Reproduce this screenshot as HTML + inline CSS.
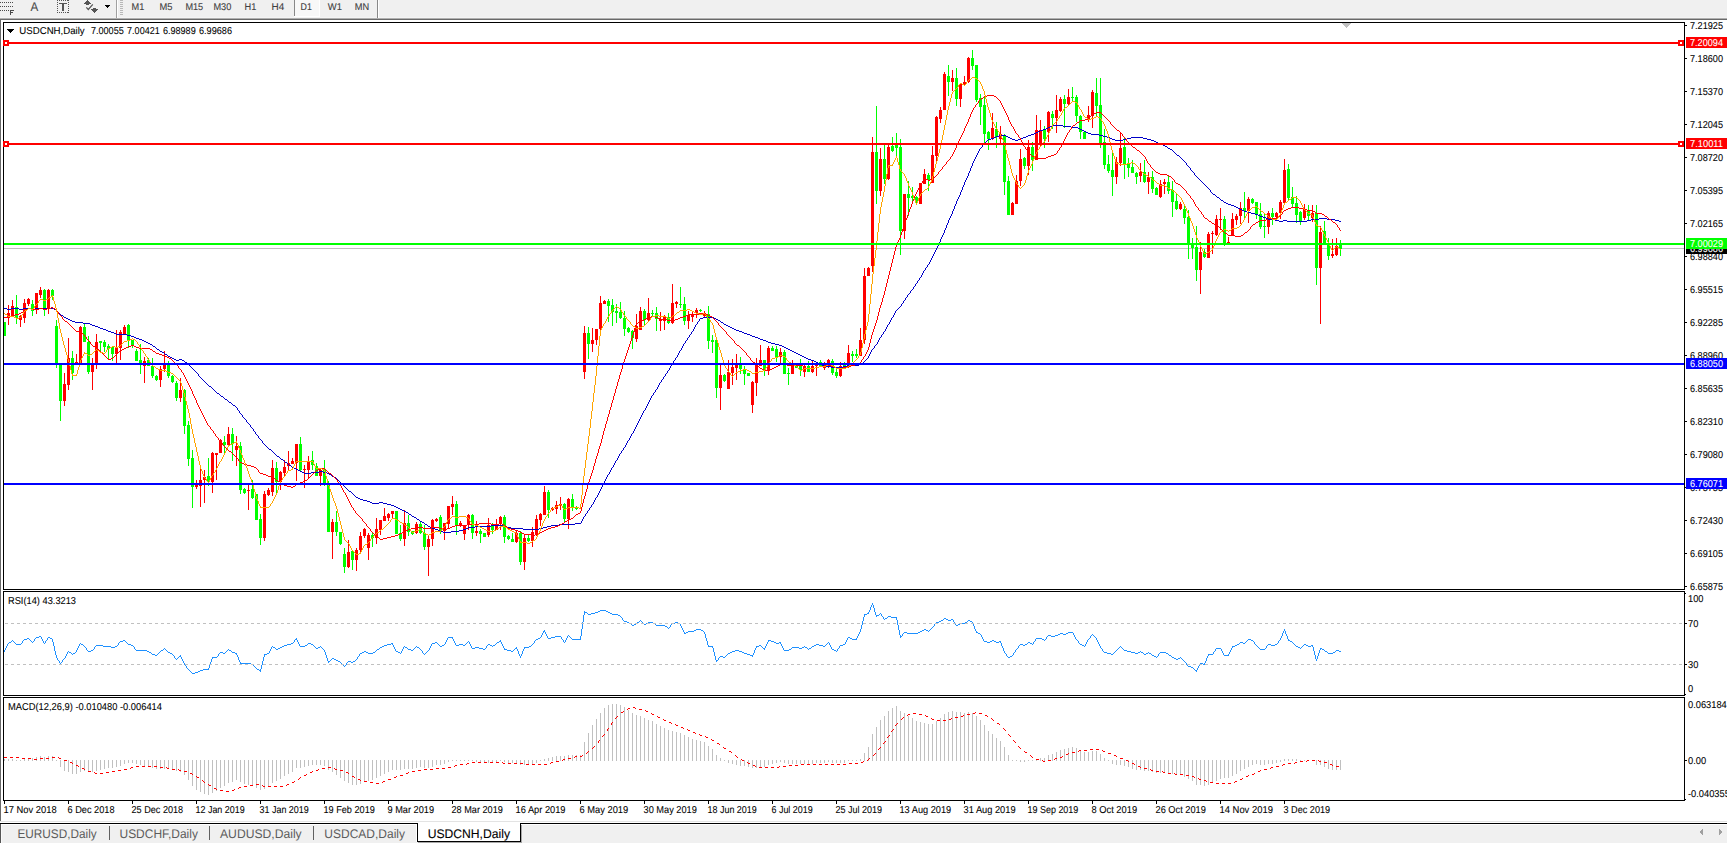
<!DOCTYPE html>
<html><head><meta charset="utf-8"><title>USDCNH,Daily</title>
<style>
html,body{margin:0;padding:0;background:#fff;overflow:hidden}
svg{display:block;font-family:"Liberation Sans",sans-serif}
</style></head><body>
<svg width="1727" height="843" viewBox="0 0 1727 843" shape-rendering="crispEdges" text-rendering="geometricPrecision">
<rect x="0" y="0" width="1727" height="843" fill="#ffffff"/>
<rect x="0" y="0" width="1727" height="18" fill="#f0f0f0"/>
<rect x="0" y="17" width="1727" height="1" fill="#f4f4f4"/>
<rect x="0" y="18" width="1727" height="1" fill="#b0b0b0"/>
<rect x="0" y="19" width="1727" height="1" fill="#696969"/>
<rect x="0" y="20" width="1" height="801" fill="#696969"/>
<rect x="3" y="22" width="1682" height="1" fill="#000"/>
<rect x="3" y="22" width="1" height="568" fill="#000"/>
<rect x="3" y="589" width="1682" height="1" fill="#000"/>
<rect x="1684" y="22" width="1" height="568" fill="#000"/>
<rect x="1684" y="591" width="1" height="105" fill="#000"/>
<rect x="1684" y="697" width="1" height="104" fill="#000"/>
<rect x="3" y="591" width="1682" height="1" fill="#000"/>
<rect x="3" y="591" width="1" height="105" fill="#000"/>
<rect x="3" y="695" width="1682" height="1" fill="#000"/>
<rect x="3" y="697" width="1682" height="1" fill="#000"/>
<rect x="3" y="697" width="1" height="104" fill="#000"/>
<rect x="3" y="800" width="1682" height="1" fill="#000"/>
<polygon points="1341,23 1351,23 1346,28" fill="#c0c0c0"/>
<rect x="4" y="248" width="1680" height="1" fill="#c0c0c0"/>
<g id="candles"><rect x="4" y="322" width="1" height="14" fill="#00ff00"/><rect x="4" y="322" width="2" height="14" fill="#00ff00"/><rect x="8" y="305" width="1" height="20" fill="#ff0000"/><rect x="7" y="313" width="3" height="5" fill="#ff0000"/><rect x="12" y="300" width="1" height="17" fill="#ff0000"/><rect x="11" y="306" width="3" height="10" fill="#ff0000"/><rect x="16" y="295" width="1" height="29" fill="#00ff00"/><rect x="15" y="307" width="3" height="11" fill="#00ff00"/><rect x="20" y="315" width="1" height="12" fill="#ff0000"/><rect x="19" y="316" width="3" height="4" fill="#ff0000"/><rect x="24" y="299" width="1" height="24" fill="#ff0000"/><rect x="23" y="303" width="3" height="15" fill="#ff0000"/><rect x="28" y="298" width="1" height="8" fill="#ff0000"/><rect x="27" y="299" width="3" height="5" fill="#ff0000"/><rect x="32" y="300" width="1" height="16" fill="#00ff00"/><rect x="31" y="304" width="3" height="7" fill="#00ff00"/><rect x="36" y="293" width="1" height="21" fill="#ff0000"/><rect x="35" y="293" width="3" height="15" fill="#ff0000"/><rect x="40" y="287" width="1" height="11" fill="#ff0000"/><rect x="39" y="290" width="3" height="5" fill="#ff0000"/><rect x="44" y="289" width="1" height="27" fill="#00ff00"/><rect x="43" y="290" width="3" height="19" fill="#00ff00"/><rect x="48" y="289" width="1" height="25" fill="#ff0000"/><rect x="47" y="290" width="3" height="18" fill="#ff0000"/><rect x="52" y="289" width="1" height="11" fill="#00ff00"/><rect x="51" y="290" width="3" height="6" fill="#00ff00"/><rect x="56" y="320" width="1" height="48" fill="#00ff00"/><rect x="55" y="326" width="3" height="38" fill="#00ff00"/><rect x="60" y="364" width="1" height="57" fill="#00ff00"/><rect x="59" y="364" width="3" height="37" fill="#00ff00"/><rect x="64" y="373" width="1" height="33" fill="#ff0000"/><rect x="63" y="384" width="3" height="17" fill="#ff0000"/><rect x="68" y="338" width="1" height="52" fill="#ff0000"/><rect x="67" y="358" width="3" height="27" fill="#ff0000"/><rect x="72" y="351" width="1" height="29" fill="#00ff00"/><rect x="71" y="358" width="3" height="15" fill="#00ff00"/><rect x="76" y="354" width="1" height="11" fill="#ff0000"/><rect x="75" y="362" width="3" height="3" fill="#ff0000"/><rect x="80" y="326" width="1" height="39" fill="#ff0000"/><rect x="79" y="327" width="3" height="37" fill="#ff0000"/><rect x="84" y="323" width="1" height="19" fill="#00ff00"/><rect x="83" y="327" width="3" height="15" fill="#00ff00"/><rect x="88" y="336" width="1" height="38" fill="#00ff00"/><rect x="87" y="342" width="3" height="30" fill="#00ff00"/><rect x="92" y="358" width="1" height="32" fill="#ff0000"/><rect x="91" y="363" width="3" height="9" fill="#ff0000"/><rect x="96" y="334" width="1" height="35" fill="#ff0000"/><rect x="95" y="342" width="3" height="21" fill="#ff0000"/><rect x="100" y="341" width="1" height="11" fill="#00ff00"/><rect x="99" y="341" width="3" height="2" fill="#00ff00"/><rect x="104" y="340" width="1" height="12" fill="#00ff00"/><rect x="103" y="342" width="3" height="5" fill="#00ff00"/><rect x="108" y="344" width="1" height="15" fill="#00ff00"/><rect x="107" y="346" width="3" height="3" fill="#00ff00"/><rect x="112" y="346" width="1" height="15" fill="#00ff00"/><rect x="111" y="347" width="3" height="7" fill="#00ff00"/><rect x="116" y="330" width="1" height="33" fill="#ff0000"/><rect x="115" y="347" width="3" height="7" fill="#ff0000"/><rect x="120" y="330" width="1" height="30" fill="#ff0000"/><rect x="119" y="332" width="3" height="16" fill="#ff0000"/><rect x="124" y="325" width="1" height="9" fill="#ff0000"/><rect x="123" y="327" width="3" height="7" fill="#ff0000"/><rect x="128" y="324" width="1" height="24" fill="#00ff00"/><rect x="127" y="325" width="3" height="15" fill="#00ff00"/><rect x="132" y="340" width="1" height="8" fill="#00ff00"/><rect x="131" y="340" width="3" height="6" fill="#00ff00"/><rect x="136" y="349" width="1" height="12" fill="#00ff00"/><rect x="135" y="351" width="3" height="10" fill="#00ff00"/><rect x="140" y="344" width="1" height="30" fill="#00ff00"/><rect x="139" y="360" width="3" height="3" fill="#00ff00"/><rect x="144" y="357" width="1" height="26" fill="#ff0000"/><rect x="143" y="361" width="3" height="5" fill="#ff0000"/><rect x="148" y="358" width="1" height="8" fill="#00ff00"/><rect x="147" y="360" width="3" height="6" fill="#00ff00"/><rect x="152" y="358" width="1" height="20" fill="#00ff00"/><rect x="151" y="366" width="3" height="10" fill="#00ff00"/><rect x="156" y="375" width="1" height="6" fill="#00ff00"/><rect x="155" y="376" width="3" height="4" fill="#00ff00"/><rect x="160" y="366" width="1" height="21" fill="#ff0000"/><rect x="159" y="369" width="3" height="11" fill="#ff0000"/><rect x="164" y="351" width="1" height="21" fill="#ff0000"/><rect x="163" y="363" width="3" height="6" fill="#ff0000"/><rect x="168" y="361" width="1" height="17" fill="#00ff00"/><rect x="167" y="364" width="3" height="12" fill="#00ff00"/><rect x="172" y="375" width="1" height="8" fill="#00ff00"/><rect x="171" y="376" width="3" height="6" fill="#00ff00"/><rect x="176" y="381" width="1" height="20" fill="#00ff00"/><rect x="175" y="383" width="3" height="15" fill="#00ff00"/><rect x="180" y="378" width="1" height="24" fill="#ff0000"/><rect x="179" y="390" width="3" height="8" fill="#ff0000"/><rect x="184" y="389" width="1" height="45" fill="#00ff00"/><rect x="183" y="390" width="3" height="36" fill="#00ff00"/><rect x="188" y="421" width="1" height="45" fill="#00ff00"/><rect x="187" y="425" width="3" height="34" fill="#00ff00"/><rect x="192" y="450" width="1" height="58" fill="#00ff00"/><rect x="191" y="458" width="3" height="29" fill="#00ff00"/><rect x="196" y="480" width="1" height="9" fill="#ff0000"/><rect x="195" y="484" width="3" height="3" fill="#ff0000"/><rect x="200" y="469" width="1" height="38" fill="#ff0000"/><rect x="199" y="480" width="3" height="6" fill="#ff0000"/><rect x="204" y="470" width="1" height="33" fill="#ff0000"/><rect x="203" y="477" width="3" height="3" fill="#ff0000"/><rect x="208" y="458" width="1" height="28" fill="#00ff00"/><rect x="207" y="476" width="3" height="6" fill="#00ff00"/><rect x="212" y="452" width="1" height="41" fill="#ff0000"/><rect x="211" y="453" width="3" height="29" fill="#ff0000"/><rect x="216" y="453" width="1" height="27" fill="#ff0000"/><rect x="215" y="453" width="3" height="2" fill="#ff0000"/><rect x="220" y="439" width="1" height="14" fill="#ff0000"/><rect x="219" y="440" width="3" height="13" fill="#ff0000"/><rect x="224" y="436" width="1" height="17" fill="#00ff00"/><rect x="223" y="442" width="3" height="3" fill="#00ff00"/><rect x="228" y="427" width="1" height="18" fill="#ff0000"/><rect x="227" y="434" width="3" height="11" fill="#ff0000"/><rect x="232" y="428" width="1" height="33" fill="#00ff00"/><rect x="231" y="434" width="3" height="10" fill="#00ff00"/><rect x="236" y="436" width="1" height="30" fill="#ff0000"/><rect x="235" y="446" width="3" height="4" fill="#ff0000"/><rect x="240" y="442" width="1" height="52" fill="#00ff00"/><rect x="239" y="446" width="3" height="44" fill="#00ff00"/><rect x="244" y="488" width="1" height="6" fill="#00ff00"/><rect x="243" y="489" width="3" height="4" fill="#00ff00"/><rect x="248" y="484" width="1" height="26" fill="#ff0000"/><rect x="247" y="490" width="3" height="1" fill="#ff0000"/><rect x="252" y="480" width="1" height="19" fill="#00ff00"/><rect x="251" y="489" width="3" height="9" fill="#00ff00"/><rect x="256" y="494" width="1" height="26" fill="#00ff00"/><rect x="255" y="494" width="3" height="26" fill="#00ff00"/><rect x="260" y="514" width="1" height="31" fill="#00ff00"/><rect x="259" y="519" width="3" height="19" fill="#00ff00"/><rect x="264" y="491" width="1" height="50" fill="#ff0000"/><rect x="263" y="494" width="3" height="44" fill="#ff0000"/><rect x="268" y="488" width="1" height="8" fill="#ff0000"/><rect x="267" y="490" width="3" height="5" fill="#ff0000"/><rect x="272" y="460" width="1" height="36" fill="#ff0000"/><rect x="271" y="468" width="3" height="24" fill="#ff0000"/><rect x="276" y="462" width="1" height="31" fill="#00ff00"/><rect x="275" y="468" width="3" height="14" fill="#00ff00"/><rect x="280" y="471" width="1" height="19" fill="#ff0000"/><rect x="279" y="472" width="3" height="10" fill="#ff0000"/><rect x="284" y="460" width="1" height="16" fill="#ff0000"/><rect x="283" y="467" width="3" height="6" fill="#ff0000"/><rect x="288" y="451" width="1" height="19" fill="#ff0000"/><rect x="287" y="463" width="3" height="3" fill="#ff0000"/><rect x="292" y="458" width="1" height="6" fill="#ff0000"/><rect x="291" y="461" width="3" height="3" fill="#ff0000"/><rect x="296" y="444" width="1" height="37" fill="#ff0000"/><rect x="295" y="444" width="3" height="19" fill="#ff0000"/><rect x="300" y="437" width="1" height="34" fill="#00ff00"/><rect x="299" y="444" width="3" height="26" fill="#00ff00"/><rect x="304" y="465" width="1" height="23" fill="#ff0000"/><rect x="303" y="469" width="3" height="1" fill="#ff0000"/><rect x="308" y="456" width="1" height="23" fill="#ff0000"/><rect x="307" y="461" width="3" height="9" fill="#ff0000"/><rect x="312" y="451" width="1" height="19" fill="#00ff00"/><rect x="311" y="460" width="3" height="5" fill="#00ff00"/><rect x="316" y="463" width="1" height="13" fill="#00ff00"/><rect x="315" y="466" width="3" height="10" fill="#00ff00"/><rect x="320" y="469" width="1" height="17" fill="#ff0000"/><rect x="319" y="470" width="3" height="6" fill="#ff0000"/><rect x="324" y="460" width="1" height="26" fill="#00ff00"/><rect x="323" y="470" width="3" height="13" fill="#00ff00"/><rect x="328" y="481" width="1" height="51" fill="#00ff00"/><rect x="327" y="483" width="3" height="49" fill="#00ff00"/><rect x="332" y="519" width="1" height="40" fill="#ff0000"/><rect x="331" y="522" width="3" height="10" fill="#ff0000"/><rect x="336" y="511" width="1" height="25" fill="#00ff00"/><rect x="335" y="522" width="3" height="10" fill="#00ff00"/><rect x="340" y="532" width="1" height="13" fill="#00ff00"/><rect x="339" y="532" width="3" height="12" fill="#00ff00"/><rect x="344" y="548" width="1" height="25" fill="#00ff00"/><rect x="343" y="554" width="3" height="13" fill="#00ff00"/><rect x="348" y="540" width="1" height="28" fill="#ff0000"/><rect x="347" y="552" width="3" height="15" fill="#ff0000"/><rect x="352" y="550" width="1" height="20" fill="#00ff00"/><rect x="351" y="551" width="3" height="9" fill="#00ff00"/><rect x="356" y="548" width="1" height="23" fill="#ff0000"/><rect x="355" y="550" width="3" height="10" fill="#ff0000"/><rect x="360" y="532" width="1" height="22" fill="#ff0000"/><rect x="359" y="536" width="3" height="14" fill="#ff0000"/><rect x="364" y="528" width="1" height="10" fill="#ff0000"/><rect x="363" y="529" width="3" height="7" fill="#ff0000"/><rect x="368" y="533" width="1" height="27" fill="#ff0000"/><rect x="367" y="535" width="3" height="13" fill="#ff0000"/><rect x="372" y="533" width="1" height="14" fill="#00ff00"/><rect x="371" y="535" width="3" height="3" fill="#00ff00"/><rect x="376" y="518" width="1" height="26" fill="#ff0000"/><rect x="375" y="529" width="3" height="9" fill="#ff0000"/><rect x="380" y="520" width="1" height="15" fill="#ff0000"/><rect x="379" y="520" width="3" height="10" fill="#ff0000"/><rect x="384" y="508" width="1" height="13" fill="#ff0000"/><rect x="383" y="516" width="3" height="5" fill="#ff0000"/><rect x="388" y="513" width="1" height="8" fill="#ff0000"/><rect x="387" y="514" width="3" height="4" fill="#ff0000"/><rect x="392" y="511" width="1" height="7" fill="#ff0000"/><rect x="391" y="511" width="3" height="3" fill="#ff0000"/><rect x="396" y="511" width="1" height="23" fill="#00ff00"/><rect x="395" y="511" width="3" height="23" fill="#00ff00"/><rect x="400" y="525" width="1" height="16" fill="#00ff00"/><rect x="399" y="533" width="3" height="6" fill="#00ff00"/><rect x="404" y="510" width="1" height="36" fill="#ff0000"/><rect x="403" y="523" width="3" height="16" fill="#ff0000"/><rect x="408" y="515" width="1" height="21" fill="#00ff00"/><rect x="407" y="523" width="3" height="9" fill="#00ff00"/><rect x="412" y="531" width="1" height="4" fill="#00ff00"/><rect x="411" y="531" width="3" height="3" fill="#00ff00"/><rect x="416" y="522" width="1" height="12" fill="#ff0000"/><rect x="415" y="524" width="3" height="9" fill="#ff0000"/><rect x="420" y="522" width="1" height="12" fill="#00ff00"/><rect x="419" y="524" width="3" height="9" fill="#00ff00"/><rect x="424" y="525" width="1" height="25" fill="#00ff00"/><rect x="423" y="533" width="3" height="14" fill="#00ff00"/><rect x="428" y="536" width="1" height="40" fill="#ff0000"/><rect x="427" y="539" width="3" height="8" fill="#ff0000"/><rect x="432" y="519" width="1" height="27" fill="#ff0000"/><rect x="431" y="520" width="3" height="19" fill="#ff0000"/><rect x="436" y="518" width="1" height="4" fill="#ff0000"/><rect x="435" y="519" width="3" height="2" fill="#ff0000"/><rect x="440" y="515" width="1" height="19" fill="#00ff00"/><rect x="439" y="517" width="3" height="13" fill="#00ff00"/><rect x="444" y="523" width="1" height="17" fill="#ff0000"/><rect x="443" y="523" width="3" height="8" fill="#ff0000"/><rect x="448" y="506" width="1" height="22" fill="#ff0000"/><rect x="447" y="506" width="3" height="18" fill="#ff0000"/><rect x="452" y="496" width="1" height="19" fill="#ff0000"/><rect x="451" y="504" width="3" height="3" fill="#ff0000"/><rect x="456" y="501" width="1" height="34" fill="#00ff00"/><rect x="455" y="504" width="3" height="21" fill="#00ff00"/><rect x="460" y="521" width="1" height="6" fill="#ff0000"/><rect x="459" y="523" width="3" height="3" fill="#ff0000"/><rect x="464" y="525" width="1" height="15" fill="#ff0000"/><rect x="463" y="525" width="3" height="9" fill="#ff0000"/><rect x="468" y="514" width="1" height="16" fill="#ff0000"/><rect x="467" y="515" width="3" height="10" fill="#ff0000"/><rect x="472" y="514" width="1" height="25" fill="#00ff00"/><rect x="471" y="515" width="3" height="18" fill="#00ff00"/><rect x="476" y="521" width="1" height="15" fill="#ff0000"/><rect x="475" y="531" width="3" height="2" fill="#ff0000"/><rect x="480" y="529" width="1" height="14" fill="#00ff00"/><rect x="479" y="531" width="3" height="3" fill="#00ff00"/><rect x="484" y="533" width="1" height="4" fill="#00ff00"/><rect x="483" y="533" width="3" height="4" fill="#00ff00"/><rect x="488" y="518" width="1" height="19" fill="#ff0000"/><rect x="487" y="525" width="3" height="10" fill="#ff0000"/><rect x="492" y="523" width="1" height="11" fill="#00ff00"/><rect x="491" y="526" width="3" height="4" fill="#00ff00"/><rect x="496" y="519" width="1" height="11" fill="#ff0000"/><rect x="495" y="524" width="3" height="6" fill="#ff0000"/><rect x="500" y="516" width="1" height="14" fill="#ff0000"/><rect x="499" y="517" width="3" height="7" fill="#ff0000"/><rect x="504" y="515" width="1" height="28" fill="#00ff00"/><rect x="503" y="517" width="3" height="20" fill="#00ff00"/><rect x="508" y="535" width="1" height="5" fill="#00ff00"/><rect x="507" y="536" width="3" height="3" fill="#00ff00"/><rect x="512" y="533" width="1" height="9" fill="#00ff00"/><rect x="511" y="539" width="3" height="3" fill="#00ff00"/><rect x="516" y="531" width="1" height="12" fill="#ff0000"/><rect x="515" y="533" width="3" height="9" fill="#ff0000"/><rect x="520" y="531" width="1" height="34" fill="#00ff00"/><rect x="519" y="533" width="3" height="29" fill="#00ff00"/><rect x="524" y="534" width="1" height="36" fill="#ff0000"/><rect x="523" y="538" width="3" height="24" fill="#ff0000"/><rect x="528" y="534" width="1" height="8" fill="#00ff00"/><rect x="527" y="538" width="3" height="3" fill="#00ff00"/><rect x="532" y="527" width="1" height="20" fill="#ff0000"/><rect x="531" y="532" width="3" height="9" fill="#ff0000"/><rect x="536" y="515" width="1" height="21" fill="#ff0000"/><rect x="535" y="519" width="3" height="15" fill="#ff0000"/><rect x="540" y="513" width="1" height="13" fill="#ff0000"/><rect x="539" y="514" width="3" height="6" fill="#ff0000"/><rect x="544" y="486" width="1" height="29" fill="#ff0000"/><rect x="543" y="492" width="3" height="23" fill="#ff0000"/><rect x="548" y="490" width="1" height="28" fill="#00ff00"/><rect x="547" y="492" width="3" height="18" fill="#00ff00"/><rect x="552" y="507" width="1" height="4" fill="#ff0000"/><rect x="551" y="508" width="3" height="2" fill="#ff0000"/><rect x="556" y="501" width="1" height="13" fill="#ff0000"/><rect x="555" y="505" width="3" height="4" fill="#ff0000"/><rect x="560" y="497" width="1" height="13" fill="#ff0000"/><rect x="559" y="504" width="3" height="2" fill="#ff0000"/><rect x="564" y="503" width="1" height="19" fill="#00ff00"/><rect x="563" y="504" width="3" height="15" fill="#00ff00"/><rect x="568" y="498" width="1" height="31" fill="#ff0000"/><rect x="567" y="499" width="3" height="20" fill="#ff0000"/><rect x="572" y="494" width="1" height="17" fill="#00ff00"/><rect x="571" y="499" width="3" height="9" fill="#00ff00"/><rect x="576" y="506" width="1" height="4" fill="#00ff00"/><rect x="575" y="507" width="3" height="2" fill="#00ff00"/><rect x="580" y="507" width="1" height="2" fill="#00ff00"/><rect x="579" y="508" width="3" height="1" fill="#00ff00"/><rect x="584" y="326" width="1" height="53" fill="#ff0000"/><rect x="583" y="333" width="3" height="39" fill="#ff0000"/><rect x="588" y="327" width="1" height="32" fill="#00ff00"/><rect x="587" y="333" width="3" height="11" fill="#00ff00"/><rect x="592" y="328" width="1" height="24" fill="#ff0000"/><rect x="591" y="340" width="3" height="4" fill="#ff0000"/><rect x="596" y="329" width="1" height="16" fill="#ff0000"/><rect x="595" y="329" width="3" height="11" fill="#ff0000"/><rect x="600" y="296" width="1" height="34" fill="#ff0000"/><rect x="599" y="303" width="3" height="26" fill="#ff0000"/><rect x="604" y="300" width="1" height="4" fill="#ff0000"/><rect x="603" y="301" width="3" height="3" fill="#ff0000"/><rect x="608" y="299" width="1" height="23" fill="#00ff00"/><rect x="607" y="301" width="3" height="5" fill="#00ff00"/><rect x="612" y="299" width="1" height="27" fill="#00ff00"/><rect x="611" y="305" width="3" height="7" fill="#00ff00"/><rect x="616" y="304" width="1" height="19" fill="#00ff00"/><rect x="615" y="311" width="3" height="2" fill="#00ff00"/><rect x="620" y="302" width="1" height="17" fill="#00ff00"/><rect x="619" y="312" width="3" height="6" fill="#00ff00"/><rect x="624" y="311" width="1" height="25" fill="#00ff00"/><rect x="623" y="318" width="3" height="11" fill="#00ff00"/><rect x="628" y="327" width="1" height="6" fill="#00ff00"/><rect x="627" y="328" width="3" height="4" fill="#00ff00"/><rect x="632" y="330" width="1" height="19" fill="#00ff00"/><rect x="631" y="331" width="3" height="7" fill="#00ff00"/><rect x="636" y="314" width="1" height="28" fill="#ff0000"/><rect x="635" y="326" width="3" height="13" fill="#ff0000"/><rect x="640" y="307" width="1" height="23" fill="#ff0000"/><rect x="639" y="311" width="3" height="19" fill="#ff0000"/><rect x="644" y="309" width="1" height="16" fill="#00ff00"/><rect x="643" y="311" width="3" height="9" fill="#00ff00"/><rect x="648" y="298" width="1" height="24" fill="#ff0000"/><rect x="647" y="313" width="3" height="7" fill="#ff0000"/><rect x="652" y="310" width="1" height="6" fill="#00ff00"/><rect x="651" y="313" width="3" height="1" fill="#00ff00"/><rect x="656" y="307" width="1" height="24" fill="#00ff00"/><rect x="655" y="313" width="3" height="6" fill="#00ff00"/><rect x="660" y="312" width="1" height="19" fill="#ff0000"/><rect x="659" y="319" width="3" height="2" fill="#ff0000"/><rect x="664" y="315" width="1" height="15" fill="#ff0000"/><rect x="663" y="317" width="3" height="4" fill="#ff0000"/><rect x="668" y="313" width="1" height="11" fill="#00ff00"/><rect x="667" y="317" width="3" height="6" fill="#00ff00"/><rect x="672" y="284" width="1" height="40" fill="#ff0000"/><rect x="671" y="303" width="3" height="20" fill="#ff0000"/><rect x="676" y="301" width="1" height="7" fill="#ff0000"/><rect x="675" y="302" width="3" height="2" fill="#ff0000"/><rect x="680" y="287" width="1" height="21" fill="#00ff00"/><rect x="679" y="304" width="3" height="1" fill="#00ff00"/><rect x="684" y="297" width="1" height="28" fill="#00ff00"/><rect x="683" y="304" width="3" height="17" fill="#00ff00"/><rect x="688" y="311" width="1" height="18" fill="#ff0000"/><rect x="687" y="315" width="3" height="6" fill="#ff0000"/><rect x="692" y="311" width="1" height="11" fill="#ff0000"/><rect x="691" y="314" width="3" height="3" fill="#ff0000"/><rect x="696" y="308" width="1" height="10" fill="#ff0000"/><rect x="695" y="310" width="3" height="3" fill="#ff0000"/><rect x="700" y="309" width="1" height="3" fill="#00ff00"/><rect x="699" y="310" width="3" height="1" fill="#00ff00"/><rect x="704" y="311" width="1" height="6" fill="#ff0000"/><rect x="703" y="314" width="3" height="2" fill="#ff0000"/><rect x="708" y="306" width="1" height="43" fill="#00ff00"/><rect x="707" y="314" width="3" height="27" fill="#00ff00"/><rect x="712" y="335" width="1" height="18" fill="#00ff00"/><rect x="711" y="340" width="3" height="2" fill="#00ff00"/><rect x="716" y="340" width="1" height="58" fill="#00ff00"/><rect x="715" y="340" width="3" height="48" fill="#00ff00"/><rect x="720" y="364" width="1" height="46" fill="#ff0000"/><rect x="719" y="375" width="3" height="13" fill="#ff0000"/><rect x="724" y="374" width="1" height="8" fill="#00ff00"/><rect x="723" y="375" width="3" height="6" fill="#00ff00"/><rect x="728" y="360" width="1" height="29" fill="#ff0000"/><rect x="727" y="372" width="3" height="17" fill="#ff0000"/><rect x="732" y="359" width="1" height="26" fill="#ff0000"/><rect x="731" y="367" width="3" height="6" fill="#ff0000"/><rect x="736" y="354" width="1" height="26" fill="#ff0000"/><rect x="735" y="365" width="3" height="3" fill="#ff0000"/><rect x="740" y="357" width="1" height="17" fill="#00ff00"/><rect x="739" y="365" width="3" height="4" fill="#00ff00"/><rect x="744" y="366" width="1" height="19" fill="#00ff00"/><rect x="743" y="369" width="3" height="5" fill="#00ff00"/><rect x="748" y="373" width="1" height="3" fill="#00ff00"/><rect x="747" y="373" width="3" height="3" fill="#00ff00"/><rect x="752" y="381" width="1" height="32" fill="#ff0000"/><rect x="751" y="382" width="3" height="23" fill="#ff0000"/><rect x="756" y="358" width="1" height="38" fill="#ff0000"/><rect x="755" y="363" width="3" height="20" fill="#ff0000"/><rect x="760" y="345" width="1" height="21" fill="#ff0000"/><rect x="759" y="360" width="3" height="6" fill="#ff0000"/><rect x="764" y="360" width="1" height="16" fill="#00ff00"/><rect x="763" y="360" width="3" height="10" fill="#00ff00"/><rect x="768" y="346" width="1" height="29" fill="#ff0000"/><rect x="767" y="348" width="3" height="23" fill="#ff0000"/><rect x="772" y="346" width="1" height="5" fill="#00ff00"/><rect x="771" y="348" width="3" height="3" fill="#00ff00"/><rect x="776" y="346" width="1" height="16" fill="#00ff00"/><rect x="775" y="349" width="3" height="8" fill="#00ff00"/><rect x="780" y="348" width="1" height="15" fill="#ff0000"/><rect x="779" y="352" width="3" height="5" fill="#ff0000"/><rect x="784" y="350" width="1" height="24" fill="#00ff00"/><rect x="783" y="352" width="3" height="22" fill="#00ff00"/><rect x="788" y="368" width="1" height="17" fill="#00ff00"/><rect x="787" y="373" width="3" height="1" fill="#00ff00"/><rect x="792" y="360" width="1" height="14" fill="#ff0000"/><rect x="791" y="366" width="3" height="8" fill="#ff0000"/><rect x="796" y="365" width="1" height="3" fill="#00ff00"/><rect x="795" y="366" width="3" height="2" fill="#00ff00"/><rect x="800" y="359" width="1" height="17" fill="#00ff00"/><rect x="799" y="366" width="3" height="4" fill="#00ff00"/><rect x="804" y="365" width="1" height="12" fill="#ff0000"/><rect x="803" y="366" width="3" height="6" fill="#ff0000"/><rect x="808" y="361" width="1" height="11" fill="#00ff00"/><rect x="807" y="366" width="3" height="6" fill="#00ff00"/><rect x="812" y="360" width="1" height="13" fill="#ff0000"/><rect x="811" y="366" width="3" height="6" fill="#ff0000"/><rect x="816" y="362" width="1" height="14" fill="#ff0000"/><rect x="815" y="363" width="3" height="3" fill="#ff0000"/><rect x="820" y="360" width="1" height="6" fill="#00ff00"/><rect x="819" y="362" width="3" height="4" fill="#00ff00"/><rect x="824" y="362" width="1" height="8" fill="#ff0000"/><rect x="823" y="366" width="3" height="2" fill="#ff0000"/><rect x="828" y="359" width="1" height="9" fill="#ff0000"/><rect x="827" y="360" width="3" height="7" fill="#ff0000"/><rect x="832" y="359" width="1" height="16" fill="#00ff00"/><rect x="831" y="361" width="3" height="12" fill="#00ff00"/><rect x="836" y="368" width="1" height="10" fill="#00ff00"/><rect x="835" y="372" width="3" height="4" fill="#00ff00"/><rect x="840" y="362" width="1" height="15" fill="#ff0000"/><rect x="839" y="366" width="3" height="10" fill="#ff0000"/><rect x="844" y="362" width="1" height="5" fill="#00ff00"/><rect x="843" y="364" width="3" height="2" fill="#00ff00"/><rect x="848" y="345" width="1" height="23" fill="#ff0000"/><rect x="847" y="353" width="3" height="13" fill="#ff0000"/><rect x="852" y="351" width="1" height="11" fill="#00ff00"/><rect x="851" y="354" width="3" height="2" fill="#00ff00"/><rect x="856" y="349" width="1" height="9" fill="#00ff00"/><rect x="855" y="354" width="3" height="2" fill="#00ff00"/><rect x="860" y="328" width="1" height="28" fill="#ff0000"/><rect x="859" y="340" width="3" height="16" fill="#ff0000"/><rect x="864" y="268" width="1" height="76" fill="#ff0000"/><rect x="863" y="276" width="3" height="64" fill="#ff0000"/><rect x="868" y="267" width="1" height="9" fill="#ff0000"/><rect x="867" y="268" width="3" height="8" fill="#ff0000"/><rect x="872" y="137" width="1" height="135" fill="#ff0000"/><rect x="871" y="152" width="3" height="114" fill="#ff0000"/><rect x="876" y="106" width="1" height="98" fill="#00ff00"/><rect x="875" y="152" width="3" height="39" fill="#00ff00"/><rect x="880" y="148" width="1" height="48" fill="#ff0000"/><rect x="879" y="159" width="3" height="32" fill="#ff0000"/><rect x="884" y="145" width="1" height="39" fill="#00ff00"/><rect x="883" y="159" width="3" height="20" fill="#00ff00"/><rect x="888" y="145" width="1" height="35" fill="#ff0000"/><rect x="887" y="147" width="3" height="32" fill="#ff0000"/><rect x="892" y="137" width="1" height="15" fill="#00ff00"/><rect x="891" y="146" width="3" height="5" fill="#00ff00"/><rect x="896" y="133" width="1" height="24" fill="#00ff00"/><rect x="895" y="145" width="3" height="3" fill="#00ff00"/><rect x="900" y="139" width="1" height="116" fill="#00ff00"/><rect x="899" y="147" width="3" height="84" fill="#00ff00"/><rect x="904" y="194" width="1" height="45" fill="#ff0000"/><rect x="903" y="194" width="3" height="37" fill="#ff0000"/><rect x="908" y="181" width="1" height="35" fill="#00ff00"/><rect x="907" y="194" width="3" height="4" fill="#00ff00"/><rect x="912" y="187" width="1" height="14" fill="#00ff00"/><rect x="911" y="196" width="3" height="2" fill="#00ff00"/><rect x="916" y="196" width="1" height="8" fill="#00ff00"/><rect x="915" y="197" width="3" height="4" fill="#00ff00"/><rect x="920" y="183" width="1" height="21" fill="#ff0000"/><rect x="919" y="183" width="3" height="21" fill="#ff0000"/><rect x="924" y="169" width="1" height="15" fill="#ff0000"/><rect x="923" y="174" width="3" height="10" fill="#ff0000"/><rect x="928" y="173" width="1" height="18" fill="#00ff00"/><rect x="927" y="175" width="3" height="5" fill="#00ff00"/><rect x="932" y="146" width="1" height="37" fill="#ff0000"/><rect x="931" y="155" width="3" height="28" fill="#ff0000"/><rect x="936" y="116" width="1" height="48" fill="#ff0000"/><rect x="935" y="117" width="3" height="39" fill="#ff0000"/><rect x="940" y="107" width="1" height="16" fill="#ff0000"/><rect x="939" y="110" width="3" height="9" fill="#ff0000"/><rect x="944" y="72" width="1" height="38" fill="#ff0000"/><rect x="943" y="74" width="3" height="36" fill="#ff0000"/><rect x="948" y="65" width="1" height="31" fill="#00ff00"/><rect x="947" y="76" width="3" height="6" fill="#00ff00"/><rect x="952" y="70" width="1" height="21" fill="#ff0000"/><rect x="951" y="78" width="3" height="4" fill="#ff0000"/><rect x="956" y="68" width="1" height="38" fill="#00ff00"/><rect x="955" y="78" width="3" height="21" fill="#00ff00"/><rect x="960" y="83" width="1" height="24" fill="#ff0000"/><rect x="959" y="84" width="3" height="15" fill="#ff0000"/><rect x="964" y="76" width="1" height="10" fill="#ff0000"/><rect x="963" y="82" width="3" height="3" fill="#ff0000"/><rect x="968" y="57" width="1" height="26" fill="#ff0000"/><rect x="967" y="58" width="3" height="24" fill="#ff0000"/><rect x="972" y="50" width="1" height="20" fill="#00ff00"/><rect x="971" y="58" width="3" height="8" fill="#00ff00"/><rect x="976" y="65" width="1" height="37" fill="#00ff00"/><rect x="975" y="65" width="3" height="35" fill="#00ff00"/><rect x="980" y="94" width="1" height="31" fill="#00ff00"/><rect x="979" y="98" width="3" height="9" fill="#00ff00"/><rect x="984" y="97" width="1" height="46" fill="#00ff00"/><rect x="983" y="105" width="3" height="29" fill="#00ff00"/><rect x="988" y="131" width="1" height="19" fill="#00ff00"/><rect x="987" y="132" width="3" height="7" fill="#00ff00"/><rect x="992" y="113" width="1" height="27" fill="#ff0000"/><rect x="991" y="128" width="3" height="10" fill="#ff0000"/><rect x="996" y="122" width="1" height="26" fill="#00ff00"/><rect x="995" y="129" width="3" height="8" fill="#00ff00"/><rect x="1000" y="126" width="1" height="18" fill="#ff0000"/><rect x="999" y="134" width="3" height="5" fill="#ff0000"/><rect x="1004" y="134" width="1" height="61" fill="#00ff00"/><rect x="1003" y="135" width="3" height="47" fill="#00ff00"/><rect x="1008" y="176" width="1" height="39" fill="#00ff00"/><rect x="1007" y="181" width="3" height="34" fill="#00ff00"/><rect x="1012" y="202" width="1" height="13" fill="#ff0000"/><rect x="1011" y="203" width="3" height="12" fill="#ff0000"/><rect x="1016" y="175" width="1" height="29" fill="#ff0000"/><rect x="1015" y="181" width="3" height="23" fill="#ff0000"/><rect x="1020" y="149" width="1" height="37" fill="#ff0000"/><rect x="1019" y="159" width="3" height="22" fill="#ff0000"/><rect x="1024" y="157" width="1" height="12" fill="#00ff00"/><rect x="1023" y="158" width="3" height="8" fill="#00ff00"/><rect x="1028" y="140" width="1" height="35" fill="#ff0000"/><rect x="1027" y="147" width="3" height="19" fill="#ff0000"/><rect x="1032" y="142" width="1" height="29" fill="#00ff00"/><rect x="1031" y="147" width="3" height="13" fill="#00ff00"/><rect x="1036" y="115" width="1" height="45" fill="#ff0000"/><rect x="1035" y="130" width="3" height="30" fill="#ff0000"/><rect x="1040" y="120" width="1" height="26" fill="#ff0000"/><rect x="1039" y="130" width="3" height="15" fill="#ff0000"/><rect x="1044" y="126" width="1" height="22" fill="#00ff00"/><rect x="1043" y="130" width="3" height="9" fill="#00ff00"/><rect x="1048" y="111" width="1" height="31" fill="#ff0000"/><rect x="1047" y="112" width="3" height="20" fill="#ff0000"/><rect x="1052" y="111" width="1" height="18" fill="#00ff00"/><rect x="1051" y="114" width="3" height="4" fill="#00ff00"/><rect x="1056" y="95" width="1" height="38" fill="#ff0000"/><rect x="1055" y="110" width="3" height="8" fill="#ff0000"/><rect x="1060" y="97" width="1" height="15" fill="#ff0000"/><rect x="1059" y="99" width="3" height="12" fill="#ff0000"/><rect x="1064" y="95" width="1" height="33" fill="#00ff00"/><rect x="1063" y="99" width="3" height="5" fill="#00ff00"/><rect x="1068" y="89" width="1" height="16" fill="#ff0000"/><rect x="1067" y="97" width="3" height="7" fill="#ff0000"/><rect x="1072" y="87" width="1" height="14" fill="#00ff00"/><rect x="1071" y="97" width="3" height="1" fill="#00ff00"/><rect x="1076" y="95" width="1" height="27" fill="#00ff00"/><rect x="1075" y="97" width="3" height="19" fill="#00ff00"/><rect x="1080" y="115" width="1" height="24" fill="#00ff00"/><rect x="1079" y="116" width="3" height="16" fill="#00ff00"/><rect x="1084" y="131" width="1" height="8" fill="#00ff00"/><rect x="1083" y="132" width="3" height="7" fill="#00ff00"/><rect x="1088" y="106" width="1" height="16" fill="#ff0000"/><rect x="1087" y="115" width="3" height="5" fill="#ff0000"/><rect x="1092" y="90" width="1" height="38" fill="#ff0000"/><rect x="1091" y="92" width="3" height="24" fill="#ff0000"/><rect x="1096" y="78" width="1" height="38" fill="#00ff00"/><rect x="1095" y="93" width="3" height="13" fill="#00ff00"/><rect x="1100" y="78" width="1" height="70" fill="#00ff00"/><rect x="1099" y="105" width="3" height="38" fill="#00ff00"/><rect x="1104" y="129" width="1" height="40" fill="#00ff00"/><rect x="1103" y="142" width="3" height="23" fill="#00ff00"/><rect x="1108" y="155" width="1" height="18" fill="#00ff00"/><rect x="1107" y="164" width="3" height="7" fill="#00ff00"/><rect x="1112" y="153" width="1" height="43" fill="#00ff00"/><rect x="1111" y="170" width="3" height="7" fill="#00ff00"/><rect x="1116" y="157" width="1" height="27" fill="#ff0000"/><rect x="1115" y="162" width="3" height="15" fill="#ff0000"/><rect x="1120" y="133" width="1" height="33" fill="#ff0000"/><rect x="1119" y="148" width="3" height="15" fill="#ff0000"/><rect x="1124" y="138" width="1" height="41" fill="#00ff00"/><rect x="1123" y="147" width="3" height="17" fill="#00ff00"/><rect x="1128" y="158" width="1" height="19" fill="#00ff00"/><rect x="1127" y="164" width="3" height="4" fill="#00ff00"/><rect x="1132" y="160" width="1" height="13" fill="#00ff00"/><rect x="1131" y="167" width="3" height="6" fill="#00ff00"/><rect x="1136" y="172" width="1" height="12" fill="#00ff00"/><rect x="1135" y="173" width="3" height="4" fill="#00ff00"/><rect x="1140" y="163" width="1" height="19" fill="#ff0000"/><rect x="1139" y="172" width="3" height="4" fill="#ff0000"/><rect x="1144" y="160" width="1" height="23" fill="#00ff00"/><rect x="1143" y="172" width="3" height="10" fill="#00ff00"/><rect x="1148" y="172" width="1" height="22" fill="#ff0000"/><rect x="1147" y="177" width="3" height="5" fill="#ff0000"/><rect x="1152" y="171" width="1" height="22" fill="#00ff00"/><rect x="1151" y="177" width="3" height="12" fill="#00ff00"/><rect x="1156" y="187" width="1" height="8" fill="#00ff00"/><rect x="1155" y="188" width="3" height="7" fill="#00ff00"/><rect x="1160" y="180" width="1" height="18" fill="#ff0000"/><rect x="1159" y="184" width="3" height="13" fill="#ff0000"/><rect x="1164" y="179" width="1" height="15" fill="#ff0000"/><rect x="1163" y="182" width="3" height="2" fill="#ff0000"/><rect x="1168" y="176" width="1" height="18" fill="#00ff00"/><rect x="1167" y="182" width="3" height="9" fill="#00ff00"/><rect x="1172" y="181" width="1" height="36" fill="#00ff00"/><rect x="1171" y="190" width="3" height="12" fill="#00ff00"/><rect x="1176" y="194" width="1" height="16" fill="#00ff00"/><rect x="1175" y="201" width="3" height="8" fill="#00ff00"/><rect x="1180" y="202" width="1" height="8" fill="#ff0000"/><rect x="1179" y="204" width="3" height="5" fill="#ff0000"/><rect x="1184" y="206" width="1" height="18" fill="#00ff00"/><rect x="1183" y="209" width="3" height="9" fill="#00ff00"/><rect x="1188" y="210" width="1" height="49" fill="#00ff00"/><rect x="1187" y="217" width="3" height="26" fill="#00ff00"/><rect x="1192" y="238" width="1" height="21" fill="#00ff00"/><rect x="1191" y="243" width="3" height="5" fill="#00ff00"/><rect x="1196" y="226" width="1" height="55" fill="#00ff00"/><rect x="1195" y="247" width="3" height="23" fill="#00ff00"/><rect x="1200" y="242" width="1" height="52" fill="#ff0000"/><rect x="1199" y="252" width="3" height="18" fill="#ff0000"/><rect x="1204" y="249" width="1" height="9" fill="#00ff00"/><rect x="1203" y="252" width="3" height="5" fill="#00ff00"/><rect x="1208" y="232" width="1" height="26" fill="#ff0000"/><rect x="1207" y="234" width="3" height="24" fill="#ff0000"/><rect x="1212" y="231" width="1" height="23" fill="#ff0000"/><rect x="1211" y="233" width="3" height="1" fill="#ff0000"/><rect x="1216" y="215" width="1" height="21" fill="#ff0000"/><rect x="1215" y="219" width="3" height="16" fill="#ff0000"/><rect x="1220" y="208" width="1" height="22" fill="#ff0000"/><rect x="1219" y="219" width="3" height="1" fill="#ff0000"/><rect x="1224" y="216" width="1" height="30" fill="#00ff00"/><rect x="1223" y="219" width="3" height="24" fill="#00ff00"/><rect x="1228" y="237" width="1" height="6" fill="#ff0000"/><rect x="1227" y="242" width="3" height="1" fill="#ff0000"/><rect x="1232" y="213" width="1" height="23" fill="#ff0000"/><rect x="1231" y="219" width="3" height="17" fill="#ff0000"/><rect x="1236" y="214" width="1" height="11" fill="#ff0000"/><rect x="1235" y="216" width="3" height="4" fill="#ff0000"/><rect x="1240" y="202" width="1" height="22" fill="#ff0000"/><rect x="1239" y="208" width="3" height="8" fill="#ff0000"/><rect x="1244" y="192" width="1" height="27" fill="#00ff00"/><rect x="1243" y="208" width="3" height="3" fill="#00ff00"/><rect x="1248" y="197" width="1" height="26" fill="#ff0000"/><rect x="1247" y="199" width="3" height="12" fill="#ff0000"/><rect x="1252" y="198" width="1" height="6" fill="#00ff00"/><rect x="1251" y="199" width="3" height="4" fill="#00ff00"/><rect x="1256" y="202" width="1" height="17" fill="#00ff00"/><rect x="1255" y="202" width="3" height="12" fill="#00ff00"/><rect x="1260" y="203" width="1" height="26" fill="#00ff00"/><rect x="1259" y="214" width="3" height="13" fill="#00ff00"/><rect x="1264" y="214" width="1" height="24" fill="#00ff00"/><rect x="1263" y="226" width="3" height="1" fill="#00ff00"/><rect x="1268" y="211" width="1" height="23" fill="#ff0000"/><rect x="1267" y="213" width="3" height="14" fill="#ff0000"/><rect x="1272" y="208" width="1" height="17" fill="#00ff00"/><rect x="1271" y="213" width="3" height="4" fill="#00ff00"/><rect x="1276" y="212" width="1" height="8" fill="#ff0000"/><rect x="1275" y="213" width="3" height="4" fill="#ff0000"/><rect x="1280" y="200" width="1" height="19" fill="#ff0000"/><rect x="1279" y="202" width="3" height="11" fill="#ff0000"/><rect x="1284" y="159" width="1" height="44" fill="#ff0000"/><rect x="1283" y="170" width="3" height="33" fill="#ff0000"/><rect x="1288" y="164" width="1" height="37" fill="#00ff00"/><rect x="1287" y="169" width="3" height="29" fill="#00ff00"/><rect x="1292" y="187" width="1" height="20" fill="#00ff00"/><rect x="1291" y="197" width="3" height="7" fill="#00ff00"/><rect x="1296" y="196" width="1" height="27" fill="#00ff00"/><rect x="1295" y="203" width="3" height="12" fill="#00ff00"/><rect x="1300" y="211" width="1" height="14" fill="#00ff00"/><rect x="1299" y="212" width="3" height="10" fill="#00ff00"/><rect x="1304" y="204" width="1" height="16" fill="#ff0000"/><rect x="1303" y="210" width="3" height="8" fill="#ff0000"/><rect x="1308" y="205" width="1" height="15" fill="#00ff00"/><rect x="1307" y="211" width="3" height="5" fill="#00ff00"/><rect x="1312" y="205" width="1" height="17" fill="#ff0000"/><rect x="1311" y="213" width="3" height="5" fill="#ff0000"/><rect x="1316" y="205" width="1" height="80" fill="#00ff00"/><rect x="1315" y="213" width="3" height="55" fill="#00ff00"/><rect x="1320" y="226" width="1" height="98" fill="#ff0000"/><rect x="1319" y="232" width="3" height="36" fill="#ff0000"/><rect x="1324" y="221" width="1" height="22" fill="#00ff00"/><rect x="1323" y="231" width="3" height="12" fill="#00ff00"/><rect x="1328" y="238" width="1" height="22" fill="#00ff00"/><rect x="1327" y="245" width="3" height="11" fill="#00ff00"/><rect x="1332" y="239" width="1" height="19" fill="#ff0000"/><rect x="1331" y="254" width="3" height="2" fill="#ff0000"/><rect x="1336" y="238" width="1" height="18" fill="#ff0000"/><rect x="1335" y="246" width="3" height="9" fill="#ff0000"/><rect x="1340" y="240" width="1" height="16" fill="#00ff00"/><rect x="1339" y="244" width="3" height="5" fill="#00ff00"/></g>
<path d="M1052,125h11v1h-11zM1050,126h2v1h-2zM1063,126h8v1h-8zM1048,127h2v1h-2zM1071,127h7v1h-7zM1046,128h2v1h-2zM1078,128h2v1h-2zM1043,129h3v1h-3zM1080,129h2v1h-2zM1040,130h3v1h-3zM1082,130h2v1h-2zM1038,131h2v1h-2zM1084,131h2v1h-2zM1036,132h2v1h-2zM1086,132h2v1h-2zM1034,133h2v1h-2zM1088,133h3v1h-3zM1031,134h3v1h-3zM1091,134h8v1h-8zM999,135h7v1h-7zM1028,135h3v1h-3zM1099,135h4v1h-4zM996,136h3v1h-3zM1006,136h2v1h-2zM1026,136h2v1h-2zM1103,136h4v1h-4zM994,137h2v1h-2zM1008,137h2v1h-2zM1023,137h3v1h-3zM1107,137h3v1h-3zM1131,137h12v1h-12zM991,138h3v1h-3zM1010,138h2v1h-2zM1020,138h3v1h-3zM1110,138h2v1h-2zM1127,138h4v1h-4zM1143,138h4v1h-4zM988,139h3v1h-3zM1012,139h3v1h-3zM1018,139h2v1h-2zM1112,139h3v1h-3zM1123,139h4v1h-4zM1147,139h4v1h-4zM987,140h1v1h-1zM1015,140h3v1h-3zM1115,140h8v1h-8zM1151,140h3v1h-3zM986,141h1v1h-1zM1154,141h2v1h-2zM985,142h1v1h-1zM1156,142h2v1h-2zM984,143h1v1h-1zM1158,143h2v1h-2zM983,144h1v1h-1zM1160,144h3v1h-3zM1163,145h2v1h-2zM982,145h1v2h-1zM1165,146h2v1h-2zM981,147h1v1h-1zM1167,147h1v1h-1zM980,148h1v1h-1zM1168,148h2v1h-2zM1170,149h2v1h-2zM979,149h1v2h-1zM1172,150h1v1h-1zM1173,151h1v1h-1zM978,151h1v2h-1zM1174,152h1v1h-1zM1175,153h1v1h-1zM977,153h1v2h-1zM1176,154h1v1h-1zM1177,155h2v1h-2zM976,155h1v2h-1zM1179,156h1v1h-1zM1180,157h1v1h-1zM975,157h1v2h-1zM1181,158h1v1h-1zM1182,159h1v1h-1zM974,159h1v2h-1zM1183,160h1v1h-1zM1184,161h1v1h-1zM973,161h1v2h-1zM1185,162h1v1h-1zM1186,163h1v2h-1zM972,163h1v3h-1zM1187,165h1v1h-1zM1188,166h1v1h-1zM971,166h1v2h-1zM1189,167h1v1h-1zM1190,168h1v2h-1zM970,168h1v3h-1zM1191,170h1v1h-1zM1192,171h1v1h-1zM969,171h1v2h-1zM1193,172h1v1h-1zM1194,173h1v2h-1zM968,173h1v3h-1zM1195,175h1v1h-1zM1196,176h1v1h-1zM967,176h1v2h-1zM1197,177h1v1h-1zM1198,178h1v1h-1zM966,178h1v2h-1zM1199,179h1v1h-1zM1200,180h1v1h-1zM965,180h1v2h-1zM1201,181h1v1h-1zM1202,182h1v1h-1zM964,182h1v3h-1zM1203,183h1v1h-1zM1204,184h1v1h-1zM1205,185h1v1h-1zM963,185h1v2h-1zM1206,186h1v1h-1zM1207,187h1v1h-1zM962,187h1v3h-1zM1208,188h1v1h-1zM1209,189h1v1h-1zM961,190h1v2h-1zM1210,190h1v2h-1zM1211,192h1v1h-1zM960,192h1v3h-1zM1212,193h1v1h-1zM1213,194h2v1h-2zM1215,195h1v1h-1zM959,195h1v2h-1zM1216,196h1v1h-1zM1217,197h2v1h-2zM958,197h1v2h-1zM1219,198h1v1h-1zM1220,199h1v1h-1zM957,199h1v2h-1zM1221,200h2v1h-2zM1223,201h1v1h-1zM956,201h1v3h-1zM1224,202h2v1h-2zM1226,203h2v1h-2zM1228,204h3v1h-3zM955,204h1v2h-1zM1231,205h3v1h-3zM1234,206h2v1h-2zM954,206h1v3h-1zM1236,207h2v1h-2zM1238,208h2v1h-2zM1240,209h2v1h-2zM953,209h1v2h-1zM1242,210h2v1h-2zM1244,211h3v1h-3zM952,211h1v3h-1zM1247,212h4v1h-4zM1251,213h4v1h-4zM1255,214h3v1h-3zM951,214h1v2h-1zM1258,215h2v1h-2zM1260,216h3v1h-3zM950,216h1v2h-1zM1263,217h3v1h-3zM1266,218h2v1h-2zM1319,218h8v1h-8zM949,218h1v2h-1zM1268,219h7v1h-7zM1311,219h8v1h-8zM1327,219h8v1h-8zM1275,220h4v1h-4zM1283,220h4v1h-4zM1307,220h4v1h-4zM1335,220h4v1h-4zM948,220h1v3h-1zM1279,221h4v1h-4zM1287,221h20v1h-20zM1339,221h2v1h-2zM947,223h1v2h-1zM946,225h1v3h-1zM945,228h1v2h-1zM944,230h1v3h-1zM943,233h1v2h-1zM942,235h1v2h-1zM941,237h1v2h-1zM940,239h1v3h-1zM939,242h1v2h-1zM938,244h1v2h-1zM937,246h1v2h-1zM936,248h1v2h-1zM935,250h1v2h-1zM934,252h1v2h-1zM933,254h1v2h-1zM932,256h1v2h-1zM931,258h1v2h-1zM930,260h1v2h-1zM929,262h1v2h-1zM928,264h1v1h-1zM927,265h1v2h-1zM926,267h1v1h-1zM925,268h1v2h-1zM924,270h1v1h-1zM923,271h1v2h-1zM922,273h1v2h-1zM921,275h1v2h-1zM920,277h1v1h-1zM919,278h1v2h-1zM918,280h1v1h-1zM917,281h1v2h-1zM916,283h1v1h-1zM915,284h1v2h-1zM914,286h1v1h-1zM913,287h1v2h-1zM912,289h1v1h-1zM911,290h1v1h-1zM910,291h1v2h-1zM909,293h1v1h-1zM908,294h1v1h-1zM907,295h1v2h-1zM906,297h1v1h-1zM905,298h1v2h-1zM904,300h1v1h-1zM903,301h1v2h-1zM902,303h1v1h-1zM901,304h1v2h-1zM900,306h1v1h-1zM899,307h1v1h-1zM4,308h3v1h-3zM11,308h8v1h-8zM23,308h8v1h-8zM35,308h19v1h-19zM898,308h1v1h-1zM7,309h4v1h-4zM19,309h4v1h-4zM31,309h4v1h-4zM54,309h2v1h-2zM897,309h1v1h-1zM56,310h1v1h-1zM896,310h1v1h-1zM57,311h1v1h-1zM895,311h1v2h-1zM58,312h1v1h-1zM59,313h1v1h-1zM894,313h1v2h-1zM60,314h1v1h-1zM61,315h2v1h-2zM893,315h1v2h-1zM63,316h1v1h-1zM64,317h2v1h-2zM703,317h11v1h-11zM892,317h1v1h-1zM66,318h2v1h-2zM700,318h3v1h-3zM714,318h2v1h-2zM891,318h1v2h-1zM68,319h2v1h-2zM716,319h2v1h-2zM699,319h1v2h-1zM70,320h2v1h-2zM718,320h2v1h-2zM890,320h1v2h-1zM72,321h3v1h-3zM698,321h1v1h-1zM720,321h1v1h-1zM75,322h8v1h-8zM721,322h2v1h-2zM697,322h1v2h-1zM889,322h1v2h-1zM83,323h7v1h-7zM723,323h1v1h-1zM90,324h2v1h-2zM696,324h1v1h-1zM724,324h2v1h-2zM888,324h1v1h-1zM92,325h3v1h-3zM726,325h2v1h-2zM695,325h1v2h-1zM887,325h1v2h-1zM95,326h3v1h-3zM728,326h2v1h-2zM98,327h2v1h-2zM730,327h2v1h-2zM694,327h1v2h-1zM886,327h1v2h-1zM100,328h3v1h-3zM732,328h2v1h-2zM103,329h3v1h-3zM734,329h2v1h-2zM693,329h1v2h-1zM885,329h1v2h-1zM106,330h2v1h-2zM736,330h3v1h-3zM108,331h3v1h-3zM692,331h1v1h-1zM739,331h3v1h-3zM884,331h1v1h-1zM111,332h3v1h-3zM742,332h2v1h-2zM691,332h1v2h-1zM883,332h1v2h-1zM114,333h2v1h-2zM744,333h3v1h-3zM116,334h11v1h-11zM690,334h1v1h-1zM747,334h3v1h-3zM882,334h1v1h-1zM127,335h4v1h-4zM750,335h2v1h-2zM689,335h1v2h-1zM881,335h1v2h-1zM131,336h3v1h-3zM752,336h3v1h-3zM134,337h2v1h-2zM688,337h1v1h-1zM755,337h3v1h-3zM880,337h1v1h-1zM136,338h3v1h-3zM758,338h2v1h-2zM687,338h1v2h-1zM879,338h1v2h-1zM139,339h3v1h-3zM760,339h3v1h-3zM142,340h2v1h-2zM686,340h1v1h-1zM763,340h3v1h-3zM878,340h1v2h-1zM144,341h2v1h-2zM766,341h2v1h-2zM685,341h1v2h-1zM146,342h2v1h-2zM768,342h3v1h-3zM877,342h1v2h-1zM148,343h2v1h-2zM684,343h1v1h-1zM771,343h4v1h-4zM150,344h2v1h-2zM775,344h4v1h-4zM876,344h1v1h-1zM683,344h1v2h-1zM152,345h1v1h-1zM779,345h3v1h-3zM875,345h1v1h-1zM153,346h2v1h-2zM782,346h2v1h-2zM682,346h1v2h-1zM874,346h1v2h-1zM155,347h1v1h-1zM784,347h2v1h-2zM156,348h1v1h-1zM786,348h2v1h-2zM873,348h1v1h-1zM681,348h1v2h-1zM157,349h2v1h-2zM788,349h2v1h-2zM872,349h1v1h-1zM159,350h1v1h-1zM680,350h1v1h-1zM790,350h2v1h-2zM871,350h1v2h-1zM160,351h2v1h-2zM792,351h2v1h-2zM679,351h1v2h-1zM162,352h2v1h-2zM794,352h2v1h-2zM870,352h1v2h-1zM164,353h1v1h-1zM796,353h2v1h-2zM678,353h1v2h-1zM165,354h2v1h-2zM798,354h2v1h-2zM869,354h1v2h-1zM167,355h1v1h-1zM800,355h2v1h-2zM677,355h1v2h-1zM168,356h2v1h-2zM802,356h2v1h-2zM868,356h1v2h-1zM170,357h2v1h-2zM676,357h1v1h-1zM804,357h2v1h-2zM172,358h2v1h-2zM806,358h2v1h-2zM867,358h1v1h-1zM675,358h1v2h-1zM174,359h2v1h-2zM179,359h3v1h-3zM808,359h3v1h-3zM866,359h1v1h-1zM176,360h3v1h-3zM182,360h2v1h-2zM674,360h1v1h-1zM811,360h3v1h-3zM865,360h1v1h-1zM184,361h1v1h-1zM814,361h2v1h-2zM864,361h1v1h-1zM673,361h1v2h-1zM185,362h2v1h-2zM816,362h2v1h-2zM863,362h1v1h-1zM187,363h1v1h-1zM672,363h1v1h-1zM818,363h2v1h-2zM861,363h2v1h-2zM188,364h1v1h-1zM820,364h2v1h-2zM859,364h2v1h-2zM671,364h1v2h-1zM189,365h1v1h-1zM822,365h2v1h-2zM847,365h12v1h-12zM190,366h1v1h-1zM824,366h7v1h-7zM843,366h4v1h-4zM670,366h1v2h-1zM191,367h1v1h-1zM831,367h12v1h-12zM192,368h1v1h-1zM669,368h1v2h-1zM193,369h1v1h-1zM194,370h1v1h-1zM668,370h1v1h-1zM195,371h1v1h-1zM667,371h1v2h-1zM196,372h1v1h-1zM197,373h1v1h-1zM666,373h1v1h-1zM198,374h1v2h-1zM665,374h1v2h-1zM199,376h1v1h-1zM664,376h1v1h-1zM200,377h1v1h-1zM663,377h1v2h-1zM201,378h1v1h-1zM202,379h1v1h-1zM662,379h1v1h-1zM203,380h1v1h-1zM661,380h1v2h-1zM204,381h1v1h-1zM205,382h1v1h-1zM660,382h1v1h-1zM206,383h1v1h-1zM659,383h1v2h-1zM207,384h1v1h-1zM208,385h1v1h-1zM658,385h1v2h-1zM209,386h2v1h-2zM211,387h1v1h-1zM657,387h1v2h-1zM212,388h1v1h-1zM213,389h1v1h-1zM656,389h1v1h-1zM214,390h1v1h-1zM655,390h1v2h-1zM215,391h1v1h-1zM216,392h1v1h-1zM654,392h1v1h-1zM217,393h2v1h-2zM653,393h1v2h-1zM219,394h1v1h-1zM220,395h1v1h-1zM652,395h1v1h-1zM221,396h2v1h-2zM651,396h1v2h-1zM223,397h1v1h-1zM224,398h1v1h-1zM650,398h1v2h-1zM225,399h2v1h-2zM227,400h1v1h-1zM649,400h1v2h-1zM228,401h1v1h-1zM229,402h2v1h-2zM648,402h1v2h-1zM231,403h1v1h-1zM232,404h1v1h-1zM647,404h1v2h-1zM233,405h2v1h-2zM235,406h1v1h-1zM646,406h1v2h-1zM236,407h1v1h-1zM237,408h1v2h-1zM645,408h1v2h-1zM238,410h1v1h-1zM644,410h1v1h-1zM239,411h1v2h-1zM643,411h1v2h-1zM240,413h1v1h-1zM642,413h1v2h-1zM241,414h1v1h-1zM242,415h1v2h-1zM641,415h1v2h-1zM243,417h1v1h-1zM640,417h1v2h-1zM244,418h1v1h-1zM245,419h1v1h-1zM639,419h1v2h-1zM246,420h1v2h-1zM638,421h1v2h-1zM247,422h1v1h-1zM248,423h1v1h-1zM637,423h1v2h-1zM249,424h1v1h-1zM250,425h1v2h-1zM636,425h1v2h-1zM251,427h1v1h-1zM635,427h1v2h-1zM252,428h1v1h-1zM253,429h1v2h-1zM634,429h1v2h-1zM254,431h1v1h-1zM633,431h1v2h-1zM255,432h1v2h-1zM632,433h1v1h-1zM256,434h1v1h-1zM631,434h1v2h-1zM257,435h1v1h-1zM258,436h1v2h-1zM630,436h1v2h-1zM259,438h1v1h-1zM629,438h1v2h-1zM260,439h1v1h-1zM261,440h1v1h-1zM628,440h1v1h-1zM262,441h1v2h-1zM627,441h1v2h-1zM263,443h1v1h-1zM626,443h1v2h-1zM264,444h1v1h-1zM265,445h1v1h-1zM625,445h1v2h-1zM266,446h1v1h-1zM267,447h1v1h-1zM624,447h1v1h-1zM268,448h1v1h-1zM623,448h1v2h-1zM269,449h2v1h-2zM271,450h1v1h-1zM622,450h1v1h-1zM272,451h1v1h-1zM621,451h1v2h-1zM273,452h1v1h-1zM274,453h1v1h-1zM620,453h1v1h-1zM275,454h1v1h-1zM619,454h1v2h-1zM276,455h1v1h-1zM277,456h2v1h-2zM618,456h1v2h-1zM279,457h1v1h-1zM280,458h1v1h-1zM617,458h1v2h-1zM281,459h2v1h-2zM283,460h1v1h-1zM616,460h1v1h-1zM284,461h1v1h-1zM615,461h1v2h-1zM285,462h2v1h-2zM287,463h1v1h-1zM614,463h1v2h-1zM288,464h1v1h-1zM289,465h2v1h-2zM613,465h1v2h-1zM291,466h1v1h-1zM292,467h2v1h-2zM612,467h1v1h-1zM294,468h2v1h-2zM611,468h1v2h-1zM296,469h2v1h-2zM298,470h2v1h-2zM610,470h1v2h-1zM300,471h2v1h-2zM319,471h4v1h-4zM302,472h2v1h-2zM311,472h8v1h-8zM323,472h4v1h-4zM609,472h1v2h-1zM304,473h7v1h-7zM327,473h2v1h-2zM329,474h2v1h-2zM608,474h1v1h-1zM331,475h1v1h-1zM607,475h1v2h-1zM332,476h2v1h-2zM334,477h2v1h-2zM606,477h1v2h-1zM336,478h1v1h-1zM337,479h1v1h-1zM605,479h1v2h-1zM338,480h1v1h-1zM339,481h1v1h-1zM604,481h1v2h-1zM340,482h1v1h-1zM341,483h1v1h-1zM603,483h1v2h-1zM342,484h1v1h-1zM343,485h1v1h-1zM602,485h1v2h-1zM344,486h1v1h-1zM345,487h1v1h-1zM601,487h1v2h-1zM346,488h1v1h-1zM347,489h1v1h-1zM600,489h1v2h-1zM348,490h1v1h-1zM349,491h2v1h-2zM599,491h1v2h-1zM351,492h1v1h-1zM352,493h1v1h-1zM598,493h1v2h-1zM353,494h1v1h-1zM354,495h1v1h-1zM597,495h1v2h-1zM355,496h1v1h-1zM356,497h2v1h-2zM596,497h1v1h-1zM358,498h2v1h-2zM595,498h1v2h-1zM360,499h3v1h-3zM363,500h4v1h-4zM594,500h1v2h-1zM367,501h3v1h-3zM370,502h2v1h-2zM379,502h4v1h-4zM593,502h1v2h-1zM372,503h7v1h-7zM383,503h4v1h-4zM387,504h4v1h-4zM592,504h1v1h-1zM391,505h3v1h-3zM591,505h1v2h-1zM394,506h2v1h-2zM396,507h2v1h-2zM590,507h1v1h-1zM398,508h2v1h-2zM589,508h1v2h-1zM400,509h2v1h-2zM402,510h2v1h-2zM588,510h1v1h-1zM404,511h2v1h-2zM587,511h1v2h-1zM406,512h2v1h-2zM408,513h1v1h-1zM586,513h1v1h-1zM409,514h2v1h-2zM585,514h1v2h-1zM411,515h1v1h-1zM412,516h2v1h-2zM584,516h1v1h-1zM414,517h2v1h-2zM583,517h1v2h-1zM416,518h1v1h-1zM417,519h2v1h-2zM582,519h1v2h-1zM419,520h1v1h-1zM420,521h2v1h-2zM581,521h1v2h-1zM422,522h2v1h-2zM424,523h1v1h-1zM575,523h6v1h-6zM425,524h2v1h-2zM559,524h16v1h-16zM427,525h1v1h-1zM491,525h12v1h-12zM551,525h8v1h-8zM428,526h2v1h-2zM475,526h16v1h-16zM503,526h4v1h-4zM547,526h4v1h-4zM430,527h2v1h-2zM468,527h7v1h-7zM507,527h4v1h-4zM543,527h4v1h-4zM432,528h3v1h-3zM466,528h2v1h-2zM511,528h12v1h-12zM539,528h4v1h-4zM435,529h3v1h-3zM463,529h3v1h-3zM523,529h16v1h-16zM438,530h2v1h-2zM459,530h4v1h-4zM440,531h3v1h-3zM451,531h8v1h-8zM443,532h8v1h-8z" fill="#0000c8"/>
<path d="M987,95h7v1h-7zM984,96h3v1h-3zM994,96h2v1h-2zM983,97h1v1h-1zM996,97h1v1h-1zM981,98h2v1h-2zM997,98h1v1h-1zM980,99h1v1h-1zM998,99h1v1h-1zM979,100h1v1h-1zM999,100h1v1h-1zM978,101h1v2h-1zM1000,101h1v2h-1zM977,103h1v1h-1zM1001,103h1v2h-1zM976,104h1v1h-1zM975,105h1v2h-1zM1002,105h1v2h-1zM974,107h1v1h-1zM1003,107h1v2h-1zM973,108h1v2h-1zM1004,109h1v2h-1zM972,110h1v2h-1zM1005,111h1v2h-1zM1096,112h5v1h-5zM971,112h1v2h-1zM1094,113h2v1h-2zM1101,113h1v1h-1zM1006,113h1v2h-1zM1092,114h2v1h-2zM1102,114h1v1h-1zM970,114h1v3h-1zM1091,115h1v1h-1zM1103,115h1v1h-1zM1007,115h1v2h-1zM1089,116h2v1h-2zM1104,116h1v1h-1zM1088,117h1v1h-1zM1105,117h1v1h-1zM969,117h1v2h-1zM1008,117h1v3h-1zM1087,118h1v1h-1zM1106,118h1v1h-1zM1085,119h2v1h-2zM1107,119h1v1h-1zM968,119h1v3h-1zM1080,120h5v1h-5zM1108,120h1v1h-1zM1009,120h1v2h-1zM1079,121h1v1h-1zM1109,121h1v1h-1zM1077,122h2v1h-2zM967,122h1v2h-1zM1010,122h1v2h-1zM1110,122h1v2h-1zM1076,123h1v1h-1zM1075,124h1v1h-1zM1111,124h1v1h-1zM966,124h1v2h-1zM1011,124h1v2h-1zM1073,125h2v1h-2zM1112,125h1v1h-1zM1012,126h1v1h-1zM1072,126h1v1h-1zM1113,126h1v1h-1zM965,126h1v2h-1zM1114,127h1v1h-1zM1013,127h1v2h-1zM1071,127h1v2h-1zM1115,128h1v1h-1zM964,128h1v3h-1zM1070,129h1v1h-1zM1116,129h1v1h-1zM1014,129h1v2h-1zM1117,130h2v1h-2zM1069,130h1v2h-1zM1119,131h1v1h-1zM963,131h1v2h-1zM1015,131h1v2h-1zM1068,132h1v1h-1zM1120,132h1v1h-1zM1016,133h1v1h-1zM1121,133h1v1h-1zM962,133h1v2h-1zM1067,133h1v2h-1zM1017,134h1v1h-1zM1122,134h1v2h-1zM961,135h1v2h-1zM1018,135h1v2h-1zM1066,135h1v2h-1zM1123,136h1v1h-1zM1019,137h1v1h-1zM1124,137h1v1h-1zM960,137h1v2h-1zM1065,137h1v2h-1zM1125,138h1v1h-1zM1020,138h1v2h-1zM959,139h1v2h-1zM1064,139h1v2h-1zM1126,139h1v2h-1zM1021,140h1v2h-1zM1127,141h1v1h-1zM958,141h1v2h-1zM1063,141h1v2h-1zM1128,142h1v1h-1zM1022,142h1v2h-1zM1129,143h1v1h-1zM957,143h1v2h-1zM1062,143h1v2h-1zM1130,144h1v1h-1zM1023,144h1v2h-1zM1131,145h1v1h-1zM1061,145h1v2h-1zM956,145h1v3h-1zM1024,146h1v1h-1zM1132,146h1v1h-1zM1060,147h1v1h-1zM1133,147h2v1h-2zM1025,147h1v2h-1zM1135,148h1v1h-1zM955,148h1v2h-1zM1059,148h1v2h-1zM1026,149h1v1h-1zM1136,149h1v1h-1zM1058,150h1v1h-1zM1137,150h2v1h-2zM954,150h1v2h-1zM1027,150h1v2h-1zM1139,151h1v1h-1zM1057,151h1v2h-1zM1028,152h1v1h-1zM1140,152h1v1h-1zM953,152h1v2h-1zM1029,153h1v1h-1zM1056,153h1v1h-1zM1141,153h1v1h-1zM1030,154h1v1h-1zM1054,154h2v1h-2zM1142,154h1v1h-1zM952,154h1v2h-1zM1031,155h1v1h-1zM1051,155h3v1h-3zM1143,155h1v1h-1zM951,156h1v1h-1zM1032,156h2v1h-2zM1048,156h3v1h-3zM1144,156h1v1h-1zM1034,157h2v1h-2zM1046,157h2v1h-2zM950,157h1v2h-1zM1145,157h1v2h-1zM1036,158h10v1h-10zM949,159h1v1h-1zM1146,159h1v2h-1zM948,160h1v1h-1zM947,161h1v1h-1zM1147,161h1v2h-1zM946,162h1v2h-1zM1148,163h1v1h-1zM945,164h1v1h-1zM1149,164h1v1h-1zM944,165h1v1h-1zM1150,165h1v2h-1zM943,166h1v1h-1zM1151,167h1v1h-1zM942,167h1v2h-1zM1152,168h1v1h-1zM941,169h1v1h-1zM1153,169h1v1h-1zM940,170h1v1h-1zM1154,170h1v1h-1zM939,171h1v1h-1zM1155,171h1v1h-1zM1156,172h2v1h-2zM938,172h1v2h-1zM1158,173h2v1h-2zM937,174h1v1h-1zM1160,174h7v1h-7zM936,175h1v1h-1zM1167,175h2v1h-2zM935,176h1v1h-1zM1169,176h2v1h-2zM933,177h2v1h-2zM1171,177h1v1h-1zM924,178h2v1h-2zM932,178h1v1h-1zM1172,178h1v1h-1zM926,179h2v1h-2zM930,179h2v1h-2zM1173,179h1v1h-1zM923,179h1v2h-1zM928,180h2v1h-2zM1174,180h1v2h-1zM922,181h1v2h-1zM1175,182h1v1h-1zM1176,183h2v1h-2zM921,183h1v2h-1zM1178,184h2v1h-2zM920,185h1v1h-1zM1180,185h1v1h-1zM1181,186h1v1h-1zM919,186h1v2h-1zM1182,187h1v1h-1zM1183,188h1v1h-1zM918,188h1v2h-1zM1184,189h1v1h-1zM1185,190h1v1h-1zM917,190h1v2h-1zM1186,191h1v2h-1zM916,192h1v2h-1zM1187,193h1v1h-1zM1188,194h1v1h-1zM915,194h1v2h-1zM1189,195h1v1h-1zM1190,196h1v2h-1zM914,196h1v3h-1zM1191,198h1v1h-1zM1192,199h1v1h-1zM913,199h1v2h-1zM1193,200h1v2h-1zM912,201h1v3h-1zM1194,202h1v2h-1zM1195,204h1v2h-1zM911,204h1v3h-1zM1196,206h1v1h-1zM1197,207h1v1h-1zM1291,207h8v1h-8zM910,207h1v2h-1zM1288,208h3v1h-3zM1299,208h4v1h-4zM1198,208h1v2h-1zM1286,209h2v1h-2zM1303,209h4v1h-4zM909,209h1v3h-1zM1199,210h1v1h-1zM1284,210h2v1h-2zM1307,210h6v1h-6zM1200,211h1v1h-1zM1283,211h1v1h-1zM1313,211h2v1h-2zM1315,212h1v1h-1zM1201,212h1v2h-1zM1282,212h1v2h-1zM908,212h1v3h-1zM1316,213h6v1h-6zM1202,214h1v1h-1zM1281,214h1v1h-1zM1322,214h2v1h-2zM1280,215h1v1h-1zM1324,215h1v1h-1zM1203,215h1v2h-1zM907,215h1v3h-1zM1279,216h1v1h-1zM1325,216h2v1h-2zM1204,217h1v1h-1zM1277,217h2v1h-2zM1327,217h1v1h-1zM1205,218h2v1h-2zM1268,218h9v1h-9zM1328,218h1v1h-1zM906,218h1v2h-1zM1207,219h1v1h-1zM1266,219h2v1h-2zM1329,219h2v1h-2zM1208,220h1v1h-1zM1260,220h6v1h-6zM1331,220h1v1h-1zM905,220h1v3h-1zM1209,221h2v1h-2zM1258,221h2v1h-2zM1332,221h1v1h-1zM1211,222h1v1h-1zM1256,222h2v1h-2zM1333,222h2v1h-2zM1212,223h2v1h-2zM1255,223h1v1h-1zM1335,223h1v1h-1zM904,223h1v3h-1zM1214,224h2v1h-2zM1253,224h2v1h-2zM1336,224h1v1h-1zM1216,225h1v1h-1zM1252,225h1v1h-1zM1337,225h1v2h-1zM1217,226h2v1h-2zM1251,226h1v1h-1zM903,226h1v3h-1zM1219,227h1v1h-1zM1338,227h1v1h-1zM1250,227h1v2h-1zM1220,228h1v1h-1zM1339,228h1v2h-1zM1221,229h1v1h-1zM1249,229h1v1h-1zM902,229h1v3h-1zM1222,230h1v1h-1zM1248,230h1v1h-1zM1340,230h1v1h-1zM1223,231h1v1h-1zM1247,231h1v1h-1zM1224,232h1v1h-1zM1245,232h2v1h-2zM901,232h1v3h-1zM1225,233h2v1h-2zM1244,233h1v1h-1zM1227,234h1v1h-1zM1243,234h1v1h-1zM1228,235h7v1h-7zM1241,235h2v1h-2zM900,235h1v3h-1zM1235,236h6v1h-6zM899,238h1v2h-1zM898,240h1v2h-1zM897,242h1v2h-1zM896,244h1v3h-1zM895,247h1v4h-1zM894,251h1v4h-1zM893,255h1v4h-1zM892,259h1v4h-1zM891,263h1v4h-1zM890,267h1v4h-1zM889,271h1v4h-1zM888,275h1v4h-1zM887,279h1v4h-1zM886,283h1v4h-1zM885,287h1v4h-1zM884,291h1v4h-1zM883,295h1v3h-1zM882,298h1v4h-1zM881,302h1v3h-1zM880,305h1v3h-1zM51,307h2v1h-2zM28,308h3v1h-3zM39,308h4v1h-4zM47,308h4v1h-4zM53,308h2v1h-2zM879,308h1v4h-1zM26,309h2v1h-2zM31,309h8v1h-8zM43,309h4v1h-4zM55,309h1v1h-1zM24,310h2v1h-2zM56,310h1v1h-1zM23,311h1v1h-1zM57,311h1v1h-1zM21,312h2v1h-2zM58,312h1v2h-1zM878,312h1v4h-1zM19,313h2v1h-2zM699,313h7v1h-7zM15,314h4v1h-4zM59,314h1v1h-1zM688,314h11v1h-11zM706,314h2v1h-2zM11,315h4v1h-4zM60,315h1v1h-1zM686,315h2v1h-2zM708,315h2v1h-2zM7,316h4v1h-4zM61,316h1v1h-1zM651,316h4v1h-4zM683,316h3v1h-3zM710,316h2v1h-2zM877,316h1v4h-1zM4,317h3v1h-3zM648,317h3v1h-3zM655,317h3v1h-3zM680,317h3v1h-3zM712,317h1v1h-1zM62,317h1v2h-1zM646,318h2v1h-2zM658,318h2v1h-2zM678,318h2v1h-2zM713,318h1v1h-1zM63,319h1v1h-1zM644,319h2v1h-2zM660,319h7v1h-7zM675,319h3v1h-3zM714,319h1v1h-1zM64,320h1v1h-1zM642,320h2v1h-2zM667,320h8v1h-8zM715,320h1v1h-1zM876,320h1v3h-1zM65,321h2v1h-2zM640,321h2v1h-2zM716,321h1v1h-1zM67,322h1v1h-1zM638,322h2v1h-2zM717,322h1v1h-1zM68,323h1v1h-1zM637,323h1v1h-1zM636,323h1v2h-1zM718,323h1v2h-1zM875,323h1v3h-1zM69,324h1v1h-1zM70,325h1v1h-1zM719,325h1v1h-1zM635,325h1v3h-1zM71,326h1v1h-1zM720,326h1v1h-1zM874,326h1v3h-1zM72,327h1v1h-1zM721,327h1v1h-1zM73,328h1v1h-1zM722,328h1v1h-1zM634,328h1v4h-1zM74,329h1v1h-1zM723,329h1v1h-1zM873,329h1v3h-1zM75,330h1v1h-1zM724,330h1v1h-1zM76,331h3v1h-3zM725,331h1v1h-1zM79,332h2v1h-2zM726,332h1v2h-1zM633,332h1v3h-1zM872,332h1v3h-1zM81,333h2v1h-2zM83,334h1v1h-1zM727,334h1v1h-1zM84,335h1v1h-1zM728,335h1v1h-1zM632,335h1v3h-1zM871,335h1v4h-1zM85,336h1v1h-1zM729,336h1v1h-1zM730,337h1v1h-1zM86,337h1v2h-1zM731,338h1v1h-1zM631,338h1v3h-1zM87,339h1v1h-1zM732,339h1v1h-1zM870,339h1v4h-1zM88,340h1v1h-1zM733,340h1v1h-1zM89,341h1v1h-1zM734,341h1v2h-1zM630,341h1v3h-1zM90,342h1v2h-1zM735,343h1v1h-1zM869,343h1v4h-1zM91,344h1v1h-1zM736,344h1v1h-1zM629,344h1v3h-1zM92,345h1v1h-1zM131,345h3v1h-3zM737,345h2v1h-2zM93,346h2v1h-2zM128,346h3v1h-3zM134,346h2v1h-2zM739,346h1v1h-1zM95,347h1v1h-1zM126,347h2v1h-2zM136,347h3v1h-3zM740,347h1v1h-1zM628,347h1v3h-1zM868,347h1v3h-1zM96,348h1v1h-1zM124,348h2v1h-2zM139,348h11v1h-11zM741,348h1v1h-1zM97,349h2v1h-2zM122,349h2v1h-2zM150,349h2v1h-2zM742,349h1v1h-1zM99,350h1v1h-1zM120,350h2v1h-2zM152,350h1v1h-1zM743,350h1v1h-1zM867,350h1v2h-1zM627,350h1v3h-1zM100,351h1v1h-1zM119,351h1v1h-1zM153,351h2v1h-2zM744,351h1v1h-1zM101,352h1v1h-1zM118,352h1v1h-1zM155,352h1v1h-1zM745,352h1v1h-1zM866,352h1v2h-1zM102,353h1v1h-1zM117,353h1v1h-1zM156,353h3v1h-3zM746,353h1v2h-1zM626,353h1v3h-1zM103,354h1v1h-1zM116,354h1v1h-1zM159,354h3v1h-3zM865,354h1v2h-1zM104,355h1v1h-1zM115,355h1v1h-1zM162,355h2v1h-2zM747,355h1v1h-1zM105,356h1v1h-1zM114,356h1v1h-1zM164,356h3v1h-3zM748,356h1v1h-1zM864,356h1v1h-1zM625,356h1v3h-1zM106,357h1v1h-1zM113,357h1v1h-1zM167,357h2v1h-2zM749,357h1v1h-1zM863,357h1v2h-1zM107,358h1v1h-1zM111,358h2v1h-2zM169,358h2v1h-2zM750,358h1v2h-1zM108,359h3v1h-3zM171,359h1v1h-1zM862,359h1v1h-1zM624,359h1v3h-1zM172,360h1v1h-1zM751,360h1v1h-1zM861,360h1v2h-1zM173,361h1v1h-1zM752,361h1v1h-1zM174,362h1v1h-1zM753,362h2v1h-2zM860,362h1v1h-1zM623,362h1v3h-1zM175,363h1v1h-1zM755,363h1v1h-1zM807,363h8v1h-8zM819,363h3v1h-3zM858,363h2v1h-2zM176,364h1v1h-1zM756,364h1v1h-1zM780,364h7v1h-7zM803,364h4v1h-4zM815,364h4v1h-4zM822,364h2v1h-2zM855,364h3v1h-3zM177,365h1v1h-1zM757,365h1v1h-1zM778,365h2v1h-2zM787,365h16v1h-16zM824,365h7v1h-7zM851,365h4v1h-4zM622,365h1v4h-1zM758,366h1v1h-1zM776,366h2v1h-2zM831,366h3v1h-3zM847,366h4v1h-4zM178,366h1v2h-1zM759,367h1v1h-1zM774,367h2v1h-2zM834,367h2v1h-2zM843,367h4v1h-4zM179,368h1v1h-1zM760,368h2v1h-2zM772,368h2v1h-2zM836,368h7v1h-7zM180,369h1v1h-1zM762,369h2v1h-2zM770,369h2v1h-2zM621,369h1v3h-1zM764,370h6v1h-6zM181,370h1v2h-1zM182,372h1v1h-1zM620,372h1v3h-1zM183,373h1v2h-1zM184,375h1v2h-1zM619,375h1v4h-1zM185,377h1v2h-1zM186,379h1v2h-1zM618,379h1v3h-1zM187,381h1v2h-1zM617,382h1v4h-1zM188,383h1v2h-1zM189,385h1v2h-1zM616,386h1v3h-1zM190,387h1v2h-1zM191,389h1v2h-1zM615,389h1v4h-1zM192,391h1v3h-1zM614,393h1v3h-1zM193,394h1v2h-1zM194,396h1v2h-1zM613,396h1v4h-1zM195,398h1v2h-1zM196,400h1v3h-1zM612,400h1v3h-1zM197,403h1v2h-1zM611,403h1v4h-1zM198,405h1v2h-1zM199,407h1v2h-1zM610,407h1v3h-1zM200,409h1v2h-1zM609,410h1v4h-1zM201,411h1v2h-1zM202,413h1v2h-1zM608,414h1v3h-1zM203,415h1v2h-1zM204,417h1v2h-1zM607,417h1v4h-1zM205,419h1v2h-1zM206,421h1v2h-1zM606,421h1v3h-1zM207,423h1v2h-1zM605,424h1v4h-1zM208,425h1v1h-1zM209,426h1v1h-1zM210,427h1v2h-1zM604,428h1v3h-1zM211,429h1v1h-1zM212,430h1v1h-1zM213,431h1v2h-1zM603,431h1v4h-1zM214,433h1v1h-1zM215,434h1v2h-1zM602,435h1v4h-1zM216,436h1v1h-1zM217,437h1v1h-1zM218,438h1v2h-1zM601,439h1v4h-1zM219,440h1v1h-1zM220,441h1v1h-1zM221,442h1v1h-1zM222,443h1v2h-1zM600,443h1v3h-1zM223,445h1v1h-1zM224,446h1v1h-1zM599,446h1v3h-1zM225,447h1v1h-1zM226,448h1v1h-1zM227,449h1v1h-1zM598,449h1v4h-1zM228,450h1v1h-1zM229,451h2v1h-2zM231,452h1v1h-1zM232,453h1v1h-1zM597,453h1v3h-1zM233,454h1v1h-1zM234,455h1v1h-1zM235,456h1v1h-1zM596,456h1v3h-1zM236,457h1v1h-1zM237,458h1v1h-1zM238,459h1v2h-1zM595,459h1v4h-1zM239,461h1v1h-1zM240,462h2v1h-2zM242,463h2v1h-2zM594,463h1v3h-1zM244,464h3v1h-3zM247,465h4v1h-4zM251,466h3v1h-3zM593,466h1v4h-1zM254,467h2v1h-2zM256,468h1v1h-1zM320,468h5v1h-5zM257,469h1v1h-1zM318,469h2v1h-2zM325,469h1v1h-1zM316,470h2v1h-2zM326,470h1v1h-1zM258,470h1v2h-1zM592,470h1v3h-1zM315,471h1v1h-1zM327,471h1v1h-1zM259,472h1v1h-1zM314,472h1v1h-1zM328,472h1v1h-1zM260,473h3v1h-3zM313,473h1v1h-1zM329,473h2v1h-2zM591,473h1v3h-1zM263,474h3v1h-3zM312,474h1v1h-1zM331,474h1v1h-1zM266,475h2v1h-2zM311,475h1v1h-1zM332,475h1v1h-1zM268,476h3v1h-3zM310,476h1v1h-1zM333,476h1v1h-1zM590,476h1v3h-1zM271,477h2v1h-2zM309,477h1v1h-1zM334,477h1v1h-1zM273,478h2v1h-2zM308,478h1v1h-1zM335,478h1v1h-1zM275,479h1v1h-1zM307,479h1v1h-1zM336,479h1v1h-1zM589,479h1v3h-1zM276,480h2v1h-2zM305,480h2v1h-2zM337,480h1v2h-1zM278,481h2v1h-2zM303,481h2v1h-2zM280,482h1v1h-1zM300,482h3v1h-3zM338,482h1v1h-1zM588,482h1v3h-1zM281,483h2v1h-2zM298,483h2v1h-2zM339,483h1v2h-1zM283,484h1v1h-1zM296,484h2v1h-2zM284,485h3v1h-3zM295,485h1v1h-1zM340,485h1v1h-1zM587,485h1v4h-1zM287,486h4v1h-4zM293,486h2v1h-2zM341,486h1v2h-1zM291,487h2v1h-2zM342,488h1v2h-1zM586,489h1v3h-1zM343,490h1v2h-1zM344,492h1v1h-1zM585,492h1v4h-1zM345,493h1v2h-1zM346,495h1v2h-1zM584,496h1v3h-1zM347,497h1v2h-1zM348,499h1v2h-1zM583,499h1v4h-1zM349,501h1v2h-1zM350,503h1v2h-1zM582,503h1v4h-1zM351,505h1v2h-1zM352,507h1v1h-1zM581,507h1v4h-1zM353,508h1v2h-1zM354,510h1v1h-1zM355,511h1v2h-1zM580,511h1v2h-1zM356,513h1v1h-1zM578,513h2v1h-2zM357,514h1v1h-1zM576,514h2v1h-2zM358,515h1v1h-1zM575,515h1v1h-1zM359,516h1v1h-1zM574,516h1v1h-1zM360,517h1v1h-1zM573,517h1v1h-1zM361,518h1v1h-1zM571,518h2v1h-2zM568,519h3v1h-3zM362,519h1v2h-1zM567,520h1v1h-1zM363,521h1v1h-1zM565,521h2v1h-2zM364,522h1v1h-1zM564,522h1v1h-1zM365,523h1v1h-1zM479,523h12v1h-12zM499,523h3v1h-3zM562,523h2v1h-2zM467,524h12v1h-12zM491,524h8v1h-8zM502,524h2v1h-2zM560,524h2v1h-2zM366,524h1v2h-1zM455,525h12v1h-12zM504,525h1v1h-1zM558,525h2v1h-2zM367,526h1v1h-1zM452,526h3v1h-3zM505,526h2v1h-2zM555,526h3v1h-3zM368,527h1v1h-1zM415,527h8v1h-8zM431,527h8v1h-8zM450,527h2v1h-2zM507,527h1v1h-1zM551,527h4v1h-4zM369,528h1v1h-1zM411,528h4v1h-4zM423,528h8v1h-8zM439,528h4v1h-4zM447,528h3v1h-3zM508,528h3v1h-3zM548,528h3v1h-3zM408,529h3v1h-3zM443,529h4v1h-4zM511,529h4v1h-4zM546,529h2v1h-2zM370,529h1v2h-1zM406,530h2v1h-2zM515,530h3v1h-3zM544,530h2v1h-2zM371,531h1v1h-1zM404,531h2v1h-2zM518,531h2v1h-2zM542,531h2v1h-2zM372,532h1v1h-1zM402,532h2v1h-2zM520,532h2v1h-2zM540,532h2v1h-2zM373,533h1v1h-1zM400,533h2v1h-2zM522,533h2v1h-2zM538,533h2v1h-2zM374,534h1v1h-1zM398,534h2v1h-2zM524,534h7v1h-7zM535,534h3v1h-3zM375,535h1v1h-1zM395,535h3v1h-3zM531,535h4v1h-4zM376,536h1v1h-1zM391,536h4v1h-4zM377,537h2v1h-2zM387,537h4v1h-4zM379,538h1v1h-1zM383,538h4v1h-4zM380,539h3v1h-3z" fill="#ff0000"/>
<path d="M972,77h3v1h-3zM971,78h1v1h-1zM975,78h2v1h-2zM969,79h2v1h-2zM977,79h1v1h-1zM968,80h1v1h-1zM978,80h1v1h-1zM967,81h1v1h-1zM979,81h1v1h-1zM966,82h1v2h-1zM980,82h1v2h-1zM960,83h2v1h-2zM959,84h1v1h-1zM962,84h2v1h-2zM965,84h1v1h-1zM981,84h1v2h-1zM964,85h1v1h-1zM958,85h1v2h-1zM982,86h1v3h-1zM957,87h1v1h-1zM956,88h1v1h-1zM955,89h1v1h-1zM983,89h1v2h-1zM954,90h1v1h-1zM953,91h1v1h-1zM984,91h1v4h-1zM952,92h1v2h-1zM951,94h1v4h-1zM985,95h1v4h-1zM950,98h1v4h-1zM986,99h1v4h-1zM1072,101h3v1h-3zM1071,102h1v1h-1zM1075,102h2v1h-2zM949,102h1v4h-1zM1070,103h1v1h-1zM1077,103h1v2h-1zM987,103h1v4h-1zM1069,104h1v1h-1zM1068,105h1v1h-1zM1078,105h1v2h-1zM1067,106h1v1h-1zM948,106h1v4h-1zM1065,107h2v1h-2zM1079,107h1v2h-1zM988,107h1v3h-1zM1064,108h1v1h-1zM1080,109h1v1h-1zM1063,109h1v2h-1zM1081,110h1v2h-1zM989,110h1v3h-1zM947,110h1v5h-1zM1062,111h1v2h-1zM1082,112h1v2h-1zM1061,113h1v2h-1zM990,113h1v4h-1zM1083,114h1v2h-1zM1060,115h1v1h-1zM946,115h1v5h-1zM1084,116h1v1h-1zM1096,116h2v1h-2zM1059,116h1v2h-1zM1085,117h2v1h-2zM1094,117h2v1h-2zM1098,117h2v1h-2zM991,117h1v3h-1zM1058,118h1v1h-1zM1087,118h1v1h-1zM1091,118h3v1h-3zM1100,118h1v1h-1zM1088,119h3v1h-3zM1057,119h1v2h-1zM1101,119h1v2h-1zM992,120h1v2h-1zM945,120h1v5h-1zM1056,121h1v1h-1zM1102,121h1v1h-1zM1055,122h1v1h-1zM993,122h1v2h-1zM1103,122h1v2h-1zM1054,123h1v1h-1zM1053,124h1v1h-1zM994,124h1v2h-1zM1104,124h1v2h-1zM1052,125h1v2h-1zM944,125h1v5h-1zM995,126h1v2h-1zM1105,126h1v3h-1zM1051,127h1v2h-1zM996,128h1v1h-1zM997,129h1v2h-1zM1050,129h1v2h-1zM1106,129h1v2h-1zM943,130h1v5h-1zM998,131h1v1h-1zM1049,131h1v2h-1zM1107,131h1v3h-1zM999,132h1v2h-1zM1048,133h1v2h-1zM1000,134h1v2h-1zM1108,134h1v4h-1zM1047,135h1v2h-1zM942,135h1v5h-1zM1001,136h1v2h-1zM1046,137h1v2h-1zM1002,138h1v2h-1zM1109,138h1v4h-1zM1045,139h1v2h-1zM1003,140h1v2h-1zM941,140h1v5h-1zM1044,141h1v1h-1zM1043,142h1v1h-1zM1004,142h1v4h-1zM1110,142h1v4h-1zM1042,143h1v2h-1zM1041,145h1v1h-1zM940,145h1v4h-1zM1040,146h1v1h-1zM1005,146h1v4h-1zM1111,146h1v4h-1zM1039,147h1v2h-1zM1038,149h1v1h-1zM939,149h1v4h-1zM1037,150h1v2h-1zM1112,150h1v3h-1zM1006,150h1v4h-1zM1036,152h1v2h-1zM1113,153h1v3h-1zM938,153h1v4h-1zM1035,154h1v2h-1zM1007,154h1v4h-1zM896,156h1v2h-1zM1034,156h1v3h-1zM1114,156h1v3h-1zM937,157h1v4h-1zM895,158h1v2h-1zM1008,158h1v3h-1zM897,158h1v4h-1zM1033,159h1v2h-1zM1115,159h1v3h-1zM894,160h1v2h-1zM936,161h1v3h-1zM1032,161h1v3h-1zM1009,161h1v4h-1zM1131,162h2v1h-2zM893,162h1v2h-1zM1116,162h1v2h-1zM898,162h1v3h-1zM1117,163h2v1h-2zM1127,163h4v1h-4zM1133,163h2v1h-2zM1119,164h8v1h-8zM1135,164h1v1h-1zM892,164h1v2h-1zM1031,164h1v2h-1zM935,164h1v4h-1zM889,165h3v1h-3zM1136,165h1v1h-1zM888,165h1v3h-1zM899,165h1v4h-1zM1010,165h1v4h-1zM1137,166h1v1h-1zM1030,166h1v2h-1zM1138,167h1v2h-1zM1029,168h1v2h-1zM934,168h1v4h-1zM887,168h1v6h-1zM1139,169h1v1h-1zM900,169h1v2h-1zM1011,169h1v4h-1zM1140,170h1v1h-1zM1028,170h1v3h-1zM901,171h1v1h-1zM1141,171h1v1h-1zM902,172h1v1h-1zM1142,172h1v1h-1zM933,172h1v4h-1zM903,173h1v1h-1zM1143,173h1v1h-1zM1012,173h1v3h-1zM1027,173h1v3h-1zM1144,174h2v1h-2zM904,174h1v2h-1zM886,174h1v6h-1zM1146,175h2v1h-2zM1148,176h1v1h-1zM905,176h1v2h-1zM1013,176h1v2h-1zM932,176h1v4h-1zM1026,176h1v4h-1zM1149,177h2v1h-2zM1151,178h1v1h-1zM1014,178h1v2h-1zM906,178h1v3h-1zM1152,179h1v1h-1zM1153,180h2v1h-2zM931,180h1v2h-1zM1015,180h1v2h-1zM1025,180h1v3h-1zM885,180h1v6h-1zM1155,181h1v1h-1zM907,181h1v2h-1zM1156,182h1v1h-1zM930,182h1v2h-1zM1016,182h1v2h-1zM1157,183h2v1h-2zM1024,183h1v2h-1zM908,183h1v3h-1zM1017,184h1v1h-1zM1159,184h1v1h-1zM929,184h1v2h-1zM1023,185h1v1h-1zM1160,185h5v1h-5zM1018,185h1v2h-1zM1022,186h1v1h-1zM1165,186h2v1h-2zM909,186h1v2h-1zM928,186h1v2h-1zM884,186h1v6h-1zM1019,187h1v1h-1zM1021,187h1v1h-1zM1167,187h1v1h-1zM927,188h1v1h-1zM1020,188h1v1h-1zM1168,188h2v1h-2zM910,188h1v2h-1zM925,189h2v1h-2zM1170,189h2v1h-2zM924,190h1v1h-1zM1172,190h1v1h-1zM911,190h1v2h-1zM923,191h1v1h-1zM1173,191h2v1h-2zM922,192h1v1h-1zM1175,192h1v1h-1zM912,192h1v3h-1zM883,192h1v5h-1zM921,193h1v1h-1zM1176,193h1v1h-1zM1177,194h1v1h-1zM920,194h1v2h-1zM1178,195h1v1h-1zM913,195h1v3h-1zM1179,196h1v1h-1zM919,196h1v2h-1zM1180,197h1v1h-1zM1292,197h5v1h-5zM882,197h1v5h-1zM1291,198h1v1h-1zM1297,198h1v1h-1zM914,198h1v2h-1zM1181,198h1v2h-1zM918,198h1v3h-1zM1289,199h2v1h-2zM1298,199h1v1h-1zM1288,200h1v1h-1zM1299,200h1v1h-1zM1182,200h1v2h-1zM915,200h1v3h-1zM1287,201h1v1h-1zM917,201h1v2h-1zM1300,201h1v2h-1zM1285,202h2v1h-2zM1183,202h1v2h-1zM881,202h1v5h-1zM916,203h1v2h-1zM1284,203h1v2h-1zM1301,203h1v2h-1zM1184,204h1v2h-1zM1302,205h1v2h-1zM1283,205h1v3h-1zM1255,206h2v1h-2zM1185,206h1v2h-1zM1252,207h3v1h-3zM1257,207h1v1h-1zM1303,207h1v2h-1zM880,207h1v7h-1zM1251,208h1v1h-1zM1258,208h1v1h-1zM1282,208h1v2h-1zM1186,208h1v3h-1zM1249,209h2v1h-2zM1259,209h1v1h-1zM1304,209h1v1h-1zM1260,210h1v1h-1zM1305,210h1v1h-1zM1248,210h1v2h-1zM1281,210h1v3h-1zM1261,211h2v1h-2zM1306,211h1v1h-1zM1187,211h1v2h-1zM1263,212h1v1h-1zM1307,212h1v1h-1zM1247,212h1v2h-1zM1264,213h1v1h-1zM1308,213h2v1h-2zM1280,213h1v2h-1zM1188,213h1v3h-1zM1265,214h2v1h-2zM1310,214h2v1h-2zM1246,214h1v2h-1zM879,214h1v9h-1zM1267,215h1v1h-1zM1279,215h1v1h-1zM1312,215h1v2h-1zM1268,216h1v1h-1zM1189,216h1v2h-1zM1245,216h1v2h-1zM1278,216h1v2h-1zM1269,217h2v1h-2zM1313,217h1v2h-1zM1271,218h1v1h-1zM1277,218h1v1h-1zM1244,218h1v2h-1zM1190,218h1v3h-1zM1272,219h5v1h-5zM1314,219h1v3h-1zM1243,220h1v2h-1zM1191,221h1v2h-1zM1242,222h1v1h-1zM1315,222h1v2h-1zM1241,223h1v2h-1zM1192,223h1v3h-1zM878,223h1v9h-1zM1316,224h1v2h-1zM1240,225h1v1h-1zM1317,225h1v1h-1zM1239,226h1v1h-1zM1318,226h2v1h-2zM1193,226h1v3h-1zM1237,227h2v1h-2zM1320,227h1v1h-1zM1232,228h5v1h-5zM1321,228h1v2h-1zM1224,229h2v1h-2zM1231,229h1v1h-1zM1194,229h1v3h-1zM1223,230h1v1h-1zM1226,230h2v1h-2zM1229,230h2v1h-2zM1322,230h1v2h-1zM1221,231h2v1h-2zM1228,231h1v1h-1zM1220,232h1v1h-1zM1323,232h1v2h-1zM1195,232h1v3h-1zM877,232h1v9h-1zM1219,233h1v2h-1zM1324,234h1v2h-1zM1218,235h1v2h-1zM1196,235h1v3h-1zM1325,236h1v2h-1zM1217,237h1v2h-1zM1197,238h1v2h-1zM1326,238h1v2h-1zM1216,239h1v2h-1zM1198,240h1v2h-1zM1327,240h1v2h-1zM1215,241h1v2h-1zM876,241h1v9h-1zM1199,242h1v2h-1zM1328,242h1v2h-1zM1214,243h1v3h-1zM1329,244h1v2h-1zM1200,244h1v3h-1zM1336,246h1v1h-1zM1213,246h1v2h-1zM1330,246h1v2h-1zM1335,247h1v1h-1zM1337,247h2v1h-2zM1201,247h1v2h-1zM1334,248h1v1h-1zM1339,248h1v1h-1zM1212,248h1v2h-1zM1331,248h1v2h-1zM1333,249h1v1h-1zM1340,249h1v1h-1zM1202,249h1v2h-1zM1211,250h1v1h-1zM1332,250h1v1h-1zM875,250h1v8h-1zM1209,251h2v1h-2zM1203,251h1v2h-1zM1207,252h2v1h-2zM1204,253h3v1h-3zM874,258h1v8h-1zM873,266h1v8h-1zM872,274h1v10h-1zM871,284h1v10h-1zM870,294h1v10h-1zM52,295h1v2h-1zM51,296h1v1h-1zM49,297h2v1h-2zM53,297h1v4h-1zM48,298h1v1h-1zM40,299h3v1h-3zM46,299h2v1h-2zM39,300h1v1h-1zM43,300h3v1h-3zM38,301h1v2h-1zM54,301h1v3h-1zM37,303h1v1h-1zM36,304h1v1h-1zM55,304h1v4h-1zM869,304h1v10h-1zM35,305h1v1h-1zM616,306h1v1h-1zM34,306h1v2h-1zM615,307h1v1h-1zM617,307h2v1h-2zM28,308h3v1h-3zM33,308h1v1h-1zM614,308h1v1h-1zM619,308h1v1h-1zM56,308h1v4h-1zM27,309h1v1h-1zM31,309h2v1h-2zM613,309h1v1h-1zM620,309h1v1h-1zM687,309h3v1h-3zM25,310h2v1h-2zM612,310h1v1h-1zM680,310h7v1h-7zM690,310h2v1h-2zM621,310h1v2h-1zM24,311h1v1h-1zM679,311h1v1h-1zM692,311h2v1h-2zM611,311h1v2h-1zM622,312h1v1h-1zM677,312h2v1h-2zM694,312h2v1h-2zM23,312h1v2h-1zM57,312h1v6h-1zM4,313h1v1h-1zM610,313h1v1h-1zM676,313h1v1h-1zM696,313h3v1h-3zM703,313h2v1h-2zM623,313h1v2h-1zM5,314h2v1h-2zM22,314h1v1h-1zM675,314h1v1h-1zM699,314h4v1h-4zM705,314h1v1h-1zM609,314h1v2h-1zM868,314h1v8h-1zM7,315h1v1h-1zM624,315h1v1h-1zM655,315h4v1h-4zM673,315h2v1h-2zM21,315h1v2h-1zM706,315h1v2h-1zM8,316h6v1h-6zM608,316h1v1h-1zM625,316h1v1h-1zM652,316h3v1h-3zM659,316h7v1h-7zM672,316h1v1h-1zM14,317h2v1h-2zM19,317h2v1h-2zM651,317h1v1h-1zM666,317h2v1h-2zM670,317h2v1h-2zM707,317h1v1h-1zM607,317h1v2h-1zM626,317h1v2h-1zM16,318h3v1h-3zM668,318h2v1h-2zM708,318h1v1h-1zM650,318h1v2h-1zM58,318h1v5h-1zM627,319h1v1h-1zM709,319h1v1h-1zM606,319h1v2h-1zM628,320h1v1h-1zM649,320h1v1h-1zM710,320h1v2h-1zM629,321h1v1h-1zM648,321h1v1h-1zM605,321h1v2h-1zM647,322h1v1h-1zM711,322h1v1h-1zM630,322h1v2h-1zM867,322h1v4h-1zM604,323h1v1h-1zM646,323h1v1h-1zM712,323h1v2h-1zM59,323h1v6h-1zM631,324h1v1h-1zM645,324h1v1h-1zM603,324h1v2h-1zM632,325h1v1h-1zM644,325h1v1h-1zM713,325h1v4h-1zM633,326h2v1h-2zM642,326h2v1h-2zM602,326h1v2h-1zM866,326h1v4h-1zM635,327h1v1h-1zM639,327h3v1h-3zM636,328h3v1h-3zM601,328h1v2h-1zM60,329h1v4h-1zM714,329h1v4h-1zM865,330h1v4h-1zM600,330h1v6h-1zM61,333h1v4h-1zM715,333h1v4h-1zM864,334h1v5h-1zM599,336h1v10h-1zM716,337h1v3h-1zM62,337h1v4h-1zM132,338h1v1h-1zM130,339h2v1h-2zM133,339h2v1h-2zM863,339h1v4h-1zM127,340h3v1h-3zM135,340h1v1h-1zM717,340h1v3h-1zM124,341h3v1h-3zM136,341h1v1h-1zM63,341h1v4h-1zM123,342h1v1h-1zM137,342h1v2h-1zM122,343h1v1h-1zM718,343h1v4h-1zM862,343h1v5h-1zM121,344h1v1h-1zM138,344h1v1h-1zM120,345h1v1h-1zM139,345h1v2h-1zM64,345h1v3h-1zM112,346h3v1h-3zM118,346h2v1h-2zM598,346h1v10h-1zM110,347h2v1h-2zM115,347h3v1h-3zM140,347h1v1h-1zM719,347h1v3h-1zM108,348h2v1h-2zM141,348h1v2h-1zM65,348h1v4h-1zM861,348h1v4h-1zM96,349h1v1h-1zM107,349h1v1h-1zM95,350h1v1h-1zM97,350h2v1h-2zM142,350h1v1h-1zM106,350h1v2h-1zM720,350h1v3h-1zM94,351h1v1h-1zM99,351h1v1h-1zM143,351h1v2h-1zM93,352h1v1h-1zM100,352h3v1h-3zM105,352h1v1h-1zM84,352h1v2h-1zM66,352h1v3h-1zM860,352h1v3h-1zM85,353h2v1h-2zM92,353h1v1h-1zM103,353h2v1h-2zM144,353h1v1h-1zM721,353h1v4h-1zM87,354h1v1h-1zM90,354h2v1h-2zM83,354h1v2h-1zM145,354h1v2h-1zM88,355h2v1h-2zM780,355h3v1h-3zM859,355h1v1h-1zM67,355h1v4h-1zM146,356h1v1h-1zM778,356h2v1h-2zM783,356h2v1h-2zM82,356h1v2h-1zM858,356h1v2h-1zM597,356h1v10h-1zM775,357h3v1h-3zM785,357h1v1h-1zM147,357h1v2h-1zM722,357h1v3h-1zM772,358h3v1h-3zM857,358h1v1h-1zM81,358h1v2h-1zM786,358h1v2h-1zM148,359h1v1h-1zM856,359h1v1h-1zM771,359h1v2h-1zM68,359h1v3h-1zM787,360h1v1h-1zM855,360h1v1h-1zM149,360h1v2h-1zM80,360h1v3h-1zM723,360h1v4h-1zM770,361h1v1h-1zM788,361h1v1h-1zM854,361h1v1h-1zM150,362h1v1h-1zM789,362h2v1h-2zM853,362h1v1h-1zM769,362h1v2h-1zM69,362h1v4h-1zM791,363h1v1h-1zM852,363h1v1h-1zM151,363h1v2h-1zM79,363h1v4h-1zM768,364h1v1h-1zM792,364h2v1h-2zM828,364h3v1h-3zM851,364h1v1h-1zM724,364h1v2h-1zM152,365h1v1h-1zM794,365h2v1h-2zM826,365h2v1h-2zM831,365h2v1h-2zM849,365h2v1h-2zM767,365h1v2h-1zM153,366h2v1h-2zM796,366h1v1h-1zM819,366h7v1h-7zM833,366h2v1h-2zM848,366h1v1h-1zM725,366h1v2h-1zM70,366h1v4h-1zM596,366h1v10h-1zM155,367h1v1h-1zM766,367h1v1h-1zM797,367h1v1h-1zM815,367h4v1h-4zM835,367h1v1h-1zM846,367h2v1h-2zM78,367h1v3h-1zM156,368h2v1h-2zM726,368h1v1h-1zM798,368h1v1h-1zM804,368h11v1h-11zM836,368h10v1h-10zM765,368h1v2h-1zM158,369h2v1h-2zM743,369h4v1h-4zM799,369h1v1h-1zM802,369h2v1h-2zM727,369h1v2h-1zM160,370h6v1h-6zM740,370h3v1h-3zM747,370h2v1h-2zM763,370h2v1h-2zM800,370h2v1h-2zM71,370h1v4h-1zM77,370h1v4h-1zM166,371h2v1h-2zM728,371h1v1h-1zM738,371h2v1h-2zM749,371h2v1h-2zM759,371h4v1h-4zM168,372h3v1h-3zM729,372h1v1h-1zM736,372h2v1h-2zM751,372h1v1h-1zM755,372h4v1h-4zM171,373h2v1h-2zM735,373h1v1h-1zM752,373h3v1h-3zM730,373h1v2h-1zM173,374h1v1h-1zM734,374h1v1h-1zM72,374h1v2h-1zM76,374h1v2h-1zM73,375h3v1h-3zM174,375h1v1h-1zM731,375h1v1h-1zM733,375h1v1h-1zM175,376h1v1h-1zM732,376h1v1h-1zM595,376h1v9h-1zM176,377h1v1h-1zM177,378h1v1h-1zM178,379h1v1h-1zM179,380h1v1h-1zM180,381h1v2h-1zM181,383h1v3h-1zM594,385h1v8h-1zM182,386h1v4h-1zM183,390h1v3h-1zM184,393h1v4h-1zM593,393h1v9h-1zM185,397h1v4h-1zM186,401h1v4h-1zM592,402h1v9h-1zM187,405h1v4h-1zM188,409h1v4h-1zM591,411h1v8h-1zM189,413h1v5h-1zM190,418h1v6h-1zM590,419h1v9h-1zM191,424h1v5h-1zM589,428h1v8h-1zM192,429h1v5h-1zM193,434h1v4h-1zM588,436h1v8h-1zM194,438h1v5h-1zM236,441h1v2h-1zM234,442h2v1h-2zM232,443h2v1h-2zM237,443h1v2h-1zM195,443h1v4h-1zM230,444h2v1h-2zM587,444h1v8h-1zM229,445h1v1h-1zM228,445h1v2h-1zM238,445h1v3h-1zM227,447h1v2h-1zM196,447h1v5h-1zM239,448h1v2h-1zM226,449h1v2h-1zM240,450h1v3h-1zM225,451h1v2h-1zM197,452h1v4h-1zM586,452h1v8h-1zM224,453h1v2h-1zM241,453h1v2h-1zM223,455h1v2h-1zM242,455h1v3h-1zM198,456h1v5h-1zM222,457h1v2h-1zM243,458h1v2h-1zM221,459h1v2h-1zM244,460h1v3h-1zM585,460h1v8h-1zM220,461h1v1h-1zM296,461h17v1h-17zM199,461h1v4h-1zM219,462h1v2h-1zM295,462h1v2h-1zM313,462h1v2h-1zM245,463h1v3h-1zM218,464h1v2h-1zM294,464h1v2h-1zM314,464h1v2h-1zM200,465h1v4h-1zM217,466h1v2h-1zM246,466h1v2h-1zM293,466h1v2h-1zM315,466h1v2h-1zM316,468h6v1h-6zM216,468h1v2h-1zM292,468h1v2h-1zM247,468h1v3h-1zM584,468h1v8h-1zM291,469h1v1h-1zM322,469h2v1h-2zM201,469h1v2h-1zM288,470h3v1h-3zM215,470h1v2h-1zM324,470h1v2h-1zM287,471h1v2h-1zM202,471h1v3h-1zM248,471h1v3h-1zM214,472h1v1h-1zM325,472h1v4h-1zM286,473h1v1h-1zM213,473h1v2h-1zM203,474h1v2h-1zM285,474h1v2h-1zM249,474h1v3h-1zM212,475h1v1h-1zM284,476h1v1h-1zM204,476h1v2h-1zM211,476h1v2h-1zM326,476h1v3h-1zM583,476h1v9h-1zM283,477h1v1h-1zM250,477h1v2h-1zM205,478h1v1h-1zM210,478h1v2h-1zM282,478h1v2h-1zM206,479h1v2h-1zM251,479h1v3h-1zM327,479h1v4h-1zM281,480h1v1h-1zM209,480h1v2h-1zM207,481h1v1h-1zM280,481h1v2h-1zM208,482h1v1h-1zM252,482h1v3h-1zM279,483h1v3h-1zM328,483h1v3h-1zM253,485h1v4h-1zM582,485h1v10h-1zM329,486h1v3h-1zM278,486h1v4h-1zM254,489h1v3h-1zM330,489h1v3h-1zM277,490h1v3h-1zM331,492h1v3h-1zM255,492h1v4h-1zM276,493h1v2h-1zM275,495h1v2h-1zM332,495h1v3h-1zM581,495h1v9h-1zM256,496h1v3h-1zM274,497h1v2h-1zM333,498h1v3h-1zM257,499h1v2h-1zM273,499h1v2h-1zM272,501h1v2h-1zM334,501h1v2h-1zM258,501h1v3h-1zM271,503h1v1h-1zM335,503h1v3h-1zM560,504h1v1h-1zM259,504h1v2h-1zM270,504h1v2h-1zM580,504h1v5h-1zM558,505h2v1h-2zM561,505h1v1h-1zM269,506h1v1h-1zM556,506h2v1h-2zM260,506h1v2h-1zM562,506h1v2h-1zM336,506h1v3h-1zM261,507h8v1h-8zM554,507h2v1h-2zM568,507h11v1h-11zM552,508h2v1h-2zM563,508h1v1h-1zM566,508h2v1h-2zM579,508h1v1h-1zM551,509h1v1h-1zM564,509h2v1h-2zM337,509h1v4h-1zM550,510h1v2h-1zM549,512h1v1h-1zM548,513h1v1h-1zM338,513h1v4h-1zM547,514h1v2h-1zM452,516h3v1h-3zM459,516h7v1h-7zM546,516h1v1h-1zM451,517h1v1h-1zM455,517h4v1h-4zM466,517h2v1h-2zM545,517h1v2h-1zM339,517h1v4h-1zM392,518h3v1h-3zM449,518h2v1h-2zM468,518h1v1h-1zM391,519h1v1h-1zM395,519h2v1h-2zM448,519h1v1h-1zM469,519h1v2h-1zM544,519h1v2h-1zM397,520h2v1h-2zM390,520h1v2h-1zM447,520h1v2h-1zM399,521h1v1h-1zM470,521h1v1h-1zM543,521h1v2h-1zM340,521h1v4h-1zM389,522h1v1h-1zM400,522h2v1h-2zM446,522h1v2h-1zM471,522h1v2h-1zM388,523h1v1h-1zM402,523h2v1h-2zM542,523h1v3h-1zM387,524h1v1h-1zM404,524h1v1h-1zM472,524h3v1h-3zM445,524h1v2h-1zM386,525h1v1h-1zM405,525h2v1h-2zM475,525h3v1h-3zM341,525h1v4h-1zM385,526h1v1h-1zM407,526h1v1h-1zM444,526h1v1h-1zM478,526h2v1h-2zM500,526h5v1h-5zM541,526h1v2h-1zM384,527h1v1h-1zM408,527h1v1h-1zM443,527h1v1h-1zM480,527h2v1h-2zM499,527h1v1h-1zM505,527h2v1h-2zM383,528h1v1h-1zM409,528h1v1h-1zM482,528h2v1h-2zM497,528h2v1h-2zM507,528h1v1h-1zM442,528h1v2h-1zM540,528h1v3h-1zM381,529h2v1h-2zM419,529h2v1h-2zM484,529h2v1h-2zM496,529h1v1h-1zM508,529h2v1h-2zM410,529h1v2h-1zM342,529h1v4h-1zM380,530h1v1h-1zM416,530h3v1h-3zM421,530h1v1h-1zM441,530h1v1h-1zM486,530h2v1h-2zM494,530h2v1h-2zM510,530h2v1h-2zM379,531h1v1h-1zM411,531h1v1h-1zM414,531h2v1h-2zM422,531h1v1h-1zM435,531h6v1h-6zM488,531h6v1h-6zM512,531h2v1h-2zM539,531h1v2h-1zM377,532h2v1h-2zM412,532h2v1h-2zM423,532h1v1h-1zM432,532h3v1h-3zM514,532h2v1h-2zM376,533h1v1h-1zM424,533h2v1h-2zM431,533h1v1h-1zM516,533h1v2h-1zM538,533h1v2h-1zM343,533h1v4h-1zM375,534h1v1h-1zM426,534h2v1h-2zM429,534h2v1h-2zM374,535h1v1h-1zM428,535h1v1h-1zM517,535h1v2h-1zM537,535h1v2h-1zM373,536h1v1h-1zM372,537h1v1h-1zM518,537h1v2h-1zM536,537h1v2h-1zM344,537h1v3h-1zM371,538h1v1h-1zM535,539h1v1h-1zM370,539h1v2h-1zM519,539h1v2h-1zM345,540h1v1h-1zM533,540h2v1h-2zM346,541h1v1h-1zM369,541h1v1h-1zM532,541h1v1h-1zM520,541h1v2h-1zM347,542h1v1h-1zM368,542h1v1h-1zM521,542h6v1h-6zM530,542h2v1h-2zM348,543h1v1h-1zM367,543h1v1h-1zM527,543h3v1h-3zM365,544h2v1h-2zM349,544h1v2h-1zM364,545h1v1h-1zM350,546h1v2h-1zM363,546h1v2h-1zM351,548h1v2h-1zM362,548h1v2h-1zM352,550h1v1h-1zM361,550h1v2h-1zM353,551h1v1h-1zM354,552h1v1h-1zM360,552h1v2h-1zM355,553h1v1h-1zM359,553h1v1h-1zM356,554h3v1h-3z" fill="#ffa500"/>
<rect x="4" y="42" width="1680" height="2" fill="#ff0000"/>
<rect x="3" y="40" width="6" height="6" fill="#ff0000"/>
<rect x="5" y="42" width="2" height="2" fill="#fff"/>
<rect x="1678" y="40" width="6" height="6" fill="#ff0000"/>
<rect x="1680" y="42" width="2" height="2" fill="#fff"/>
<rect x="4" y="143" width="1680" height="2" fill="#ff0000"/>
<rect x="3" y="141" width="6" height="6" fill="#ff0000"/>
<rect x="5" y="143" width="2" height="2" fill="#fff"/>
<rect x="1678" y="141" width="6" height="6" fill="#ff0000"/>
<rect x="1680" y="143" width="2" height="2" fill="#fff"/>
<rect x="4" y="243" width="1680" height="2" fill="#00ff00"/>
<rect x="4" y="363" width="1680" height="2" fill="#0000ff"/>
<rect x="4" y="483" width="1680" height="2" fill="#0000ff"/>
<rect x="1684" y="22" width="1" height="568" fill="#000"/>
<rect x="1685" y="25" width="2" height="1" fill="#000"/>
<text x="1690" y="29" font-size="10" fill="#000" textLength="33" lengthAdjust="spacingAndGlyphs" font-weight="normal" xml:space="preserve" stroke="#000" stroke-width="0.08">7.21925</text>
<rect x="1685" y="58" width="2" height="1" fill="#000"/>
<text x="1690" y="62" font-size="10" fill="#000" textLength="33" lengthAdjust="spacingAndGlyphs" font-weight="normal" xml:space="preserve" stroke="#000" stroke-width="0.08">7.18600</text>
<rect x="1685" y="91" width="2" height="1" fill="#000"/>
<text x="1690" y="95" font-size="10" fill="#000" textLength="33" lengthAdjust="spacingAndGlyphs" font-weight="normal" xml:space="preserve" stroke="#000" stroke-width="0.08">7.15370</text>
<rect x="1685" y="124" width="2" height="1" fill="#000"/>
<text x="1690" y="128" font-size="10" fill="#000" textLength="33" lengthAdjust="spacingAndGlyphs" font-weight="normal" xml:space="preserve" stroke="#000" stroke-width="0.08">7.12045</text>
<rect x="1685" y="157" width="2" height="1" fill="#000"/>
<text x="1690" y="161" font-size="10" fill="#000" textLength="33" lengthAdjust="spacingAndGlyphs" font-weight="normal" xml:space="preserve" stroke="#000" stroke-width="0.08">7.08720</text>
<rect x="1685" y="190" width="2" height="1" fill="#000"/>
<text x="1690" y="194" font-size="10" fill="#000" textLength="33" lengthAdjust="spacingAndGlyphs" font-weight="normal" xml:space="preserve" stroke="#000" stroke-width="0.08">7.05395</text>
<rect x="1685" y="223" width="2" height="1" fill="#000"/>
<text x="1690" y="227" font-size="10" fill="#000" textLength="33" lengthAdjust="spacingAndGlyphs" font-weight="normal" xml:space="preserve" stroke="#000" stroke-width="0.08">7.02165</text>
<rect x="1685" y="256" width="2" height="1" fill="#000"/>
<text x="1690" y="260" font-size="10" fill="#000" textLength="33" lengthAdjust="spacingAndGlyphs" font-weight="normal" xml:space="preserve" stroke="#000" stroke-width="0.08">6.98840</text>
<rect x="1685" y="289" width="2" height="1" fill="#000"/>
<text x="1690" y="293" font-size="10" fill="#000" textLength="33" lengthAdjust="spacingAndGlyphs" font-weight="normal" xml:space="preserve" stroke="#000" stroke-width="0.08">6.95515</text>
<rect x="1685" y="322" width="2" height="1" fill="#000"/>
<text x="1690" y="326" font-size="10" fill="#000" textLength="33" lengthAdjust="spacingAndGlyphs" font-weight="normal" xml:space="preserve" stroke="#000" stroke-width="0.08">6.92285</text>
<rect x="1685" y="355" width="2" height="1" fill="#000"/>
<text x="1690" y="359" font-size="10" fill="#000" textLength="33" lengthAdjust="spacingAndGlyphs" font-weight="normal" xml:space="preserve" stroke="#000" stroke-width="0.08">6.88960</text>
<rect x="1685" y="388" width="2" height="1" fill="#000"/>
<text x="1690" y="392" font-size="10" fill="#000" textLength="33" lengthAdjust="spacingAndGlyphs" font-weight="normal" xml:space="preserve" stroke="#000" stroke-width="0.08">6.85635</text>
<rect x="1685" y="421" width="2" height="1" fill="#000"/>
<text x="1690" y="425" font-size="10" fill="#000" textLength="33" lengthAdjust="spacingAndGlyphs" font-weight="normal" xml:space="preserve" stroke="#000" stroke-width="0.08">6.82310</text>
<rect x="1685" y="454" width="2" height="1" fill="#000"/>
<text x="1690" y="458" font-size="10" fill="#000" textLength="33" lengthAdjust="spacingAndGlyphs" font-weight="normal" xml:space="preserve" stroke="#000" stroke-width="0.08">6.79080</text>
<rect x="1685" y="487" width="2" height="1" fill="#000"/>
<text x="1690" y="491" font-size="10" fill="#000" textLength="33" lengthAdjust="spacingAndGlyphs" font-weight="normal" xml:space="preserve" stroke="#000" stroke-width="0.08">6.75755</text>
<rect x="1685" y="520" width="2" height="1" fill="#000"/>
<text x="1690" y="524" font-size="10" fill="#000" textLength="33" lengthAdjust="spacingAndGlyphs" font-weight="normal" xml:space="preserve" stroke="#000" stroke-width="0.08">6.72430</text>
<rect x="1685" y="553" width="2" height="1" fill="#000"/>
<text x="1690" y="557" font-size="10" fill="#000" textLength="33" lengthAdjust="spacingAndGlyphs" font-weight="normal" xml:space="preserve" stroke="#000" stroke-width="0.08">6.69105</text>
<rect x="1685" y="586" width="2" height="1" fill="#000"/>
<text x="1690" y="590" font-size="10" fill="#000" textLength="33" lengthAdjust="spacingAndGlyphs" font-weight="normal" xml:space="preserve" stroke="#000" stroke-width="0.08">6.65875</text>
<rect x="1686" y="243" width="41" height="11" fill="#000"/>
<text x="1690" y="252" font-size="10" fill="#fff" textLength="33" lengthAdjust="spacingAndGlyphs" font-weight="normal" xml:space="preserve" stroke="#fff" stroke-width="0.08">6.99686</text>
<rect x="1686" y="37" width="41" height="11" fill="#ff0000"/>
<text x="1690" y="46" font-size="10" fill="#fff" textLength="33" lengthAdjust="spacingAndGlyphs" font-weight="normal" xml:space="preserve" stroke="#fff" stroke-width="0.08">7.20094</text>
<rect x="1686" y="138" width="41" height="11" fill="#ff0000"/>
<text x="1690" y="147" font-size="10" fill="#fff" textLength="33" lengthAdjust="spacingAndGlyphs" font-weight="normal" xml:space="preserve" stroke="#fff" stroke-width="0.08">7.10011</text>
<rect x="1686" y="238" width="41" height="11" fill="#00ff00"/>
<text x="1690" y="247" font-size="10" fill="#fff" textLength="33" lengthAdjust="spacingAndGlyphs" font-weight="normal" xml:space="preserve" stroke="#fff" stroke-width="0.08">7.00029</text>
<rect x="1686" y="358" width="41" height="11" fill="#0000ff"/>
<text x="1690" y="367" font-size="10" fill="#fff" textLength="33" lengthAdjust="spacingAndGlyphs" font-weight="normal" xml:space="preserve" stroke="#fff" stroke-width="0.08">6.88050</text>
<rect x="1686" y="478" width="41" height="11" fill="#0000ff"/>
<text x="1690" y="487" font-size="10" fill="#fff" textLength="33" lengthAdjust="spacingAndGlyphs" font-weight="normal" xml:space="preserve" stroke="#fff" stroke-width="0.08">6.76071</text>
<polygon points="7,29 14,29 10.5,33" fill="#000"/>
<text x="19.3" y="34" font-size="10" fill="#000" textLength="65.4" lengthAdjust="spacingAndGlyphs" font-weight="normal" xml:space="preserve" stroke="#000" stroke-width="0.08">USDCNH,Daily</text>
<text x="90.9" y="34" font-size="10" fill="#000" textLength="32.9" lengthAdjust="spacingAndGlyphs" font-weight="normal" xml:space="preserve" stroke="#000" stroke-width="0.08">7.00055</text>
<text x="127.1" y="34" font-size="10" fill="#000" textLength="32.6" lengthAdjust="spacingAndGlyphs" font-weight="normal" xml:space="preserve" stroke="#000" stroke-width="0.08">7.00421</text>
<text x="162.9" y="34" font-size="10" fill="#000" textLength="32.8" lengthAdjust="spacingAndGlyphs" font-weight="normal" xml:space="preserve" stroke="#000" stroke-width="0.08">6.98989</text>
<text x="199" y="34" font-size="10" fill="#000" textLength="33" lengthAdjust="spacingAndGlyphs" font-weight="normal" xml:space="preserve" stroke="#000" stroke-width="0.08">6.99686</text>
<text x="8" y="604" font-size="10" fill="#000" textLength="68" lengthAdjust="spacingAndGlyphs" font-weight="normal" xml:space="preserve" stroke="#000" stroke-width="0.08">RSI(14) 43.3213</text>
<rect x="1685" y="593" width="1" height="1" fill="#000"/>
<rect x="1685" y="623" width="2" height="1" fill="#000"/>
<rect x="1685" y="664" width="2" height="1" fill="#000"/>
<rect x="1685" y="694" width="1" height="1" fill="#000"/>
<text transform="translate(1688,602) scale(0.93,1)" font-size="10" fill="#000" text-anchor="start" font-weight="normal" stroke="#000" stroke-width="0.08">100</text>
<text transform="translate(1688,627) scale(0.93,1)" font-size="10" fill="#000" text-anchor="start" font-weight="normal" stroke="#000" stroke-width="0.08">70</text>
<text transform="translate(1688,668) scale(0.93,1)" font-size="10" fill="#000" text-anchor="start" font-weight="normal" stroke="#000" stroke-width="0.08">30</text>
<text transform="translate(1688,692) scale(0.93,1)" font-size="10" fill="#000" text-anchor="start" font-weight="normal" stroke="#000" stroke-width="0.08">0</text>
<path d="M872,603h1v2h-1zM871,605h1v2h-1zM873,605h1v3h-1zM870,607h1v3h-1zM874,608h1v4h-1zM600,610h6v1h-6zM869,610h1v2h-1zM598,611h2v1h-2zM606,611h2v1h-2zM584,611h1v4h-1zM585,612h2v1h-2zM595,612h3v1h-3zM608,612h2v1h-2zM868,612h1v2h-1zM875,612h1v3h-1zM587,613h1v1h-1zM591,613h4v1h-4zM610,613h2v1h-2zM867,613h1v1h-1zM880,613h1v1h-1zM588,614h3v1h-3zM612,614h6v1h-6zM865,614h2v1h-2zM879,614h1v1h-1zM881,614h1v2h-1zM864,614h1v3h-1zM618,615h2v1h-2zM877,615h2v1h-2zM876,615h1v2h-1zM583,615h1v7h-1zM620,616h1v1h-1zM882,616h1v1h-1zM888,616h3v1h-3zM621,617h1v1h-1zM887,617h1v1h-1zM891,617h5v1h-5zM883,617h1v2h-1zM896,617h1v3h-1zM863,617h1v4h-1zM885,618h2v1h-2zM944,618h2v1h-2zM622,618h1v2h-1zM884,619h1v1h-1zM943,619h1v1h-1zM946,619h2v1h-2zM951,619h2v1h-2zM623,620h1v1h-1zM640,620h1v1h-1zM941,620h2v1h-2zM948,620h3v1h-3zM968,620h2v1h-2zM953,620h1v2h-1zM897,620h1v5h-1zM624,621h3v1h-3zM639,621h1v1h-1zM641,621h1v1h-1zM939,621h2v1h-2zM967,621h1v1h-1zM970,621h2v1h-2zM862,621h1v4h-1zM627,622h2v1h-2zM637,622h2v1h-2zM642,622h1v1h-1zM648,622h5v1h-5zM675,622h3v1h-3zM936,622h3v1h-3zM954,622h1v1h-1zM965,622h2v1h-2zM972,622h1v2h-1zM582,622h1v7h-1zM629,623h2v1h-2zM636,623h1v1h-1zM643,623h1v1h-1zM646,623h2v1h-2zM653,623h2v1h-2zM672,623h3v1h-3zM678,623h2v1h-2zM935,623h1v1h-1zM960,623h5v1h-5zM955,623h1v2h-1zM631,624h1v1h-1zM634,624h2v1h-2zM644,624h2v1h-2zM655,624h1v1h-1zM671,624h1v1h-1zM958,624h2v1h-2zM680,624h1v2h-1zM934,624h1v2h-1zM973,624h1v2h-1zM632,625h2v1h-2zM656,625h9v1h-9zM956,625h2v1h-2zM670,625h1v2h-1zM861,625h1v4h-1zM898,625h1v5h-1zM665,626h2v1h-2zM933,626h1v1h-1zM681,626h1v2h-1zM974,626h1v3h-1zM667,627h1v1h-1zM669,627h1v1h-1zM932,627h1v1h-1zM668,628h1v1h-1zM931,628h1v1h-1zM682,628h1v2h-1zM696,629h5v1h-5zM924,629h2v1h-2zM930,629h1v1h-1zM975,629h1v2h-1zM1284,629h1v2h-1zM860,629h1v3h-1zM581,629h1v7h-1zM694,630h2v1h-2zM701,630h2v1h-2zM922,630h2v1h-2zM926,630h2v1h-2zM929,630h1v1h-1zM544,630h1v2h-1zM683,630h1v2h-1zM899,630h1v5h-1zM688,631h6v1h-6zM703,631h1v1h-1zM920,631h2v1h-2zM928,631h1v1h-1zM543,631h1v2h-1zM976,631h1v2h-1zM1283,631h1v2h-1zM1285,631h1v3h-1zM686,632h2v1h-2zM904,632h3v1h-3zM918,632h2v1h-2zM977,632h1v1h-1zM1068,632h5v1h-5zM545,632h1v2h-1zM684,632h1v2h-1zM704,632h1v2h-1zM859,632h1v2h-1zM685,633h1v1h-1zM903,633h1v1h-1zM907,633h11v1h-11zM978,633h2v1h-2zM1060,633h3v1h-3zM1066,633h2v1h-2zM542,633h1v2h-1zM1073,633h1v2h-1zM1282,633h1v3h-1zM980,634h1v1h-1zM1058,634h2v1h-2zM1063,634h3v1h-3zM1092,634h1v1h-1zM546,634h1v2h-1zM858,634h1v2h-1zM902,634h1v2h-1zM1286,634h1v2h-1zM705,634h1v4h-1zM568,635h1v1h-1zM1048,635h3v1h-3zM1055,635h3v1h-3zM1091,635h1v1h-1zM1093,635h1v1h-1zM541,635h1v2h-1zM981,635h1v2h-1zM1074,635h1v2h-1zM900,635h1v3h-1zM39,636h2v1h-2zM555,636h6v1h-6zM569,636h1v1h-1zM901,636h1v1h-1zM1047,636h1v1h-1zM1051,636h4v1h-4zM1094,636h1v1h-1zM547,636h1v2h-1zM567,636h1v2h-1zM857,636h1v2h-1zM1090,636h1v2h-1zM1281,636h1v2h-1zM1287,636h1v3h-1zM580,636h1v4h-1zM36,637h3v1h-3zM48,637h2v1h-2zM448,637h4v1h-4zM540,637h1v1h-1zM551,637h4v1h-4zM570,637h1v1h-1zM848,637h2v1h-2zM1095,637h1v1h-1zM41,637h1v2h-1zM452,637h1v2h-1zM561,637h1v2h-1zM982,637h1v2h-1zM1046,637h1v2h-1zM1075,637h1v2h-1zM27,638h2v1h-2zM35,638h1v1h-1zM50,638h2v1h-2zM538,638h2v1h-2zM548,638h3v1h-3zM571,638h1v1h-1zM850,638h2v1h-2zM1036,638h6v1h-6zM1089,638h1v1h-1zM47,638h1v2h-1zM296,638h1v2h-1zM447,638h1v2h-1zM566,638h1v2h-1zM847,638h1v2h-1zM856,638h1v2h-1zM1096,638h1v2h-1zM1280,638h1v2h-1zM706,638h1v3h-1zM24,639h3v1h-3zM29,639h1v1h-1zM295,639h1v1h-1zM536,639h2v1h-2zM562,639h1v1h-1zM572,639h8v1h-8zM852,639h4v1h-4zM1042,639h2v1h-2zM1045,639h1v1h-1zM1076,639h1v1h-1zM1088,639h1v1h-1zM1248,639h3v1h-3zM34,639h1v2h-1zM42,639h1v2h-1zM453,639h1v2h-1zM983,639h1v2h-1zM1035,639h1v2h-1zM1288,639h1v2h-1zM52,639h1v3h-1zM12,640h1v1h-1zM23,640h1v1h-1zM30,640h1v1h-1zM46,640h1v1h-1zM123,640h2v1h-2zM535,640h1v1h-1zM769,640h2v1h-2zM992,640h2v1h-2zM1044,640h1v1h-1zM1077,640h1v1h-1zM1247,640h1v1h-1zM1251,640h2v1h-2zM1279,640h1v1h-1zM1289,640h1v1h-1zM294,640h1v2h-1zM297,640h1v2h-1zM446,640h1v2h-1zM500,640h1v2h-1zM563,640h1v2h-1zM565,640h1v2h-1zM768,640h1v2h-1zM846,640h1v2h-1zM1087,640h1v2h-1zM1097,640h1v2h-1zM11,641h1v1h-1zM13,641h1v1h-1zM31,641h1v1h-1zM33,641h1v1h-1zM120,641h3v1h-3zM125,641h1v1h-1zM468,641h1v1h-1zM499,641h1v1h-1zM771,641h3v1h-3zM984,641h3v1h-3zM990,641h2v1h-2zM994,641h2v1h-2zM999,641h1v1h-1zM1034,641h1v1h-1zM1246,641h1v1h-1zM1253,641h1v1h-1zM1290,641h2v1h-2zM22,641h1v2h-1zM43,641h1v2h-1zM45,641h1v2h-1zM454,641h1v2h-1zM534,641h1v2h-1zM1000,641h1v2h-1zM1078,641h1v2h-1zM1278,641h1v2h-1zM707,641h1v4h-1zM9,642h2v1h-2zM14,642h1v1h-1zM32,642h1v1h-1zM119,642h1v1h-1zM126,642h1v1h-1zM293,642h1v1h-1zM435,642h2v1h-2zM467,642h1v1h-1zM497,642h2v1h-2zM564,642h1v1h-1zM774,642h2v1h-2zM779,642h1v1h-1zM828,642h1v1h-1zM987,642h3v1h-3zM996,642h3v1h-3zM1028,642h2v1h-2zM1240,642h3v1h-3zM1245,642h1v1h-1zM1292,642h1v1h-1zM298,642h1v2h-1zM445,642h1v2h-1zM469,642h1v2h-1zM501,642h1v2h-1zM767,642h1v2h-1zM780,642h1v2h-1zM845,642h1v2h-1zM1033,642h1v2h-1zM1086,642h1v2h-1zM1098,642h1v2h-1zM1254,642h1v2h-1zM53,642h1v4h-1zM8,643h1v1h-1zM15,643h1v1h-1zM21,643h1v1h-1zM44,643h1v1h-1zM80,643h1v1h-1zM127,643h1v1h-1zM291,643h2v1h-2zM308,643h3v1h-3zM391,643h1v1h-1zM432,643h3v1h-3zM437,643h1v1h-1zM466,643h1v1h-1zM496,643h1v1h-1zM533,643h1v1h-1zM776,643h3v1h-3zM827,643h1v1h-1zM1027,643h1v1h-1zM1030,643h2v1h-2zM1079,643h1v1h-1zM1239,643h1v1h-1zM1243,643h2v1h-2zM1277,643h1v1h-1zM1293,643h1v1h-1zM118,643h1v2h-1zM392,643h1v2h-1zM455,643h1v2h-1zM829,643h1v2h-1zM1001,643h1v3h-1zM16,644h5v1h-5zM81,644h2v1h-2zM128,644h3v1h-3zM287,644h4v1h-4zM307,644h1v1h-1zM311,644h2v1h-2zM387,644h4v1h-4zM438,644h1v1h-1zM444,644h1v1h-1zM459,644h4v1h-4zM465,644h1v1h-1zM488,644h2v1h-2zM495,644h1v1h-1zM532,644h1v1h-1zM816,644h3v1h-3zM826,644h1v1h-1zM843,644h2v1h-2zM1020,644h3v1h-3zM1025,644h2v1h-2zM1032,644h1v1h-1zM1080,644h2v1h-2zM1237,644h2v1h-2zM1255,644h1v1h-1zM1268,644h3v1h-3zM1275,644h2v1h-2zM1294,644h1v1h-1zM1304,644h2v1h-2zM7,644h1v2h-1zM79,644h1v2h-1zM299,644h1v2h-1zM431,644h1v2h-1zM470,644h1v2h-1zM502,644h1v2h-1zM766,644h1v2h-1zM781,644h1v2h-1zM1085,644h1v2h-1zM1099,644h1v2h-1zM83,645h1v1h-1zM96,645h7v1h-7zM117,645h1v1h-1zM131,645h2v1h-2zM284,645h3v1h-3zM305,645h2v1h-2zM313,645h1v1h-1zM384,645h3v1h-3zM439,645h1v1h-1zM442,645h2v1h-2zM456,645h3v1h-3zM463,645h2v1h-2zM487,645h1v1h-1zM490,645h2v1h-2zM493,645h2v1h-2zM531,645h1v1h-1zM759,645h2v1h-2zM814,645h2v1h-2zM819,645h4v1h-4zM825,645h1v1h-1zM840,645h3v1h-3zM1019,645h1v1h-1zM1023,645h2v1h-2zM1082,645h2v1h-2zM1235,645h2v1h-2zM1256,645h1v1h-1zM1267,645h1v1h-1zM1271,645h4v1h-4zM1295,645h1v1h-1zM1303,645h1v1h-1zM1306,645h2v1h-2zM1311,645h1v1h-1zM393,645h1v2h-1zM708,645h1v2h-1zM830,645h1v2h-1zM1312,645h1v2h-1zM84,646h1v1h-1zM95,646h1v1h-1zM103,646h8v1h-8zM115,646h2v1h-2zM133,646h1v1h-1zM272,646h1v1h-1zM282,646h2v1h-2zM300,646h5v1h-5zM314,646h1v1h-1zM320,646h1v1h-1zM382,646h2v1h-2zM404,646h1v1h-1zM416,646h1v1h-1zM440,646h2v1h-2zM492,646h1v1h-1zM529,646h2v1h-2zM709,646h3v1h-3zM757,646h2v1h-2zM761,646h1v1h-1zM804,646h1v1h-1zM812,646h2v1h-2zM823,646h2v1h-2zM1084,646h1v1h-1zM1120,646h1v1h-1zM1233,646h2v1h-2zM1257,646h1v1h-1zM1296,646h2v1h-2zM1302,646h1v1h-1zM1308,646h3v1h-3zM6,646h1v2h-1zM78,646h1v2h-1zM430,646h1v2h-1zM471,646h1v2h-1zM486,646h1v2h-1zM503,646h1v2h-1zM712,646h1v2h-1zM756,646h1v2h-1zM765,646h1v2h-1zM782,646h1v2h-1zM839,646h1v2h-1zM1002,646h1v2h-1zM1018,646h1v2h-1zM1100,646h1v2h-1zM1232,646h1v2h-1zM1266,646h1v2h-1zM54,646h1v5h-1zM85,647h1v1h-1zM111,647h4v1h-4zM273,647h2v1h-2zM280,647h2v1h-2zM315,647h1v1h-1zM318,647h2v1h-2zM321,647h1v1h-1zM380,647h2v1h-2zM405,647h2v1h-2zM415,647h1v1h-1zM417,647h2v1h-2zM475,647h4v1h-4zM525,647h4v1h-4zM762,647h1v1h-1zM792,647h7v1h-7zM802,647h2v1h-2zM805,647h2v1h-2zM811,647h1v1h-1zM1119,647h1v1h-1zM1121,647h1v1h-1zM1258,647h1v1h-1zM1298,647h2v1h-2zM1301,647h1v1h-1zM94,647h1v2h-1zM134,647h1v2h-1zM271,647h1v2h-1zM394,647h1v2h-1zM403,647h1v2h-1zM516,647h1v2h-1zM524,647h1v2h-1zM831,647h1v2h-1zM1313,647h1v4h-1zM164,648h1v1h-1zM275,648h1v1h-1zM278,648h2v1h-2zM316,648h2v1h-2zM322,648h1v1h-1zM379,648h1v1h-1zM407,648h1v1h-1zM414,648h1v1h-1zM419,648h1v1h-1zM472,648h3v1h-3zM479,648h4v1h-4zM485,648h1v1h-1zM515,648h1v1h-1zM763,648h1v1h-1zM791,648h1v1h-1zM799,648h3v1h-3zM807,648h1v1h-1zM809,648h2v1h-2zM838,648h1v1h-1zM1017,648h1v1h-1zM1101,648h1v1h-1zM1118,648h1v1h-1zM1122,648h1v1h-1zM1216,648h5v1h-5zM1259,648h1v1h-1zM1265,648h1v1h-1zM1300,648h1v1h-1zM1321,648h1v1h-1zM5,648h1v2h-1zM77,648h1v2h-1zM86,648h1v2h-1zM429,648h1v2h-1zM504,648h1v2h-1zM755,648h1v2h-1zM764,648h1v2h-1zM783,648h1v2h-1zM1231,648h1v2h-1zM1320,648h1v2h-1zM1003,648h1v3h-1zM713,648h1v4h-1zM93,649h1v1h-1zM135,649h1v1h-1zM163,649h1v1h-1zM165,649h1v1h-1zM228,649h1v1h-1zM276,649h2v1h-2zM323,649h1v1h-1zM377,649h2v1h-2zM408,649h3v1h-3zM413,649h1v1h-1zM420,649h1v1h-1zM483,649h2v1h-2zM505,649h2v1h-2zM514,649h1v1h-1zM789,649h2v1h-2zM808,649h1v1h-1zM832,649h2v1h-2zM1016,649h1v1h-1zM1117,649h1v1h-1zM1123,649h1v1h-1zM1260,649h5v1h-5zM1322,649h2v1h-2zM270,649h1v2h-1zM395,649h1v2h-1zM402,649h1v2h-1zM517,649h1v2h-1zM523,649h1v2h-1zM837,649h1v2h-1zM1102,649h1v2h-1zM1215,649h1v2h-1zM1221,649h1v2h-1zM87,650h1v1h-1zM91,650h2v1h-2zM136,650h11v1h-11zM161,650h2v1h-2zM166,650h1v1h-1zM227,650h1v1h-1zM229,650h2v1h-2zM376,650h1v1h-1zM411,650h2v1h-2zM421,650h1v1h-1zM428,650h1v1h-1zM507,650h4v1h-4zM513,650h1v1h-1zM735,650h4v1h-4zM784,650h5v1h-5zM834,650h2v1h-2zM1116,650h1v1h-1zM1124,650h3v1h-3zM1324,650h1v1h-1zM1336,650h3v1h-3zM4,650h1v2h-1zM76,650h1v2h-1zM324,650h1v2h-1zM1015,650h1v2h-1zM1230,650h1v2h-1zM754,650h1v3h-1zM1319,650h1v3h-1zM68,651h1v1h-1zM88,651h3v1h-3zM147,651h2v1h-2zM160,651h1v1h-1zM167,651h1v1h-1zM226,651h1v1h-1zM231,651h1v1h-1zM364,651h2v1h-2zM375,651h1v1h-1zM396,651h2v1h-2zM427,651h1v1h-1zM511,651h2v1h-2zM732,651h3v1h-3zM739,651h3v1h-3zM836,651h1v1h-1zM1103,651h1v1h-1zM1115,651h1v1h-1zM1127,651h4v1h-4zM1140,651h1v1h-1zM1214,651h1v1h-1zM1325,651h2v1h-2zM1335,651h1v1h-1zM1339,651h2v1h-2zM269,651h1v2h-1zM401,651h1v2h-1zM422,651h1v2h-1zM1004,651h1v2h-1zM1222,651h1v2h-1zM518,651h1v3h-1zM522,651h1v3h-1zM55,651h1v4h-1zM1314,651h1v4h-1zM69,652h2v1h-2zM75,652h1v1h-1zM149,652h2v1h-2zM159,652h1v1h-1zM168,652h2v1h-2zM220,652h3v1h-3zM225,652h1v1h-1zM232,652h3v1h-3zM362,652h2v1h-2zM366,652h2v1h-2zM373,652h2v1h-2zM398,652h2v1h-2zM426,652h1v1h-1zM730,652h2v1h-2zM742,652h2v1h-2zM1014,652h1v1h-1zM1104,652h3v1h-3zM1114,652h1v1h-1zM1131,652h4v1h-4zM1138,652h2v1h-2zM1141,652h2v1h-2zM1148,652h1v1h-1zM1160,652h6v1h-6zM1327,652h1v1h-1zM1333,652h2v1h-2zM67,652h1v2h-1zM1213,652h1v2h-1zM1229,652h1v2h-1zM325,652h1v3h-1zM714,652h1v4h-1zM71,653h1v1h-1zM73,653h2v1h-2zM151,653h1v1h-1zM158,653h1v1h-1zM170,653h2v1h-2zM219,653h1v1h-1zM223,653h2v1h-2zM235,653h1v1h-1zM267,653h2v1h-2zM360,653h2v1h-2zM368,653h5v1h-5zM400,653h1v1h-1zM423,653h1v1h-1zM425,653h1v1h-1zM728,653h2v1h-2zM744,653h3v1h-3zM1005,653h1v1h-1zM1107,653h4v1h-4zM1113,653h1v1h-1zM1135,653h3v1h-3zM1143,653h1v1h-1zM1146,653h2v1h-2zM1149,653h2v1h-2zM1159,653h1v1h-1zM1166,653h2v1h-2zM1328,653h5v1h-5zM236,653h1v2h-1zM753,653h1v2h-1zM1013,653h1v2h-1zM1223,653h1v2h-1zM1318,653h1v3h-1zM72,654h1v1h-1zM152,654h3v1h-3zM157,654h1v1h-1zM172,654h1v1h-1zM265,654h2v1h-2zM424,654h1v1h-1zM727,654h1v1h-1zM747,654h3v1h-3zM1111,654h2v1h-2zM1144,654h2v1h-2zM1151,654h1v1h-1zM1168,654h1v1h-1zM1209,654h4v1h-4zM66,654h1v2h-1zM218,654h1v2h-1zM359,654h1v2h-1zM519,654h1v2h-1zM521,654h1v2h-1zM1006,654h1v2h-1zM1158,654h1v2h-1zM1208,654h1v2h-1zM1228,654h1v2h-1zM264,654h1v3h-1zM155,655h2v1h-2zM173,655h1v1h-1zM726,655h1v1h-1zM750,655h2v1h-2zM1012,655h1v1h-1zM1152,655h2v1h-2zM1169,655h2v1h-2zM1224,655h4v1h-4zM180,655h1v2h-1zM237,655h1v2h-1zM752,655h1v2h-1zM56,655h1v3h-1zM326,655h1v3h-1zM1315,655h1v4h-1zM179,656h1v1h-1zM217,656h1v1h-1zM358,656h1v1h-1zM720,656h3v1h-3zM725,656h1v1h-1zM1007,656h1v1h-1zM1010,656h2v1h-2zM1154,656h2v1h-2zM1157,656h1v1h-1zM1171,656h1v1h-1zM65,656h1v2h-1zM174,656h1v2h-1zM520,656h1v2h-1zM1207,656h1v2h-1zM1317,656h1v3h-1zM715,656h1v4h-1zM178,657h1v1h-1zM213,657h4v1h-4zM719,657h1v1h-1zM723,657h2v1h-2zM1008,657h2v1h-2zM1156,657h1v1h-1zM1172,657h2v1h-2zM1180,657h1v1h-1zM181,657h1v2h-1zM212,657h1v2h-1zM357,657h1v2h-1zM238,657h1v3h-1zM263,657h1v4h-1zM64,658h1v1h-1zM175,658h1v1h-1zM177,658h1v1h-1zM332,658h2v1h-2zM1174,658h2v1h-2zM1178,658h2v1h-2zM1181,658h1v1h-1zM57,658h1v2h-1zM718,658h1v2h-1zM327,658h1v3h-1zM1206,658h1v3h-1zM63,659h1v1h-1zM176,659h1v1h-1zM331,659h1v1h-1zM334,659h2v1h-2zM356,659h1v1h-1zM1176,659h2v1h-2zM1182,659h1v1h-1zM182,659h1v2h-1zM1316,659h1v2h-1zM211,659h1v3h-1zM58,660h1v1h-1zM330,660h1v1h-1zM336,660h2v1h-2zM355,660h1v1h-1zM717,660h1v1h-1zM1183,660h1v1h-1zM62,660h1v2h-1zM239,660h1v2h-1zM716,660h1v2h-1zM329,661h1v1h-1zM338,661h2v1h-2zM348,661h3v1h-3zM353,661h2v1h-2zM1184,661h1v1h-1zM59,661h1v2h-1zM183,661h1v2h-1zM328,661h1v2h-1zM1205,661h1v2h-1zM262,661h1v4h-1zM61,662h1v1h-1zM340,662h1v1h-1zM347,662h1v1h-1zM351,662h2v1h-2zM1185,662h1v1h-1zM240,662h1v2h-1zM210,662h1v3h-1zM60,663h1v1h-1zM241,663h10v1h-10zM341,663h1v1h-1zM1200,663h3v1h-3zM184,663h1v2h-1zM346,663h1v2h-1zM1186,663h1v2h-1zM1204,663h1v2h-1zM251,664h2v1h-2zM342,664h1v1h-1zM1203,664h1v1h-1zM1199,664h1v2h-1zM185,665h1v1h-1zM253,665h1v1h-1zM343,665h1v1h-1zM345,665h1v1h-1zM1187,665h1v1h-1zM209,665h1v3h-1zM261,665h1v4h-1zM254,666h1v1h-1zM344,666h1v1h-1zM1188,666h3v1h-3zM186,666h1v2h-1zM1198,666h1v2h-1zM255,667h1v1h-1zM1191,667h2v1h-2zM187,668h1v1h-1zM256,668h1v1h-1zM1193,668h1v1h-1zM208,668h1v2h-1zM1197,668h1v2h-1zM188,669h1v1h-1zM203,669h5v1h-5zM257,669h2v1h-2zM1194,669h1v1h-1zM260,669h1v3h-1zM189,670h1v1h-1zM200,670h3v1h-3zM259,670h1v1h-1zM1195,670h1v1h-1zM1196,670h1v2h-1zM190,671h1v1h-1zM198,671h2v1h-2zM191,672h1v1h-1zM195,672h3v1h-3zM192,673h3v1h-3z" fill="#1e90ff"/>
<line x1="5" x2="1684" y1="623.5" y2="623.5" stroke="#c0c0c0" stroke-width="1" stroke-dasharray="3,3"/>
<line x1="5" x2="1684" y1="664.5" y2="664.5" stroke="#c0c0c0" stroke-width="1" stroke-dasharray="3,3"/>
<rect x="4" y="759" width="1" height="2" fill="#c0c0c0"/><rect x="8" y="759" width="1" height="2" fill="#c0c0c0"/><rect x="12" y="759" width="1" height="2" fill="#c0c0c0"/><rect x="16" y="760" width="1" height="1" fill="#c0c0c0"/><rect x="20" y="760" width="1" height="1" fill="#c0c0c0"/><rect x="24" y="759" width="1" height="2" fill="#c0c0c0"/><rect x="28" y="758" width="1" height="3" fill="#c0c0c0"/><rect x="32" y="758" width="1" height="3" fill="#c0c0c0"/><rect x="36" y="757" width="1" height="4" fill="#c0c0c0"/><rect x="40" y="756" width="1" height="5" fill="#c0c0c0"/><rect x="44" y="757" width="1" height="4" fill="#c0c0c0"/><rect x="48" y="756" width="1" height="5" fill="#c0c0c0"/><rect x="52" y="756" width="1" height="5" fill="#c0c0c0"/><rect x="56" y="760" width="1" height="1" fill="#c0c0c0"/><rect x="60" y="760" width="1" height="7" fill="#c0c0c0"/><rect x="64" y="760" width="1" height="11" fill="#c0c0c0"/><rect x="68" y="760" width="1" height="12" fill="#c0c0c0"/><rect x="72" y="760" width="1" height="14" fill="#c0c0c0"/><rect x="76" y="760" width="1" height="14" fill="#c0c0c0"/><rect x="80" y="760" width="1" height="12" fill="#c0c0c0"/><rect x="84" y="760" width="1" height="11" fill="#c0c0c0"/><rect x="88" y="760" width="1" height="12" fill="#c0c0c0"/><rect x="92" y="760" width="1" height="12" fill="#c0c0c0"/><rect x="96" y="760" width="1" height="11" fill="#c0c0c0"/><rect x="100" y="760" width="1" height="10" fill="#c0c0c0"/><rect x="104" y="760" width="1" height="9" fill="#c0c0c0"/><rect x="108" y="760" width="1" height="8" fill="#c0c0c0"/><rect x="112" y="760" width="1" height="8" fill="#c0c0c0"/><rect x="116" y="760" width="1" height="7" fill="#c0c0c0"/><rect x="120" y="760" width="1" height="6" fill="#c0c0c0"/><rect x="124" y="760" width="1" height="4" fill="#c0c0c0"/><rect x="128" y="760" width="1" height="3" fill="#c0c0c0"/><rect x="132" y="760" width="1" height="3" fill="#c0c0c0"/><rect x="136" y="760" width="1" height="4" fill="#c0c0c0"/><rect x="140" y="760" width="1" height="5" fill="#c0c0c0"/><rect x="144" y="760" width="1" height="6" fill="#c0c0c0"/><rect x="148" y="760" width="1" height="7" fill="#c0c0c0"/><rect x="152" y="760" width="1" height="8" fill="#c0c0c0"/><rect x="156" y="760" width="1" height="9" fill="#c0c0c0"/><rect x="160" y="760" width="1" height="9" fill="#c0c0c0"/><rect x="164" y="760" width="1" height="9" fill="#c0c0c0"/><rect x="168" y="760" width="1" height="9" fill="#c0c0c0"/><rect x="172" y="760" width="1" height="10" fill="#c0c0c0"/><rect x="176" y="760" width="1" height="11" fill="#c0c0c0"/><rect x="180" y="760" width="1" height="12" fill="#c0c0c0"/><rect x="184" y="760" width="1" height="15" fill="#c0c0c0"/><rect x="188" y="760" width="1" height="20" fill="#c0c0c0"/><rect x="192" y="760" width="1" height="26" fill="#c0c0c0"/><rect x="196" y="760" width="1" height="30" fill="#c0c0c0"/><rect x="200" y="760" width="1" height="32" fill="#c0c0c0"/><rect x="204" y="760" width="1" height="34" fill="#c0c0c0"/><rect x="208" y="760" width="1" height="35" fill="#c0c0c0"/><rect x="212" y="760" width="1" height="33" fill="#c0c0c0"/><rect x="216" y="760" width="1" height="31" fill="#c0c0c0"/><rect x="220" y="760" width="1" height="28" fill="#c0c0c0"/><rect x="224" y="760" width="1" height="26" fill="#c0c0c0"/><rect x="228" y="760" width="1" height="23" fill="#c0c0c0"/><rect x="232" y="760" width="1" height="22" fill="#c0c0c0"/><rect x="236" y="760" width="1" height="20" fill="#c0c0c0"/><rect x="240" y="760" width="1" height="22" fill="#c0c0c0"/><rect x="244" y="760" width="1" height="24" fill="#c0c0c0"/><rect x="248" y="760" width="1" height="25" fill="#c0c0c0"/><rect x="252" y="760" width="1" height="25" fill="#c0c0c0"/><rect x="256" y="760" width="1" height="28" fill="#c0c0c0"/><rect x="260" y="760" width="1" height="30" fill="#c0c0c0"/><rect x="264" y="760" width="1" height="29" fill="#c0c0c0"/><rect x="268" y="760" width="1" height="27" fill="#c0c0c0"/><rect x="272" y="760" width="1" height="23" fill="#c0c0c0"/><rect x="276" y="760" width="1" height="21" fill="#c0c0c0"/><rect x="280" y="760" width="1" height="19" fill="#c0c0c0"/><rect x="284" y="760" width="1" height="16" fill="#c0c0c0"/><rect x="288" y="760" width="1" height="14" fill="#c0c0c0"/><rect x="292" y="760" width="1" height="12" fill="#c0c0c0"/><rect x="296" y="760" width="1" height="8" fill="#c0c0c0"/><rect x="300" y="760" width="1" height="8" fill="#c0c0c0"/><rect x="304" y="760" width="1" height="7" fill="#c0c0c0"/><rect x="308" y="760" width="1" height="6" fill="#c0c0c0"/><rect x="312" y="760" width="1" height="5" fill="#c0c0c0"/><rect x="316" y="760" width="1" height="5" fill="#c0c0c0"/><rect x="320" y="760" width="1" height="5" fill="#c0c0c0"/><rect x="324" y="760" width="1" height="6" fill="#c0c0c0"/><rect x="328" y="760" width="1" height="10" fill="#c0c0c0"/><rect x="332" y="760" width="1" height="12" fill="#c0c0c0"/><rect x="336" y="760" width="1" height="15" fill="#c0c0c0"/><rect x="340" y="760" width="1" height="18" fill="#c0c0c0"/><rect x="344" y="760" width="1" height="21" fill="#c0c0c0"/><rect x="348" y="760" width="1" height="23" fill="#c0c0c0"/><rect x="352" y="760" width="1" height="25" fill="#c0c0c0"/><rect x="356" y="760" width="1" height="25" fill="#c0c0c0"/><rect x="360" y="760" width="1" height="24" fill="#c0c0c0"/><rect x="364" y="760" width="1" height="22" fill="#c0c0c0"/><rect x="368" y="760" width="1" height="21" fill="#c0c0c0"/><rect x="372" y="760" width="1" height="20" fill="#c0c0c0"/><rect x="376" y="760" width="1" height="18" fill="#c0c0c0"/><rect x="380" y="760" width="1" height="16" fill="#c0c0c0"/><rect x="384" y="760" width="1" height="14" fill="#c0c0c0"/><rect x="388" y="760" width="1" height="12" fill="#c0c0c0"/><rect x="392" y="760" width="1" height="10" fill="#c0c0c0"/><rect x="396" y="760" width="1" height="10" fill="#c0c0c0"/><rect x="400" y="760" width="1" height="10" fill="#c0c0c0"/><rect x="404" y="760" width="1" height="9" fill="#c0c0c0"/><rect x="408" y="760" width="1" height="9" fill="#c0c0c0"/><rect x="412" y="760" width="1" height="9" fill="#c0c0c0"/><rect x="416" y="760" width="1" height="8" fill="#c0c0c0"/><rect x="420" y="760" width="1" height="7" fill="#c0c0c0"/><rect x="424" y="760" width="1" height="8" fill="#c0c0c0"/><rect x="428" y="760" width="1" height="8" fill="#c0c0c0"/><rect x="432" y="760" width="1" height="7" fill="#c0c0c0"/><rect x="436" y="760" width="1" height="5" fill="#c0c0c0"/><rect x="440" y="760" width="1" height="5" fill="#c0c0c0"/><rect x="444" y="760" width="1" height="4" fill="#c0c0c0"/><rect x="448" y="760" width="1" height="2" fill="#c0c0c0"/><rect x="452" y="760" width="1" height="1" fill="#c0c0c0"/><rect x="456" y="760" width="1" height="1" fill="#c0c0c0"/><rect x="460" y="760" width="1" height="1" fill="#c0c0c0"/><rect x="464" y="760" width="1" height="1" fill="#c0c0c0"/><rect x="468" y="760" width="1" height="1" fill="#c0c0c0"/><rect x="472" y="760" width="1" height="1" fill="#c0c0c0"/><rect x="476" y="760" width="1" height="2" fill="#c0c0c0"/><rect x="480" y="760" width="1" height="2" fill="#c0c0c0"/><rect x="484" y="760" width="1" height="3" fill="#c0c0c0"/><rect x="488" y="760" width="1" height="3" fill="#c0c0c0"/><rect x="492" y="760" width="1" height="3" fill="#c0c0c0"/><rect x="496" y="760" width="1" height="2" fill="#c0c0c0"/><rect x="500" y="760" width="1" height="1" fill="#c0c0c0"/><rect x="504" y="760" width="1" height="2" fill="#c0c0c0"/><rect x="508" y="760" width="1" height="3" fill="#c0c0c0"/><rect x="512" y="760" width="1" height="3" fill="#c0c0c0"/><rect x="516" y="760" width="1" height="3" fill="#c0c0c0"/><rect x="520" y="760" width="1" height="5" fill="#c0c0c0"/><rect x="524" y="760" width="1" height="5" fill="#c0c0c0"/><rect x="528" y="760" width="1" height="5" fill="#c0c0c0"/><rect x="532" y="760" width="1" height="4" fill="#c0c0c0"/><rect x="536" y="760" width="1" height="3" fill="#c0c0c0"/><rect x="540" y="760" width="1" height="1" fill="#c0c0c0"/><rect x="544" y="759" width="1" height="2" fill="#c0c0c0"/><rect x="548" y="758" width="1" height="3" fill="#c0c0c0"/><rect x="552" y="757" width="1" height="4" fill="#c0c0c0"/><rect x="556" y="756" width="1" height="5" fill="#c0c0c0"/><rect x="560" y="756" width="1" height="5" fill="#c0c0c0"/><rect x="564" y="756" width="1" height="5" fill="#c0c0c0"/><rect x="568" y="755" width="1" height="6" fill="#c0c0c0"/><rect x="572" y="755" width="1" height="6" fill="#c0c0c0"/><rect x="576" y="755" width="1" height="6" fill="#c0c0c0"/><rect x="580" y="755" width="1" height="6" fill="#c0c0c0"/><rect x="584" y="742" width="1" height="19" fill="#c0c0c0"/><rect x="588" y="733" width="1" height="28" fill="#c0c0c0"/><rect x="592" y="725" width="1" height="36" fill="#c0c0c0"/><rect x="596" y="719" width="1" height="42" fill="#c0c0c0"/><rect x="600" y="713" width="1" height="48" fill="#c0c0c0"/><rect x="604" y="708" width="1" height="53" fill="#c0c0c0"/><rect x="608" y="705" width="1" height="56" fill="#c0c0c0"/><rect x="612" y="704" width="1" height="57" fill="#c0c0c0"/><rect x="616" y="704" width="1" height="57" fill="#c0c0c0"/><rect x="620" y="705" width="1" height="56" fill="#c0c0c0"/><rect x="624" y="707" width="1" height="54" fill="#c0c0c0"/><rect x="628" y="710" width="1" height="51" fill="#c0c0c0"/><rect x="632" y="713" width="1" height="48" fill="#c0c0c0"/><rect x="636" y="715" width="1" height="46" fill="#c0c0c0"/><rect x="640" y="716" width="1" height="45" fill="#c0c0c0"/><rect x="644" y="718" width="1" height="43" fill="#c0c0c0"/><rect x="648" y="720" width="1" height="41" fill="#c0c0c0"/><rect x="652" y="721" width="1" height="40" fill="#c0c0c0"/><rect x="656" y="724" width="1" height="37" fill="#c0c0c0"/><rect x="660" y="726" width="1" height="35" fill="#c0c0c0"/><rect x="664" y="728" width="1" height="33" fill="#c0c0c0"/><rect x="668" y="730" width="1" height="31" fill="#c0c0c0"/><rect x="672" y="731" width="1" height="30" fill="#c0c0c0"/><rect x="676" y="732" width="1" height="29" fill="#c0c0c0"/><rect x="680" y="733" width="1" height="28" fill="#c0c0c0"/><rect x="684" y="735" width="1" height="26" fill="#c0c0c0"/><rect x="688" y="737" width="1" height="24" fill="#c0c0c0"/><rect x="692" y="739" width="1" height="22" fill="#c0c0c0"/><rect x="696" y="740" width="1" height="21" fill="#c0c0c0"/><rect x="700" y="741" width="1" height="20" fill="#c0c0c0"/><rect x="704" y="742" width="1" height="19" fill="#c0c0c0"/><rect x="708" y="746" width="1" height="15" fill="#c0c0c0"/><rect x="712" y="749" width="1" height="12" fill="#c0c0c0"/><rect x="716" y="755" width="1" height="6" fill="#c0c0c0"/><rect x="720" y="758" width="1" height="3" fill="#c0c0c0"/><rect x="724" y="760" width="1" height="1" fill="#c0c0c0"/><rect x="728" y="760" width="1" height="3" fill="#c0c0c0"/><rect x="732" y="760" width="1" height="4" fill="#c0c0c0"/><rect x="736" y="760" width="1" height="5" fill="#c0c0c0"/><rect x="740" y="760" width="1" height="6" fill="#c0c0c0"/><rect x="744" y="760" width="1" height="6" fill="#c0c0c0"/><rect x="748" y="760" width="1" height="7" fill="#c0c0c0"/><rect x="752" y="760" width="1" height="8" fill="#c0c0c0"/><rect x="756" y="760" width="1" height="8" fill="#c0c0c0"/><rect x="760" y="760" width="1" height="7" fill="#c0c0c0"/><rect x="764" y="760" width="1" height="7" fill="#c0c0c0"/><rect x="768" y="760" width="1" height="5" fill="#c0c0c0"/><rect x="772" y="760" width="1" height="4" fill="#c0c0c0"/><rect x="776" y="760" width="1" height="3" fill="#c0c0c0"/><rect x="780" y="760" width="1" height="2" fill="#c0c0c0"/><rect x="784" y="760" width="1" height="3" fill="#c0c0c0"/><rect x="788" y="760" width="1" height="4" fill="#c0c0c0"/><rect x="792" y="760" width="1" height="4" fill="#c0c0c0"/><rect x="796" y="760" width="1" height="4" fill="#c0c0c0"/><rect x="800" y="760" width="1" height="4" fill="#c0c0c0"/><rect x="804" y="760" width="1" height="4" fill="#c0c0c0"/><rect x="808" y="760" width="1" height="4" fill="#c0c0c0"/><rect x="812" y="760" width="1" height="4" fill="#c0c0c0"/><rect x="816" y="760" width="1" height="3" fill="#c0c0c0"/><rect x="820" y="760" width="1" height="3" fill="#c0c0c0"/><rect x="824" y="760" width="1" height="3" fill="#c0c0c0"/><rect x="828" y="760" width="1" height="2" fill="#c0c0c0"/><rect x="832" y="760" width="1" height="3" fill="#c0c0c0"/><rect x="836" y="760" width="1" height="3" fill="#c0c0c0"/><rect x="840" y="760" width="1" height="3" fill="#c0c0c0"/><rect x="844" y="760" width="1" height="3" fill="#c0c0c0"/><rect x="848" y="760" width="1" height="1" fill="#c0c0c0"/><rect x="852" y="760" width="1" height="1" fill="#c0c0c0"/><rect x="856" y="760" width="1" height="1" fill="#c0c0c0"/><rect x="860" y="759" width="1" height="2" fill="#c0c0c0"/><rect x="864" y="753" width="1" height="8" fill="#c0c0c0"/><rect x="868" y="747" width="1" height="14" fill="#c0c0c0"/><rect x="872" y="734" width="1" height="27" fill="#c0c0c0"/><rect x="876" y="727" width="1" height="34" fill="#c0c0c0"/><rect x="880" y="720" width="1" height="41" fill="#c0c0c0"/><rect x="884" y="716" width="1" height="45" fill="#c0c0c0"/><rect x="888" y="711" width="1" height="50" fill="#c0c0c0"/><rect x="892" y="708" width="1" height="53" fill="#c0c0c0"/><rect x="896" y="706" width="1" height="55" fill="#c0c0c0"/><rect x="900" y="711" width="1" height="50" fill="#c0c0c0"/><rect x="904" y="713" width="1" height="48" fill="#c0c0c0"/><rect x="908" y="716" width="1" height="45" fill="#c0c0c0"/><rect x="912" y="718" width="1" height="43" fill="#c0c0c0"/><rect x="916" y="721" width="1" height="40" fill="#c0c0c0"/><rect x="920" y="722" width="1" height="39" fill="#c0c0c0"/><rect x="924" y="723" width="1" height="38" fill="#c0c0c0"/><rect x="928" y="724" width="1" height="37" fill="#c0c0c0"/><rect x="932" y="724" width="1" height="37" fill="#c0c0c0"/><rect x="936" y="721" width="1" height="40" fill="#c0c0c0"/><rect x="940" y="718" width="1" height="43" fill="#c0c0c0"/><rect x="944" y="714" width="1" height="47" fill="#c0c0c0"/><rect x="948" y="712" width="1" height="49" fill="#c0c0c0"/><rect x="952" y="711" width="1" height="50" fill="#c0c0c0"/><rect x="956" y="712" width="1" height="49" fill="#c0c0c0"/><rect x="960" y="712" width="1" height="49" fill="#c0c0c0"/><rect x="964" y="713" width="1" height="48" fill="#c0c0c0"/><rect x="968" y="712" width="1" height="49" fill="#c0c0c0"/><rect x="972" y="713" width="1" height="48" fill="#c0c0c0"/><rect x="976" y="716" width="1" height="45" fill="#c0c0c0"/><rect x="980" y="720" width="1" height="41" fill="#c0c0c0"/><rect x="984" y="725" width="1" height="36" fill="#c0c0c0"/><rect x="988" y="731" width="1" height="30" fill="#c0c0c0"/><rect x="992" y="734" width="1" height="27" fill="#c0c0c0"/><rect x="996" y="738" width="1" height="23" fill="#c0c0c0"/><rect x="1000" y="741" width="1" height="20" fill="#c0c0c0"/><rect x="1004" y="747" width="1" height="14" fill="#c0c0c0"/><rect x="1008" y="755" width="1" height="6" fill="#c0c0c0"/><rect x="1012" y="760" width="1" height="1" fill="#c0c0c0"/><rect x="1016" y="760" width="1" height="1" fill="#c0c0c0"/><rect x="1020" y="760" width="1" height="2" fill="#c0c0c0"/><rect x="1024" y="760" width="1" height="2" fill="#c0c0c0"/><rect x="1028" y="760" width="1" height="1" fill="#c0c0c0"/><rect x="1032" y="760" width="1" height="1" fill="#c0c0c0"/><rect x="1036" y="760" width="1" height="1" fill="#c0c0c0"/><rect x="1040" y="758" width="1" height="3" fill="#c0c0c0"/><rect x="1044" y="758" width="1" height="3" fill="#c0c0c0"/><rect x="1048" y="755" width="1" height="6" fill="#c0c0c0"/><rect x="1052" y="754" width="1" height="7" fill="#c0c0c0"/><rect x="1056" y="752" width="1" height="9" fill="#c0c0c0"/><rect x="1060" y="750" width="1" height="11" fill="#c0c0c0"/><rect x="1064" y="749" width="1" height="12" fill="#c0c0c0"/><rect x="1068" y="748" width="1" height="13" fill="#c0c0c0"/><rect x="1072" y="747" width="1" height="14" fill="#c0c0c0"/><rect x="1076" y="748" width="1" height="13" fill="#c0c0c0"/><rect x="1080" y="750" width="1" height="11" fill="#c0c0c0"/><rect x="1084" y="752" width="1" height="9" fill="#c0c0c0"/><rect x="1088" y="752" width="1" height="9" fill="#c0c0c0"/><rect x="1092" y="751" width="1" height="10" fill="#c0c0c0"/><rect x="1096" y="751" width="1" height="10" fill="#c0c0c0"/><rect x="1100" y="754" width="1" height="7" fill="#c0c0c0"/><rect x="1104" y="758" width="1" height="3" fill="#c0c0c0"/><rect x="1108" y="760" width="1" height="1" fill="#c0c0c0"/><rect x="1112" y="760" width="1" height="4" fill="#c0c0c0"/><rect x="1116" y="760" width="1" height="5" fill="#c0c0c0"/><rect x="1120" y="760" width="1" height="5" fill="#c0c0c0"/><rect x="1124" y="760" width="1" height="6" fill="#c0c0c0"/><rect x="1128" y="760" width="1" height="7" fill="#c0c0c0"/><rect x="1132" y="760" width="1" height="9" fill="#c0c0c0"/><rect x="1136" y="760" width="1" height="10" fill="#c0c0c0"/><rect x="1140" y="760" width="1" height="10" fill="#c0c0c0"/><rect x="1144" y="760" width="1" height="11" fill="#c0c0c0"/><rect x="1148" y="760" width="1" height="11" fill="#c0c0c0"/><rect x="1152" y="760" width="1" height="12" fill="#c0c0c0"/><rect x="1156" y="760" width="1" height="13" fill="#c0c0c0"/><rect x="1160" y="760" width="1" height="13" fill="#c0c0c0"/><rect x="1164" y="760" width="1" height="13" fill="#c0c0c0"/><rect x="1168" y="760" width="1" height="13" fill="#c0c0c0"/><rect x="1172" y="760" width="1" height="14" fill="#c0c0c0"/><rect x="1176" y="760" width="1" height="15" fill="#c0c0c0"/><rect x="1180" y="760" width="1" height="15" fill="#c0c0c0"/><rect x="1184" y="760" width="1" height="17" fill="#c0c0c0"/><rect x="1188" y="760" width="1" height="19" fill="#c0c0c0"/><rect x="1192" y="760" width="1" height="21" fill="#c0c0c0"/><rect x="1196" y="760" width="1" height="25" fill="#c0c0c0"/><rect x="1200" y="760" width="1" height="25" fill="#c0c0c0"/><rect x="1204" y="760" width="1" height="26" fill="#c0c0c0"/><rect x="1208" y="760" width="1" height="25" fill="#c0c0c0"/><rect x="1212" y="760" width="1" height="23" fill="#c0c0c0"/><rect x="1216" y="760" width="1" height="21" fill="#c0c0c0"/><rect x="1220" y="760" width="1" height="19" fill="#c0c0c0"/><rect x="1224" y="760" width="1" height="18" fill="#c0c0c0"/><rect x="1228" y="760" width="1" height="18" fill="#c0c0c0"/><rect x="1232" y="760" width="1" height="16" fill="#c0c0c0"/><rect x="1236" y="760" width="1" height="14" fill="#c0c0c0"/><rect x="1240" y="760" width="1" height="11" fill="#c0c0c0"/><rect x="1244" y="760" width="1" height="9" fill="#c0c0c0"/><rect x="1248" y="760" width="1" height="7" fill="#c0c0c0"/><rect x="1252" y="760" width="1" height="5" fill="#c0c0c0"/><rect x="1256" y="760" width="1" height="4" fill="#c0c0c0"/><rect x="1260" y="760" width="1" height="5" fill="#c0c0c0"/><rect x="1264" y="760" width="1" height="5" fill="#c0c0c0"/><rect x="1268" y="760" width="1" height="4" fill="#c0c0c0"/><rect x="1272" y="760" width="1" height="4" fill="#c0c0c0"/><rect x="1276" y="760" width="1" height="3" fill="#c0c0c0"/><rect x="1280" y="760" width="1" height="2" fill="#c0c0c0"/><rect x="1284" y="759" width="1" height="2" fill="#c0c0c0"/><rect x="1288" y="759" width="1" height="2" fill="#c0c0c0"/><rect x="1292" y="759" width="1" height="2" fill="#c0c0c0"/><rect x="1296" y="759" width="1" height="2" fill="#c0c0c0"/><rect x="1300" y="760" width="1" height="1" fill="#c0c0c0"/><rect x="1304" y="760" width="1" height="1" fill="#c0c0c0"/><rect x="1308" y="760" width="1" height="1" fill="#c0c0c0"/><rect x="1312" y="760" width="1" height="1" fill="#c0c0c0"/><rect x="1316" y="760" width="1" height="5" fill="#c0c0c0"/><rect x="1320" y="760" width="1" height="5" fill="#c0c0c0"/><rect x="1324" y="760" width="1" height="7" fill="#c0c0c0"/><rect x="1328" y="760" width="1" height="9" fill="#c0c0c0"/><rect x="1332" y="760" width="1" height="10" fill="#c0c0c0"/><rect x="1336" y="760" width="1" height="10" fill="#c0c0c0"/><rect x="1340" y="760" width="1" height="10" fill="#c0c0c0"/>
<path d="M633,707h2v1h-2zM628,708h2v1h-2zM635,708h1v1h-1zM627,709h1v1h-1zM639,709h3v1h-3zM645,710h1v1h-1zM623,711h1v1h-1zM646,711h2v1h-2zM621,712h2v1h-2zM975,712h1v1h-1zM651,713h1v1h-1zM913,713h3v1h-3zM973,713h2v1h-2zM979,713h3v1h-3zM652,714h2v1h-2zM908,714h2v1h-2zM919,714h3v1h-3zM967,714h3v1h-3zM907,715h1v1h-1zM925,715h1v1h-1zM963,715h1v1h-1zM985,715h2v1h-2zM617,716h1v1h-1zM657,716h1v1h-1zM926,716h2v1h-2zM961,716h2v1h-2zM987,716h1v1h-1zM616,717h1v1h-1zM658,717h2v1h-2zM903,717h1v1h-1zM955,717h3v1h-3zM615,718h1v1h-1zM902,718h1v1h-1zM931,718h1v1h-1zM951,718h1v1h-1zM991,718h1v1h-1zM663,719h1v1h-1zM901,719h1v1h-1zM932,719h2v1h-2zM949,719h2v1h-2zM992,719h1v1h-1zM664,720h2v1h-2zM937,720h3v1h-3zM943,720h3v1h-3zM993,720h1v1h-1zM612,722h1v1h-1zM669,722h2v1h-2zM671,723h1v1h-1zM897,723h1v1h-1zM997,723h2v1h-2zM611,723h1v2h-1zM675,724h1v1h-1zM896,724h1v1h-1zM999,724h1v1h-1zM676,725h2v1h-2zM895,725h1v1h-1zM681,727h2v1h-2zM608,728h1v1h-1zM683,728h1v1h-1zM1003,728h1v1h-1zM687,729h1v1h-1zM893,729h1v1h-1zM1004,729h1v1h-1zM607,729h1v2h-1zM688,730h2v1h-2zM892,730h1v1h-1zM1005,730h1v1h-1zM891,731h1v1h-1zM693,732h2v1h-2zM695,733h1v1h-1zM604,734h1v1h-1zM699,734h1v1h-1zM1008,734h1v1h-1zM603,735h1v1h-1zM700,735h2v1h-2zM889,735h1v1h-1zM1009,735h1v1h-1zM602,736h1v1h-1zM705,736h1v1h-1zM888,736h1v1h-1zM1010,736h1v1h-1zM706,737h2v1h-2zM887,737h1v1h-1zM711,739h1v1h-1zM599,740h1v1h-1zM712,740h2v1h-2zM1013,740h1v1h-1zM885,741h1v1h-1zM1014,741h1v1h-1zM598,741h1v2h-1zM884,742h1v1h-1zM1015,742h1v1h-1zM717,743h2v1h-2zM883,743h1v1h-1zM719,744h1v1h-1zM594,746h1v1h-1zM1018,746h1v1h-1zM593,747h1v1h-1zM723,747h1v1h-1zM880,747h1v1h-1zM1019,747h1v1h-1zM592,748h1v1h-1zM724,748h2v1h-2zM879,748h1v1h-1zM1020,748h1v1h-1zM878,749h1v1h-1zM1090,749h3v1h-3zM1096,749h3v1h-3zM1079,750h2v1h-2zM1084,750h3v1h-3zM1102,750h1v1h-1zM588,751h1v1h-1zM729,751h2v1h-2zM1024,751h1v1h-1zM1078,751h1v1h-1zM1103,751h2v1h-2zM587,752h1v1h-1zM731,752h1v1h-1zM1025,752h2v1h-2zM1072,752h3v1h-3zM586,753h1v1h-1zM875,753h1v1h-1zM1068,753h1v1h-1zM1108,753h3v1h-3zM874,754h1v1h-1zM1066,754h2v1h-2zM582,755h1v1h-1zM735,755h1v1h-1zM873,755h1v1h-1zM1030,755h1v1h-1zM1114,755h2v1h-2zM575,756h2v1h-2zM580,756h2v1h-2zM736,756h1v1h-1zM1031,756h1v1h-1zM1062,756h1v1h-1zM1116,756h1v1h-1zM4,757h3v1h-3zM10,757h3v1h-3zM16,757h3v1h-3zM52,757h3v1h-3zM58,757h1v1h-1zM574,757h1v1h-1zM737,757h1v1h-1zM1032,757h1v1h-1zM1060,757h2v1h-2zM22,758h3v1h-3zM28,758h3v1h-3zM40,758h3v1h-3zM46,758h3v1h-3zM59,758h2v1h-2zM568,758h3v1h-3zM869,758h1v1h-1zM1055,758h2v1h-2zM1120,758h3v1h-3zM34,759h3v1h-3zM563,759h2v1h-2zM741,759h1v1h-1zM868,759h1v1h-1zM1036,759h3v1h-3zM1054,759h1v1h-1zM64,760h3v1h-3zM562,760h1v1h-1zM742,760h2v1h-2zM867,760h1v1h-1zM1042,760h1v1h-1zM1048,760h3v1h-3zM1126,760h2v1h-2zM1307,760h2v1h-2zM1312,760h3v1h-3zM1318,760h1v1h-1zM556,761h3v1h-3zM863,761h1v1h-1zM1043,761h2v1h-2zM1128,761h1v1h-1zM1300,761h3v1h-3zM1306,761h1v1h-1zM1319,761h2v1h-2zM70,762h2v1h-2zM472,762h3v1h-3zM478,762h3v1h-3zM484,762h3v1h-3zM490,762h3v1h-3zM496,762h3v1h-3zM502,762h1v1h-1zM551,762h2v1h-2zM747,762h1v1h-1zM861,762h2v1h-2zM1295,762h2v1h-2zM1324,762h3v1h-3zM72,763h1v1h-1zM467,763h2v1h-2zM503,763h2v1h-2zM508,763h3v1h-3zM514,763h3v1h-3zM520,763h3v1h-3zM550,763h1v1h-1zM748,763h2v1h-2zM849,763h3v1h-3zM855,763h3v1h-3zM1132,763h2v1h-2zM1288,763h3v1h-3zM1294,763h1v1h-1zM460,764h3v1h-3zM466,764h1v1h-1zM526,764h3v1h-3zM532,764h3v1h-3zM538,764h3v1h-3zM544,764h3v1h-3zM801,764h3v1h-3zM807,764h3v1h-3zM813,764h3v1h-3zM819,764h3v1h-3zM825,764h3v1h-3zM831,764h3v1h-3zM837,764h3v1h-3zM843,764h3v1h-3zM1134,764h1v1h-1zM1283,764h2v1h-2zM1330,764h2v1h-2zM76,765h2v1h-2zM455,765h2v1h-2zM753,765h2v1h-2zM789,765h3v1h-3zM795,765h3v1h-3zM1282,765h1v1h-1zM1332,765h1v1h-1zM78,766h1v1h-1zM136,766h3v1h-3zM142,766h3v1h-3zM148,766h3v1h-3zM154,766h3v1h-3zM454,766h1v1h-1zM755,766h1v1h-1zM779,766h1v1h-1zM783,766h3v1h-3zM1138,766h2v1h-2zM1276,766h3v1h-3zM1336,766h3v1h-3zM131,767h2v1h-2zM160,767h3v1h-3zM166,767h1v1h-1zM328,767h3v1h-3zM448,767h3v1h-3zM759,767h3v1h-3zM765,767h3v1h-3zM771,767h3v1h-3zM777,767h2v1h-2zM1140,767h1v1h-1zM1271,767h2v1h-2zM82,768h2v1h-2zM130,768h1v1h-1zM167,768h2v1h-2zM322,768h3v1h-3zM334,768h1v1h-1zM436,768h3v1h-3zM442,768h3v1h-3zM1144,768h3v1h-3zM1270,768h1v1h-1zM84,769h1v1h-1zM124,769h3v1h-3zM172,769h3v1h-3zM178,769h1v1h-1zM318,769h1v1h-1zM335,769h2v1h-2zM424,769h3v1h-3zM430,769h3v1h-3zM1150,769h1v1h-1zM1264,769h3v1h-3zM118,770h3v1h-3zM179,770h2v1h-2zM316,770h2v1h-2zM340,770h3v1h-3zM418,770h3v1h-3zM1151,770h2v1h-2zM1260,770h1v1h-1zM88,771h3v1h-3zM112,771h3v1h-3zM184,771h3v1h-3zM312,771h1v1h-1zM412,771h3v1h-3zM1156,771h3v1h-3zM1162,771h1v1h-1zM1258,771h2v1h-2zM94,772h1v1h-1zM106,772h3v1h-3zM310,772h2v1h-2zM346,772h2v1h-2zM408,772h1v1h-1zM1163,772h2v1h-2zM95,773h2v1h-2zM100,773h3v1h-3zM190,773h2v1h-2zM348,773h1v1h-1zM406,773h2v1h-2zM1168,773h3v1h-3zM1174,773h1v1h-1zM1254,773h1v1h-1zM192,774h1v1h-1zM306,774h1v1h-1zM1175,774h2v1h-2zM1180,774h3v1h-3zM1252,774h2v1h-2zM304,775h2v1h-2zM400,775h3v1h-3zM1186,775h3v1h-3zM1248,775h1v1h-1zM196,776h1v1h-1zM352,776h2v1h-2zM396,776h1v1h-1zM1192,776h2v1h-2zM1246,776h2v1h-2zM197,777h2v1h-2zM300,777h1v1h-1zM354,777h1v1h-1zM394,777h2v1h-2zM1194,777h1v1h-1zM299,778h1v1h-1zM1198,778h1v1h-1zM1242,778h1v1h-1zM298,779h1v1h-1zM358,779h2v1h-2zM388,779h3v1h-3zM1199,779h2v1h-2zM1240,779h2v1h-2zM202,780h1v1h-1zM360,780h1v1h-1zM1204,780h2v1h-2zM203,781h1v1h-1zM294,781h1v1h-1zM364,781h3v1h-3zM383,781h2v1h-2zM1206,781h1v1h-1zM1235,781h2v1h-2zM204,782h1v1h-1zM292,782h2v1h-2zM370,782h3v1h-3zM382,782h1v1h-1zM1210,782h3v1h-3zM1234,782h1v1h-1zM376,783h3v1h-3zM1216,783h3v1h-3zM1222,783h3v1h-3zM1228,783h3v1h-3zM208,784h1v1h-1zM256,784h3v1h-3zM287,784h2v1h-2zM209,785h2v1h-2zM250,785h3v1h-3zM262,785h1v1h-1zM286,785h1v1h-1zM244,786h3v1h-3zM263,786h2v1h-2zM268,786h3v1h-3zM274,786h3v1h-3zM280,786h3v1h-3zM239,787h2v1h-2zM214,788h2v1h-2zM238,788h1v1h-1zM216,789h1v1h-1zM234,789h1v1h-1zM220,790h3v1h-3zM232,790h2v1h-2zM226,791h3v1h-3z" fill="#ff0000"/>
<text x="8" y="710" font-size="10" fill="#000" textLength="154" lengthAdjust="spacingAndGlyphs" font-weight="normal" xml:space="preserve" stroke="#000" stroke-width="0.08">MACD(12,26,9) -0.010480 -0.006414</text>
<text transform="translate(1688,708) scale(0.93,1)" font-size="10" fill="#000" text-anchor="start" font-weight="normal" stroke="#000" stroke-width="0.08">0.063184</text>
<text transform="translate(1688,764) scale(0.93,1)" font-size="10" fill="#000" text-anchor="start" font-weight="normal" stroke="#000" stroke-width="0.08">0.00</text>
<rect x="1685" y="760" width="2" height="1" fill="#000"/>
<text transform="translate(1688,797) scale(0.93,1)" font-size="10" fill="#000" text-anchor="start" font-weight="normal" stroke="#000" stroke-width="0.08">-0.040355</text>
<rect x="1685" y="799" width="1" height="1" fill="#000"/>
<rect x="4" y="801" width="1" height="3" fill="#000"/>
<text x="3.5" y="813" font-size="10" fill="#000" textLength="53.2" lengthAdjust="spacingAndGlyphs" font-weight="normal" xml:space="preserve" stroke="#000" stroke-width="0.08">17 Nov 2018</text>
<rect x="68" y="801" width="1" height="3" fill="#000"/>
<text x="67.5" y="813" font-size="10" fill="#000" textLength="47" lengthAdjust="spacingAndGlyphs" font-weight="normal" xml:space="preserve" stroke="#000" stroke-width="0.08">6 Dec 2018</text>
<rect x="132" y="801" width="1" height="3" fill="#000"/>
<text x="131.5" y="813" font-size="10" fill="#000" textLength="51.7" lengthAdjust="spacingAndGlyphs" font-weight="normal" xml:space="preserve" stroke="#000" stroke-width="0.08">25 Dec 2018</text>
<rect x="196" y="801" width="1" height="3" fill="#000"/>
<text x="195.5" y="813" font-size="10" fill="#000" textLength="49.2" lengthAdjust="spacingAndGlyphs" font-weight="normal" xml:space="preserve" stroke="#000" stroke-width="0.08">12 Jan 2019</text>
<rect x="260" y="801" width="1" height="3" fill="#000"/>
<text x="259.5" y="813" font-size="10" fill="#000" textLength="49.3" lengthAdjust="spacingAndGlyphs" font-weight="normal" xml:space="preserve" stroke="#000" stroke-width="0.08">31 Jan 2019</text>
<rect x="324" y="801" width="1" height="3" fill="#000"/>
<text x="323.5" y="813" font-size="10" fill="#000" textLength="51.3" lengthAdjust="spacingAndGlyphs" font-weight="normal" xml:space="preserve" stroke="#000" stroke-width="0.08">19 Feb 2019</text>
<rect x="388" y="801" width="1" height="3" fill="#000"/>
<text x="387.5" y="813" font-size="10" fill="#000" textLength="46.6" lengthAdjust="spacingAndGlyphs" font-weight="normal" xml:space="preserve" stroke="#000" stroke-width="0.08">9 Mar 2019</text>
<rect x="452" y="801" width="1" height="3" fill="#000"/>
<text x="451.5" y="813" font-size="10" fill="#000" textLength="51.3" lengthAdjust="spacingAndGlyphs" font-weight="normal" xml:space="preserve" stroke="#000" stroke-width="0.08">28 Mar 2019</text>
<rect x="516" y="801" width="1" height="3" fill="#000"/>
<text x="515.5" y="813" font-size="10" fill="#000" textLength="50" lengthAdjust="spacingAndGlyphs" font-weight="normal" xml:space="preserve" stroke="#000" stroke-width="0.08">16 Apr 2019</text>
<rect x="580" y="801" width="1" height="3" fill="#000"/>
<text x="579.5" y="813" font-size="10" fill="#000" textLength="48.7" lengthAdjust="spacingAndGlyphs" font-weight="normal" xml:space="preserve" stroke="#000" stroke-width="0.08">6 May 2019</text>
<rect x="644" y="801" width="1" height="3" fill="#000"/>
<text x="643.5" y="813" font-size="10" fill="#000" textLength="53.4" lengthAdjust="spacingAndGlyphs" font-weight="normal" xml:space="preserve" stroke="#000" stroke-width="0.08">30 May 2019</text>
<rect x="708" y="801" width="1" height="3" fill="#000"/>
<text x="707.5" y="813" font-size="10" fill="#000" textLength="49.3" lengthAdjust="spacingAndGlyphs" font-weight="normal" xml:space="preserve" stroke="#000" stroke-width="0.08">18 Jun 2019</text>
<rect x="772" y="801" width="1" height="3" fill="#000"/>
<text x="771.5" y="813" font-size="10" fill="#000" textLength="41.2" lengthAdjust="spacingAndGlyphs" font-weight="normal" xml:space="preserve" stroke="#000" stroke-width="0.08">6 Jul 2019</text>
<rect x="836" y="801" width="1" height="3" fill="#000"/>
<text x="835.5" y="813" font-size="10" fill="#000" textLength="46.6" lengthAdjust="spacingAndGlyphs" font-weight="normal" xml:space="preserve" stroke="#000" stroke-width="0.08">25 Jul 2019</text>
<rect x="900" y="801" width="1" height="3" fill="#000"/>
<text x="899.5" y="813" font-size="10" fill="#000" textLength="51.6" lengthAdjust="spacingAndGlyphs" font-weight="normal" xml:space="preserve" stroke="#000" stroke-width="0.08">13 Aug 2019</text>
<rect x="964" y="801" width="1" height="3" fill="#000"/>
<text x="963.5" y="813" font-size="10" fill="#000" textLength="52.1" lengthAdjust="spacingAndGlyphs" font-weight="normal" xml:space="preserve" stroke="#000" stroke-width="0.08">31 Aug 2019</text>
<rect x="1028" y="801" width="1" height="3" fill="#000"/>
<text x="1027.5" y="813" font-size="10" fill="#000" textLength="50.8" lengthAdjust="spacingAndGlyphs" font-weight="normal" xml:space="preserve" stroke="#000" stroke-width="0.08">19 Sep 2019</text>
<rect x="1092" y="801" width="1" height="3" fill="#000"/>
<text x="1091.5" y="813" font-size="10" fill="#000" textLength="45.6" lengthAdjust="spacingAndGlyphs" font-weight="normal" xml:space="preserve" stroke="#000" stroke-width="0.08">8 Oct 2019</text>
<rect x="1156" y="801" width="1" height="3" fill="#000"/>
<text x="1155.5" y="813" font-size="10" fill="#000" textLength="50.3" lengthAdjust="spacingAndGlyphs" font-weight="normal" xml:space="preserve" stroke="#000" stroke-width="0.08">26 Oct 2019</text>
<rect x="1220" y="801" width="1" height="3" fill="#000"/>
<text x="1219.5" y="813" font-size="10" fill="#000" textLength="53.4" lengthAdjust="spacingAndGlyphs" font-weight="normal" xml:space="preserve" stroke="#000" stroke-width="0.08">14 Nov 2019</text>
<rect x="1284" y="801" width="1" height="3" fill="#000"/>
<text x="1283.5" y="813" font-size="10" fill="#000" textLength="46.6" lengthAdjust="spacingAndGlyphs" font-weight="normal" xml:space="preserve" stroke="#000" stroke-width="0.08">3 Dec 2019</text>
<rect x="0" y="821" width="1727" height="1" fill="#e3e3e3"/>
<rect x="0" y="824" width="1727" height="1" fill="#ffffff"/>
<rect x="0" y="825" width="1727" height="18" fill="#f0f0f0"/>
<rect x="0" y="823" width="1727" height="1" fill="#000"/>
<rect x="0" y="824" width="1" height="19" fill="#555555"/>
<rect x="1" y="825" width="1" height="18" fill="#fafafa"/>
<rect x="416" y="824" width="1" height="18" fill="#fff"/>
<rect x="417" y="823" width="104" height="19" fill="#000"/>
<rect x="418" y="823" width="102" height="18" fill="#fff"/>
<rect x="521" y="825" width="1" height="18" fill="#a8a8a8"/>
<rect x="418" y="842" width="104" height="1" fill="#a8a8a8"/>
<text x="17.4" y="838" font-size="12.5" fill="#5c5c5c" textLength="79.3" lengthAdjust="spacingAndGlyphs" font-weight="normal" xml:space="preserve" stroke="#5c5c5c" stroke-width="0">EURUSD,Daily</text>
<text x="119.5" y="838" font-size="12.5" fill="#5c5c5c" textLength="78.4" lengthAdjust="spacingAndGlyphs" font-weight="normal" xml:space="preserve" stroke="#5c5c5c" stroke-width="0">USDCHF,Daily</text>
<text x="220" y="838" font-size="12.5" fill="#5c5c5c" textLength="81.7" lengthAdjust="spacingAndGlyphs" font-weight="normal" xml:space="preserve" stroke="#5c5c5c" stroke-width="0">AUDUSD,Daily</text>
<text x="324.3" y="838" font-size="12.5" fill="#5c5c5c" textLength="80.7" lengthAdjust="spacingAndGlyphs" font-weight="normal" xml:space="preserve" stroke="#5c5c5c" stroke-width="0">USDCAD,Daily</text>
<rect x="109" y="826" width="1" height="14" fill="#606060"/>
<rect x="209" y="826" width="1" height="14" fill="#606060"/>
<rect x="313" y="826" width="1" height="14" fill="#606060"/>
<text x="427.7" y="838" font-size="12.5" fill="#000" textLength="82.3" lengthAdjust="spacingAndGlyphs" font-weight="normal" xml:space="preserve" stroke="#000" stroke-width="0.1">USDCNH,Daily</text>
<polygon points="1699.5,832 1703,828.5 1703,835.5" fill="#a0a0a0"/>
<polygon points="1722.5,832 1719,828.5 1719,835.5" fill="#a0a0a0"/>
<rect x="0" y="2" width="1" height="1" fill="#4a4a4a"/><rect x="2" y="2" width="1" height="1" fill="#4a4a4a"/><rect x="4" y="2" width="1" height="1" fill="#4a4a4a"/><rect x="6" y="2" width="1" height="1" fill="#4a4a4a"/><rect x="8" y="2" width="1" height="1" fill="#4a4a4a"/><rect x="10" y="2" width="1" height="1" fill="#4a4a4a"/><rect x="12" y="2" width="1" height="1" fill="#4a4a4a"/><rect x="0" y="6" width="1" height="1" fill="#4a4a4a"/><rect x="2" y="6" width="1" height="1" fill="#4a4a4a"/><rect x="4" y="6" width="1" height="1" fill="#4a4a4a"/><rect x="6" y="6" width="1" height="1" fill="#4a4a4a"/><rect x="8" y="6" width="1" height="1" fill="#4a4a4a"/><rect x="10" y="6" width="1" height="1" fill="#4a4a4a"/><rect x="12" y="6" width="1" height="1" fill="#4a4a4a"/><rect x="0" y="10" width="1" height="1" fill="#4a4a4a"/><rect x="2" y="10" width="1" height="1" fill="#4a4a4a"/><rect x="4" y="10" width="1" height="1" fill="#4a4a4a"/><rect x="6" y="10" width="1" height="1" fill="#4a4a4a"/><rect x="8" y="10" width="1" height="1" fill="#4a4a4a"/><rect x="10" y="10" width="1" height="5" fill="#4a4a4a"/><rect x="10" y="10" width="4" height="1" fill="#4a4a4a"/><rect x="10" y="12" width="3" height="1" fill="#4a4a4a"/><rect x="57" y="0" width="1" height="1" fill="#555"/><rect x="68" y="0" width="1" height="1" fill="#555"/><rect x="57" y="2" width="1" height="1" fill="#555"/><rect x="68" y="2" width="1" height="1" fill="#555"/><rect x="57" y="4" width="1" height="1" fill="#555"/><rect x="68" y="4" width="1" height="1" fill="#555"/><rect x="57" y="6" width="1" height="1" fill="#555"/><rect x="68" y="6" width="1" height="1" fill="#555"/><rect x="57" y="8" width="1" height="1" fill="#555"/><rect x="68" y="8" width="1" height="1" fill="#555"/><rect x="57" y="10" width="1" height="1" fill="#555"/><rect x="68" y="10" width="1" height="1" fill="#555"/><rect x="57" y="12" width="1" height="1" fill="#555"/><rect x="68" y="12" width="1" height="1" fill="#555"/><rect x="57" y="12" width="1" height="1" fill="#555"/><rect x="57" y="0" width="1" height="1" fill="#555"/><rect x="59" y="12" width="1" height="1" fill="#555"/><rect x="59" y="0" width="1" height="1" fill="#555"/><rect x="61" y="12" width="1" height="1" fill="#555"/><rect x="61" y="0" width="1" height="1" fill="#555"/><rect x="63" y="12" width="1" height="1" fill="#555"/><rect x="63" y="0" width="1" height="1" fill="#555"/><rect x="65" y="12" width="1" height="1" fill="#555"/><rect x="65" y="0" width="1" height="1" fill="#555"/><rect x="67" y="12" width="1" height="1" fill="#555"/><rect x="67" y="0" width="1" height="1" fill="#555"/><rect x="59" y="3" width="8" height="1" fill="#555"/><rect x="62" y="3" width="2" height="8" fill="#555"/><rect x="87" y="0" width="1" height="1" fill="#555"/><rect x="86" y="1" width="3" height="1" fill="#555"/><rect x="85" y="2" width="5" height="1" fill="#555"/><rect x="84" y="3" width="7" height="1" fill="#555"/><rect x="86" y="4" width="3" height="1" fill="#555"/><rect x="93" y="8" width="3" height="1" fill="#555"/><rect x="91" y="9" width="7" height="1" fill="#555"/><rect x="92" y="10" width="5" height="1" fill="#555"/><rect x="93" y="11" width="3" height="1" fill="#555"/><rect x="94" y="12" width="1" height="1" fill="#555"/><rect x="105" y="5" width="5" height="1" fill="#000"/><rect x="106" y="6" width="3" height="1" fill="#000"/><rect x="107" y="7" width="1" height="1" fill="#000"/><rect x="116" y="0" width="1" height="18" fill="#a0a0a0"/><rect x="117" y="0" width="1" height="18" fill="#ffffff"/><rect x="120" y="0" width="3" height="1" fill="#b8b8b8"/><rect x="120" y="2" width="3" height="1" fill="#b8b8b8"/><rect x="120" y="4" width="3" height="1" fill="#b8b8b8"/><rect x="120" y="6" width="3" height="1" fill="#b8b8b8"/><rect x="120" y="8" width="3" height="1" fill="#b8b8b8"/><rect x="120" y="10" width="3" height="1" fill="#b8b8b8"/><rect x="120" y="12" width="3" height="1" fill="#b8b8b8"/><rect x="120" y="14" width="3" height="1" fill="#b8b8b8"/><rect x="294" y="0" width="1" height="16" fill="#888888"/><rect x="295" y="0" width="24" height="16" fill="#f8f8f8"/><rect x="294" y="16" width="26" height="1" fill="#ffffff"/><rect x="319" y="0" width="1" height="16" fill="#ffffff"/><rect x="377" y="0" width="1" height="18" fill="#888888"/><rect x="378" y="0" width="1" height="18" fill="#ffffff"/>
<polyline points="86.3,7.3 88.3,9.5 92.8,4.4" fill="none" stroke="#555" stroke-width="1.2" shape-rendering="auto"/>
<text transform="translate(30.6,11) scale(0.93,1)" font-size="12.5" fill="#4a4a4a" text-anchor="start" font-weight="normal" stroke="#4a4a4a" stroke-width="0.08">A</text>
<text x="131.6" y="10" font-size="9.8" fill="#404040" textLength="12.8" lengthAdjust="spacingAndGlyphs" font-weight="normal" xml:space="preserve" stroke="#404040" stroke-width="0.1">M1</text>
<text x="159.4" y="10" font-size="9.8" fill="#404040" textLength="13" lengthAdjust="spacingAndGlyphs" font-weight="normal" xml:space="preserve" stroke="#404040" stroke-width="0.1">M5</text>
<text x="185.4" y="10" font-size="9.8" fill="#404040" textLength="17.8" lengthAdjust="spacingAndGlyphs" font-weight="normal" xml:space="preserve" stroke="#404040" stroke-width="0.1">M15</text>
<text x="213.4" y="10" font-size="9.8" fill="#404040" textLength="17.9" lengthAdjust="spacingAndGlyphs" font-weight="normal" xml:space="preserve" stroke="#404040" stroke-width="0.1">M30</text>
<text x="244.6" y="10" font-size="9.8" fill="#404040" textLength="11.8" lengthAdjust="spacingAndGlyphs" font-weight="normal" xml:space="preserve" stroke="#404040" stroke-width="0.1">H1</text>
<text x="271.6" y="10" font-size="9.8" fill="#404040" textLength="12.7" lengthAdjust="spacingAndGlyphs" font-weight="normal" xml:space="preserve" stroke="#404040" stroke-width="0.1">H4</text>
<text x="300.6" y="10" font-size="9.8" fill="#404040" textLength="11.3" lengthAdjust="spacingAndGlyphs" font-weight="normal" xml:space="preserve" stroke="#404040" stroke-width="0.1">D1</text>
<text x="327.8" y="10" font-size="9.8" fill="#404040" textLength="14.2" lengthAdjust="spacingAndGlyphs" font-weight="normal" xml:space="preserve" stroke="#404040" stroke-width="0.1">W1</text>
<text x="354.8" y="10" font-size="9.8" fill="#404040" textLength="14.4" lengthAdjust="spacingAndGlyphs" font-weight="normal" xml:space="preserve" stroke="#404040" stroke-width="0.1">MN</text>
</svg>
</body></html>
